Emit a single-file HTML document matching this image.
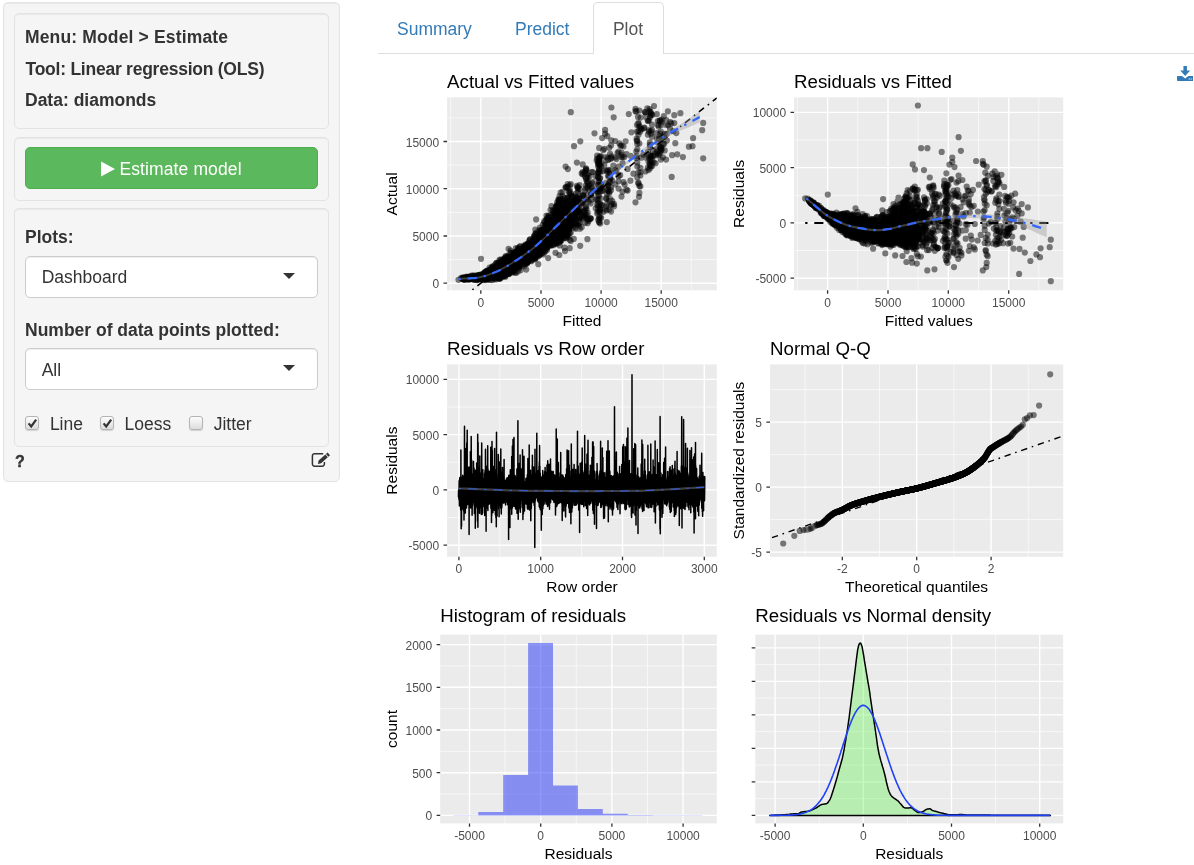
<!DOCTYPE html>
<html lang="en">
<head>
<meta charset="utf-8">
<title>Radiant - Linear regression (OLS)</title>
<style>
html,body{margin:0;padding:0;background:#fff;}
body{width:1194px;height:865px;position:relative;overflow:hidden;font-family:"Liberation Sans",Arial,sans-serif;font-size:17.5px;color:#333;}
.abs{position:absolute;}
.well{position:absolute;background:#f5f5f5;border:1px solid #e3e3e3;border-radius:5px;box-shadow:inset 0 1px 1px rgba(0,0,0,.05);box-sizing:border-box;}
.lbl{margin:-1px 0 0 -1px;position:absolute;font-weight:bold;white-space:nowrap;line-height:20px;height:20px;}
.txt{margin:-1px 0 0 -1px;position:absolute;white-space:nowrap;line-height:20px;height:20px;}
.btn{position:absolute;left:25px;top:147px;width:293px;height:42px;box-sizing:border-box;background:#5cb85c;border:1px solid #4cae4c;border-radius:5px;color:#fff;}
.sel{position:absolute;left:25px;width:293px;height:41px;box-sizing:border-box;background:#fff;border:1px solid #ccc;border-radius:5px;box-shadow:inset 0 1px 1px rgba(0,0,0,.075);}
.sel i{position:absolute;left:257px;top:15.5px;width:0;height:0;border-left:6px solid transparent;border-right:6px solid transparent;border-top:6px solid #333;}
.cb{position:absolute;top:416px;width:13.5px;height:13.5px;box-sizing:border-box;border:1px solid #b4b4b4;border-radius:3px;background:linear-gradient(#fdfdfd,#dcdcdc);box-shadow:0 1px 1px rgba(0,0,0,.15);}
.cb svg{position:absolute;left:0;top:0;}
.tabs{position:absolute;left:378px;top:0;width:816px;height:53px;border-bottom:1px solid #ddd;}
.tab{margin:-1px 0 0 -1px;position:absolute;white-space:nowrap;line-height:20px;height:20px;color:#337ab7;}
.tab.active{color:#555;}
.tabbox{position:absolute;left:593px;top:2px;width:71px;height:52px;box-sizing:border-box;border:1px solid #ddd;border-bottom:none;border-radius:5px 5px 0 0;background:#fff;}
svg text{font-family:"Liberation Sans",Arial,sans-serif;}
</style>
</head>
<body>
<!-- sidebar -->
<div class="well" style="left:3px;top:2px;width:337px;height:480px;"></div>
<div class="well" style="left:14px;top:13px;width:315px;height:115.5px;"></div>
<div class="lbl" id="l1" style="left:26px;top:27.5px;letter-spacing:0.15px;">Menu: Model &gt; Estimate</div>
<div class="lbl" id="l2" style="left:26.5px;top:60px;letter-spacing:-0.24px;">Tool: Linear regression (OLS)</div>
<div class="lbl" id="l3" style="left:26px;top:90.5px;">Data<span>:</span> diamonds</div>

<div class="well" style="left:14px;top:136.5px;width:315px;height:64px;"></div>
<div class="btn">
  <svg class="abs" style="left:74px;top:13px" width="16" height="17" viewBox="0 0 16 17"><path d="M1 0.6 L15 8 L1 15.4 Z" fill="#fff"/></svg>
  <div class="txt" id="bt" style="left:94.4px;top:12px;color:#fff;letter-spacing:0.12px;">Estimate model</div>
</div>

<div class="well" style="left:14px;top:207.5px;width:315px;height:239.5px;"></div>
<div class="lbl" id="l4" style="left:26px;top:228px;">Plots:</div>
<div class="sel" style="top:256px;height:41.5px;"><div class="txt" id="s1" style="left:16.7px;top:11px;">Dashboard</div><i></i></div>
<div class="lbl" id="l5" style="left:26px;top:321px;">Number of data points plotted:</div>
<div class="sel" style="top:348px;height:41.5px;"><div class="txt" id="s2" style="left:16.7px;top:11.5px;">All</div><i></i></div>

<div class="cb" style="left:25px;"><svg width="13" height="13" viewBox="0 0 13 13"><path d="M2.6 6.4 L5.2 9.4 L10.2 2.6" fill="none" stroke="#333" stroke-width="2.2"/></svg></div>
<div class="txt" id="c1" style="left:50.9px;top:414.9px;">Line</div>
<div class="cb" style="left:100px;"><svg width="13" height="13" viewBox="0 0 13 13"><path d="M2.6 6.4 L5.2 9.4 L10.2 2.6" fill="none" stroke="#333" stroke-width="2.2"/></svg></div>
<div class="txt" id="c2" style="left:125.5px;top:414.9px;">Loess</div>
<div class="cb" style="left:189px;"></div>
<div class="txt" id="c3" style="left:214.7px;top:414.9px;">Jitter</div>

<div class="lbl" id="q" style="left:16px;top:453px;font-size:16px;-webkit-text-stroke:0.4px #333;">?</div>
<svg class="abs" style="left:311px;top:452px" width="20" height="16" viewBox="0 0 20 16">
  <path d="M13.4 10 V12 a2.15 2.15 0 0 1 -2.15 2.15 H3.55 a2.15 2.15 0 0 1 -2.15 -2.15 V3.9 a2.15 2.15 0 0 1 2.15 -2.15 H12.2" fill="none" stroke="#333" stroke-width="1.5"/>
  <path d="M6.9 11.9 L7.6 8.6 L14.4 2.6 L16.8 5.2 L10.1 11.3 Z M15 2.1 L16.6 0.6 L19 3.2 L17.4 4.7 Z" fill="#333"/>
</svg>

<!-- tabs -->
<div class="tabs"></div>
<div class="tabbox"></div>
<div class="tab" id="t1" style="left:398px;top:19.8px;">Summary</div>
<div class="tab" id="t2" style="left:516px;top:19.8px;">Predict</div>
<div class="tab active" id="t3" style="left:613.9px;top:19.8px;">Plot</div>

<!-- download icon -->
<svg class="abs" style="left:1177px;top:66px" width="16.4" height="15" viewBox="0 0 17 15" preserveAspectRatio="none">
  <path d="M6.7 0 H10.3 V4.6 H13.6 L8.5 10 L3.4 4.6 H6.7 Z" fill="#337ab7"/>
  <path d="M0.8 10 H5.2 L8.5 12.6 L11.8 10 H16.2 a0.8 0.8 0 0 1 .8 .8 V14.2 a0.8 0.8 0 0 1 -.8 .8 H0.8 a0.8 0.8 0 0 1 -.8 -.8 V10.8 a0.8 0.8 0 0 1 .8 -.8 Z" fill="#337ab7"/>
  <rect x="12.2" y="12.3" width="1" height="1.4" fill="#fff" opacity=".8"/><rect x="14.2" y="12.3" width="1" height="1.4" fill="#fff" opacity=".8"/>
</svg>

<!-- plots -->
<svg class="abs" style="left:0;top:0" width="1194" height="865" viewBox="0 0 1194 865">
<clipPath id="cp1"><rect x="447.1" y="97.4" width="269.7" height="192.9"/></clipPath>
<rect x="447.1" y="97.4" width="269.7" height="192.9" fill="#ebebeb"/>
<path d="M450.7 97.4V290.3M510.9 97.4V290.3M571 97.4V290.3M631.2 97.4V290.3M691.3 97.4V290.3M447.1 259.6H716.8M447.1 212.4H716.8M447.1 165.1H716.8M447.1 117.9H716.8" stroke="#fff" stroke-width="0.7" fill="none" opacity="0.85"/>
<path d="M480.8 97.4V290.3M541 97.4V290.3M601.1 97.4V290.3M661.2 97.4V290.3M447.1 283.2H716.8M447.1 236H716.8M447.1 188.7H716.8M447.1 141.5H716.8" stroke="#fff" stroke-width="1.4" fill="none"/>
<g clip-path="url(#cp1)" stroke="#000" stroke-opacity="0.5" stroke-width="6.2" stroke-linecap="round" fill="none">
<path d="M598.2 161.8h0M547.4 243.4h0M486.1 276h0M512.9 260h0M536 252.3h0M494.6 268.6h0M549.4 216.8h0M479.4 278.7h0M495.6 269.8h0M554.5 222.1h0M544.3 230.7h0M474.9 277.1h0M538.3 242.8h0M463.8 279h0M487.1 270.7h0M505.7 270.1h0M577.8 203.5h0M489.6 276h0M578.8 203.3h0M497.4 269.1h0M469.3 278.7h0M528.1 254.5h0M517 263h0M578.8 208.2h0M495.6 270.1h0M581.7 216.6h0M504.4 268.9h0M557.6 239.5h0M468.8 278.9h0M549.4 231.7h0M524.1 262.2h0M510.6 261.3h0M497.7 278h0M546.4 242.4h0M574.8 218.7h0M544 238.6h0M525 263.9h0M493.3 272.2h0M488.5 274.8h0M575.8 199.3h0M487.5 276.6h0M542.9 244.5h0M535.3 246.6h0M518 252.2h0M552.5 226.6h0M553.5 227.5h0M551.5 233.8h0M501.8 275.2h0M574.9 207.3h0M485.4 275.2h0M558.2 204h0M481.4 278.8h0M491.3 275.5h0M530.1 245.9h0M509.4 269.5h0M500.4 262.1h0M639.4 185.9h0M580.3 141.3h0M469.3 278.9h0M564.7 207.2h0M506.4 260.5h0M535.3 248.1h0M526 250.4h0M484.4 274.9h0M547 228.5h0M651 113.1h0M556.6 223.7h0M505.4 275h0M506.4 268.6h0M479.4 277.4h0M535.8 242.1h0M659.1 150.9h0M574.8 209h0M560.3 230h0M489.5 274.5h0M548.2 234.6h0M557.5 229.8h0M486.1 275h0M489.3 273.3h0M548.4 244.2h0M569.5 193.4h0M504.8 269.4h0M564.6 230.3h0M540.4 230.1h0M497.7 266h0M608.3 176.5h0M483.4 277.5h0M480.4 276.8h0M527.9 261.8h0M518.9 258.8h0M516 267.1h0M494.4 275h0M612.1 180.5h0M510.8 262.3h0M566.4 238.2h0M494.4 267.6h0M519 266.7h0M508.6 255h0M468.2 278.5h0M497.7 270.1h0M497.7 266.8h0M510.5 250.5h0M487.4 275.6h0M499.4 269.1h0M524.7 245.9h0M468.8 278.6h0M501.7 260.7h0M487.1 278.4h0M508.8 259.9h0M491.5 275.2h0M568.7 230h0M524 263.9h0M487.5 274.6h0M509.6 264h0M526.1 255.9h0M569.7 219.9h0M525 246.3h0M519 252.5h0M498.4 273.5h0M534.8 250.4h0M467.8 278.4h0M538.3 247.9h0M509.8 254.7h0M555.1 220.6h0M555.5 252.8h0M471.9 278.7h0M555.1 244.2h0M500.5 266.7h0M545.2 241.2h0M565.6 218.5h0M552.5 244.6h0M517 260.7h0M570.5 221.9h0M507.4 264.2h0M525 253.9h0M550.5 234.6h0M541.3 245.1h0M627.6 190.6h0M510.6 271h0M481 258.8h0M556.5 231.8h0M516.9 261.3h0M566.7 235.3h0M467.8 278.6h0M498.7 271.1h0M493.7 271h0M559.3 230.6h0M606.2 157.1h0M558.2 235.1h0M505.4 271.7h0M491.3 275.3h0M537.9 242.5h0M559.5 215.9h0M536.8 247.1h0M568.8 222.6h0M517.7 259.4h0M586.6 199.5h0M488.5 273.3h0M517 255.6h0M498.7 262.7h0M517 250.9h0M497.7 274.9h0M600.2 209.9h0M487.5 274.9h0M559.5 235.2h0M547.4 238.3h0M515.9 267.6h0M584 211.2h0M547.4 240.4h0M560.3 239.7h0M494.5 275.3h0M554.5 225.4h0M512.9 272.1h0M464.8 278.7h0M534.8 247.7h0M541.9 241.1h0M548.5 226.5h0"/>
<path d="M676.3 133.1h0M558.3 221.7h0M515.9 261.2h0M534.1 249.5h0M638.4 123.1h0M486.5 276.8h0M536.2 246.7h0M532.8 250.3h0M489.3 272.9h0M477.4 277.8h0M506.4 259.2h0M536.8 241.5h0M527.1 253.6h0M548 235h0M497.7 270h0M500.7 268.3h0M495.7 277h0M541.9 234h0M503.7 266.3h0M506.6 267.1h0M555.5 230.7h0M466.8 278.8h0M499.8 271.9h0M659.7 120.7h0M540 252.7h0M656.8 114.2h0M638.4 172.3h0M533.3 252.9h0M552.5 225.6h0M587.4 239.2h0M523.9 255.2h0M598.2 204.9h0M546 227.3h0M574.8 210h0M559.3 232.4h0M555.5 209.9h0M539.3 249.2h0M487.4 274.7h0M574.8 199.2h0M494.7 270.1h0M544.3 231.8h0M541.9 250.4h0M480.4 278.1h0M506.4 271.4h0M495.6 272.6h0M561.4 232.9h0M526.7 247.3h0M480.4 274.8h0M564.4 225.8h0M482.2 275.1h0M498.6 272.8h0M501.5 267.5h0M488.1 274.1h0M674.3 123.1h0M511.7 270.9h0M474.9 277.6h0M497.7 271h0M555.5 213.1h0M479.4 279h0M484.4 276.5h0M502.7 272.6h0M468.8 279.9h0M492.3 278.1h0M529.9 259h0M478.4 279.2h0M566.8 227.4h0M469.8 277.4h0M593.1 190.9h0M512.9 260.7h0M517 252.5h0M605.9 183.2h0M496.7 271h0M556.6 220.8h0M525.7 255.4h0M548.4 242.3h0M576.8 197.7h0M588.6 188.9h0M551.5 241.6h0M488.3 275.9h0M566.6 203.4h0M588.6 221.1h0M609.3 193.3h0M492.2 276.2h0M597.8 203.3h0M541.9 241.6h0M640.5 117.6h0M585.6 214.6h0M474.9 278.6h0M637.3 166.3h0M494.6 271.7h0M547.4 247.6h0M564.6 225.2h0M569.7 227.9h0M485.4 276.5h0M546.4 219.2h0M468.2 278h0M536.8 248.3h0M505.4 269.2h0M586 185.4h0M530.1 239.4h0M491.2 270.5h0M568.7 219.9h0M523.1 249.1h0M515.9 256.3h0M548.4 227.8h0M564.6 197.9h0M557.6 240.9h0M495.6 274.7h0M517 251.5h0M504.7 274.3h0M494.6 273.7h0M495.4 264.7h0M529.9 256.5h0M514 263.2h0M652 124.7h0M561.4 220.7h0M637 125.1h0M514 264.4h0M513.5 261h0M531.1 257.8h0M540.9 232.4h0M529.1 251.1h0M577.8 210.1h0M577.8 201.9h0M499.7 271.5h0M536.8 242.1h0M519 260.3h0M492.7 274.4h0M660.1 133.6h0M540.9 231.1h0M525 251.5h0M485.4 276.8h0M545.3 237.8h0M600.2 209.6h0M615.4 170h0M592.7 172.2h0M513.6 259.9h0M562.4 218.4h0M509.6 267.6h0M546.4 226.8h0M476.4 279h0M566.7 209.3h0M470.3 278.2h0M557.6 208.2h0M568.7 215.8h0M559.3 209.2h0M579.8 201.5h0M576.9 185.9h0M538.2 242.5h0M524.1 255.1h0M546.4 243.2h0M557.1 226.7h0M631.4 132.3h0M563.7 217.8h0M557.1 216.2h0M556.1 225.9h0M539.3 252.6h0M486.1 278.2h0M517.9 252.3h0M480.4 275h0M533.3 247.1h0M489.3 277.8h0M511.5 269.8h0M559.3 211.4h0M552.5 239.2h0M570.8 241.1h0M487.3 271.6h0M569.7 225.7h0M526.1 247h0M486.5 275.2h0M537 252h0M493.2 274.5h0M519 265.7h0M574 146.2h0M493.6 274.7h0M478 278.3h0M583.7 211.8h0M495.6 264.1h0M569.5 222.5h0M524.1 251h0M574.8 216.3h0M477.3 278.6h0M502.8 267.5h0M508.8 270.2h0M479.4 278.7h0M481.4 279.2h0M548.4 220.7h0M495.6 274.4h0"/>
<path d="M469.3 276.9h0M557.6 229h0M567.7 223h0M486.5 273.4h0M475.3 277.9h0M535.8 253.8h0M575.8 205.8h0M564.3 228.5h0M554.5 232.4h0M486.5 275.8h0M489.5 276.4h0M555.5 220.3h0M497.7 276.2h0M516 265.1h0M546.4 238.8h0M518 265.9h0M522 255.3h0M550.5 238.2h0M565.6 187.5h0M599.2 217h0M484.4 276.3h0M488.5 277.6h0M546.4 223.8h0M555.5 219.1h0M555.5 238.5h0M546.4 230.7h0M495.6 267h0M540.9 240.2h0M549.2 239h0M495.2 274.8h0M555.3 228.9h0M512.6 271.1h0M487.5 278h0M542.1 245.9h0M533.9 249.9h0M529.9 247.8h0M500.5 277.3h0M536.8 250h0M547.4 227.8h0M575.7 201.4h0M494.5 273.2h0M494.6 275.4h0M500.5 267.4h0M475.3 278.9h0M481.4 275.8h0M537 240.5h0M482.4 275.5h0M582.7 174.2h0M482.4 278.1h0M504.7 272h0M666.1 159.6h0M513.6 253.1h0M538.2 250h0M488.3 275.7h0M607.3 136.2h0M556.6 214.7h0M486.5 275.5h0M661.7 122.2h0M511.6 264h0M495.7 270.2h0M482.4 277.6h0M565.7 207h0M507.4 258.4h0M558.2 229.3h0M540 238.8h0M484.4 275.2h0M516.5 261.2h0M486.5 276.6h0M503.7 271.8h0M555.5 233.5h0M688.9 146.7h0M518 271.6h0M504.7 267.1h0M498.7 267.5h0M511.5 268.3h0M548.4 245.4h0M567.7 186.6h0M659 139.3h0M520.9 252.8h0M489.3 271.9h0M497.6 268.2h0M503.6 266.1h0M494.6 272.3h0M518.9 254.7h0M555.5 232.4h0M512.6 259.7h0M549.4 233.7h0M499.7 277.5h0M514 261.9h0M549.4 243.9h0M539.9 227.5h0M536.8 247.5h0M479.4 277.7h0M484.5 273.4h0M558.3 226.8h0M519 264.9h0M640.1 131.7h0M492.3 274.9h0M547.4 230.1h0M571.8 222h0M560.6 212.5h0M511.9 262.8h0M485.4 273.5h0M475.3 276.4h0M480.4 278.9h0M504.7 265.1h0M510.6 270h0M478.4 275.6h0M529.9 239.6h0M487.5 275h0M527.1 248.1h0M496.7 268.5h0M569.7 191.6h0M467.8 278.5h0M524.1 253.1h0M497.6 273.4h0M555.5 217.4h0M480.4 274.6h0M506.8 270.3h0M586.9 181.6h0M510.8 267.1h0M620.5 145.7h0M487.5 271.9h0M511.7 267.4h0M510.7 269.7h0M521 260.3h0M498.6 266.9h0M504.7 269h0M558.6 225.9h0M490.3 275.9h0M541.1 239.2h0M504.7 269.5h0M545.3 242.7h0M586.6 198.6h0M556.5 232.2h0M562.6 199.4h0M503.8 267.5h0M515.9 253.2h0M485.4 277.4h0M561.4 223.9h0M483.5 277h0M476.4 278.6h0M517 260.5h0M466.8 279.1h0M603.2 212h0M653.6 162.2h0M477.4 278.7h0M491.3 275.4h0M493.6 266.3h0M528.1 254.4h0M564.6 214.8h0M497.4 268.3h0M580.9 211.9h0M505.6 264.6h0M500.5 268.6h0M578.9 198.7h0M639.4 127h0M549.4 238.6h0M582.7 203h0M552.5 227.5h0M490.2 274.1h0M563.4 235.4h0M482.2 277h0M636.3 151.5h0M564.3 223h0M463.8 279h0M492.7 274.7h0M535.8 256.4h0M507.9 271.6h0M587.7 187.4h0M492.3 272.7h0M569.7 248.2h0M653 150.7h0M575.8 196.5h0M487.5 275.7h0M583.7 196h0M525.7 250.9h0M553.5 220.1h0M458.5 279.8h0M599.2 159.6h0M494.6 271.2h0M535.8 233.3h0M526 250.8h0M492.6 269h0M548.4 232h0M583.9 215.3h0M626.5 189.7h0M610.9 187.2h0M493.3 276.7h0M609.3 187.1h0M549.4 228.1h0M509.6 271.3h0M522 252.8h0M477.4 278.4h0M558.3 228.1h0M519 268.1h0M515 255.1h0M557.1 202.6h0M490.2 276.2h0M508.9 264.8h0M606.9 193.7h0M540 243.6h0M535.3 258.6h0M548.4 230.4h0M475.3 277.8h0M513.8 269.7h0M504.8 266.4h0M493.6 270.2h0M536.2 240.8h0M535.3 239.4h0M511.6 260.1h0M494.7 266.9h0M535.1 239h0M587.6 174.8h0"/>
<path d="M484.5 276.6h0M562.4 229.1h0M556.5 213.5h0M541.9 253.3h0M539.9 240h0M476.4 278.6h0M561.6 227.7h0M599.8 178.5h0M488.3 277.5h0M501.6 274.6h0M658.6 126.4h0M497.7 265.7h0M477.4 277.3h0M581.7 227.2h0M648.5 170.1h0M601.2 185.2h0M564.7 210.6h0M561.6 211h0M554.5 227.7h0M555.5 226.9h0M539.9 241.4h0M541.3 247.8h0M492.3 275.2h0M524.7 252.7h0M469.8 277.7h0M517.9 260.4h0M539.9 238.7h0M499.6 274.9h0M588.6 185.7h0M551.5 240.6h0M495.6 273h0M668.2 125.3h0M566.8 229.7h0M510.8 267.8h0M483.4 277.5h0M579.6 185.2h0M650.4 111.9h0M535.1 253.5h0M558.2 239.1h0M508.9 269.7h0M538.9 236.8h0M599.2 164.8h0M597.8 211.7h0M548.4 222.5h0M565.7 187h0M526.1 260.9h0M666.9 133.8h0M495.4 272.1h0M487.1 276.7h0M505.7 266.5h0M648.9 131.7h0M489.1 274.5h0M498.3 273.8h0M499.5 269.6h0M582.7 172.1h0M561.2 236.3h0M512.6 257.5h0M529.9 252.4h0M515.9 263.7h0M530.1 253.5h0M483.4 277h0M489.6 272.6h0M539.9 253.8h0M518 262h0M509.6 257.3h0M558.6 231.8h0M567.7 214h0M495.6 270.3h0M646.5 158h0M495.4 274.2h0M633.4 173.7h0M671.7 176.9h0M500.7 264.6h0M648.5 161.7h0M562.6 191.9h0M507.7 256.3h0M553.5 243.7h0M617.5 153.2h0M527.1 259.4h0M482.4 275.5h0M570.7 201.9h0M498.6 267h0M495.6 274.1h0M484.4 279.5h0M463.8 278.8h0M548.4 222.7h0M509.9 268.9h0M519.9 262.7h0M478.4 275.7h0M590.6 218.7h0M558.6 199.4h0M492.6 273.9h0M663.1 143.8h0M477 280.1h0M520.1 260.7h0M486.5 273.8h0M546 224.3h0M542.9 252.2h0M568.8 229.6h0M529.1 241.1h0M535.3 229.7h0M466.8 278.6h0M494.5 267.8h0M510.5 265.1h0M514.5 252.2h0M662.7 145.3h0M559.6 241.5h0M503.8 271.9h0M478.3 276.7h0M499.8 266.5h0M567.7 220.7h0M535.8 248.3h0M489.3 275h0M674.3 115.2h0M496.7 266.7h0M488.3 271.9h0M569.7 199.8h0M532.2 244h0M543.4 240.4h0M551.5 231.9h0M559.3 235.9h0M554.5 233.8h0M645.1 112.3h0M641.4 157.7h0M664.7 150.4h0M519 261.3h0M529.1 244.8h0M604.3 148.8h0M486.1 275.8h0M491.5 274.8h0M482.4 276.6h0M507.8 268.6h0M492.6 273.4h0M476.4 278.7h0M563.4 223.1h0M513.9 267.1h0M614.1 204h0M487.5 276.9h0M570.7 205.9h0M525 256h0M541.9 230.7h0M571.8 224h0M488.4 275h0M527.9 243.7h0M574.6 201.6h0M570.5 197.6h0M475.3 278.8h0M563.2 232.4h0M523.8 259.6h0M548.2 238.8h0M693.1 138.2h0M484.5 275.2h0M663.8 116.2h0M476.4 276.9h0M477.4 277.3h0"/>
<path d="M585.9 207.7h0M510.5 266.5h0M584.7 173h0M561.4 237.3h0M546.4 238.2h0M598.2 177.6h0M506.8 272h0M474.9 277.5h0M527.7 261.8h0M515.9 262h0M609.1 198.9h0M470.3 278h0M464.8 279.3h0M557.5 229.9h0M497.7 270.3h0M506.8 264.6h0M600.2 208.7h0M607.3 171.2h0M513.9 260h0M489.3 278.2h0M575.7 204.4h0M504.4 273.2h0M513.7 261.3h0M524 260.1h0M577.8 198.2h0M563.4 210.4h0M492.7 268.9h0M636.7 156.1h0M526 248.9h0M505.4 276.8h0M548.4 240.7h0M639 196.8h0M583.9 217.1h0M560.6 228.9h0M546.4 219.9h0M500.4 269h0M519 250.7h0M492.3 275.2h0M541.1 251.7h0M487.3 278.8h0M591 195.1h0M506.8 263.6h0M550.5 237.9h0M487.5 276.5h0M621.5 155h0M625.6 141.3h0M466.8 278.1h0M505.8 273.5h0M482.4 276.1h0M570.5 220.6h0M513.8 257.2h0M462.2 278.2h0M550 244.9h0M498.4 270h0M660.1 147.5h0M515.7 259h0M484.4 274h0M487.3 272.1h0M484.5 277.9h0M496.6 269.2h0M651.5 114.4h0M609.3 182.5h0M484.4 274.5h0M549.4 228.1h0M577.8 192.9h0M493.5 271.7h0M510.5 258.3h0M543.4 254.3h0M477.4 278.7h0M607.9 158.1h0M478.4 277.6h0M534.8 248.7h0M489.3 275.9h0M534.2 254.1h0M559.5 238.4h0M502.8 267.1h0M568.7 228.8h0M499.8 267.3h0M521.8 255.3h0M496.7 266.4h0M525.7 245.7h0M519 262.5h0M516.9 251.7h0M572.8 227.8h0M563.4 224.3h0M626.5 154.1h0M529.9 257.6h0M549.4 231.5h0M488.5 278.1h0M538.2 248.6h0M509.6 273h0M506.8 267h0M559.5 200.7h0M487.5 276.7h0M567.7 217.7h0M466.8 279.1h0M500.4 263.5h0M618.5 188.6h0M630.6 155.8h0M478.4 276.3h0M561.2 224.1h0M485.1 273.9h0M540 254h0M519 259.8h0M575.8 193.8h0M512.6 266.8h0M567.7 218.8h0M509.6 273.6h0M506.9 270.4h0M499.4 272.9h0M545 229.9h0M507.6 265h0M652 166.2h0M477.3 277.5h0M520 246.4h0M599.2 169.1h0M521.9 257.3h0M504.7 274.8h0M509.6 270h0M520 261.4h0M599.2 188.8h0M659.1 154.4h0M486.1 273h0M637 131.6h0M496.6 263.1h0M467.8 277.9h0M559.3 221.6h0M462.7 278.8h0M494.6 276.2h0M500.8 264.9h0M574.9 200.5h0M608.3 159.9h0M483.4 274.7h0M477.4 278.7h0M496.6 276h0M507.8 272h0M616.4 159.1h0M610.4 179h0M511.7 272.6h0M502.7 266.9h0M469.8 277.2h0M493.7 275.1h0M495.7 269.9h0M547 222.5h0M610.4 199.2h0M535.8 250.5h0M489.6 267.5h0M534.8 239.5h0M552.3 226.4h0M563.7 220.3h0M498.4 267.2h0M542.1 229.6h0M497.6 265h0M557.5 225.6h0M502.8 262.7h0M639.4 143.5h0M519.7 254.1h0M559.3 236.6h0M621.5 196.6h0M490.3 273.5h0M492.2 270.2h0M574.8 203h0M505.7 275.3h0M582.9 194.7h0M599.2 222.2h0M485.1 276.8h0M478.4 279.2h0M546.4 234h0M512.5 261h0M647.9 167.4h0M574.8 213.1h0M563.4 224.3h0M503.7 269.9h0M548.4 229.9h0M590.6 203.5h0M558.6 229h0M538.3 254.1h0M467.8 278.9h0M493.6 273.2h0M484.5 273.7h0M495.2 268.7h0M528.7 246h0M503.8 270.3h0M569.5 225.9h0M488.3 272.5h0M523.1 248.9h0M488.3 275.9h0M606.2 206.6h0M563.6 211.9h0M503.6 272.1h0M537.2 237.8h0"/>
<path d="M557.5 219.6h0M488.3 270.9h0M490.5 269.4h0M586.7 218.3h0M560.6 220h0M486.5 275.3h0M485.5 275.4h0M496.7 271.7h0M574.8 206.3h0M531.1 246.4h0M498.5 271.2h0M548 236.9h0M497.7 274.8h0M535.8 243.4h0M546 234.9h0M493.3 277.7h0M470.3 278.7h0M555.5 231.5h0M533.9 244.5h0M489.3 271.9h0M521 257.2h0M557.5 221.7h0M499.6 267.8h0M465.8 279h0M493.6 273.6h0M531.1 252.3h0M482.4 275.1h0M537.9 233.5h0M558.5 211.1h0M548.4 235.7h0M509.6 260.1h0M526.7 258.6h0M553.5 210h0M510.8 261.8h0M600.2 198.6h0M490.3 270.1h0M606.2 198h0M489.5 273.8h0M528.9 256.2h0M492.5 276h0M571.5 224.6h0M483.4 273.3h0M526.9 263.4h0M659.1 135.7h0M478.4 278.7h0M557.5 233.5h0M657 152.3h0M497.7 275.1h0M524 259.2h0M599.2 161.6h0M485.5 272.2h0M529.9 247.8h0M618.5 176.2h0M535.8 244.5h0M539.9 245.2h0M522 256.9h0M487.5 273.5h0M559.5 226.9h0M490.3 275.9h0M651 155.9h0M558.2 220.4h0M476.4 278.9h0M540 250.4h0M487.5 273h0M539.3 249.1h0M512.9 266.1h0M503.8 259.3h0M491.5 274.3h0M532.9 253h0M564.7 228.4h0M600.2 172.3h0M611.3 140.3h0M474.3 275.7h0M637.3 140.8h0M585.9 177.5h0M485.1 277.7h0M497.7 273.2h0M558.5 201h0M528.1 243.7h0M640.4 172.3h0M537.9 240.5h0M525 252.3h0M537.3 235.4h0M590.6 218.5h0M494.5 276h0M649.9 117.6h0M496.4 277h0M514.9 255.4h0M477.4 277.4h0M508.4 271.6h0M535 252.5h0M567.7 197.7h0M515.7 258.9h0M558.5 237.7h0M574.8 223.4h0M547.4 237.6h0M502.8 271.3h0M463.3 279.3h0M463.5 277.9h0M525.7 256.2h0M535.8 242.9h0M546.4 248.9h0M512.9 258.6h0M495.2 274.7h0M566.8 213.8h0M491.3 272.3h0M485.4 274h0M515.9 248.1h0M519 260h0M569.7 208.7h0M579.8 212.1h0M555.5 218.5h0M463.8 279.3h0M498.4 273.4h0M527.9 256.3h0M575.8 211h0M547.4 243.6h0M565.6 202.1h0M518.8 254.2h0M611.4 156.3h0M546.4 227.5h0M558.6 212.4h0M568.6 213.2h0M468.8 278.9h0M507.4 270.9h0M557.1 236.1h0M542.9 243.7h0M533.3 240.9h0M479.4 278.7h0M563.4 216.9h0M584.9 210.1h0M533.2 244.7h0M562.6 208.4h0M512.6 264.7h0M489.3 274h0M535.3 256.3h0M492.7 270h0M507.6 262.6h0M502.8 272.8h0M656.6 133.1h0M489.3 275.5h0M566.4 236.2h0M529.1 245.2h0M524 254.3h0M496.7 271.3h0M469.3 277.7h0M566.7 235.1h0M545 248.9h0M572.8 202.3h0M564.4 228.4h0M576.8 202.3h0M564.3 211.3h0M550.5 230.8h0M568.6 223.2h0M575.8 219.4h0M505.8 264.4h0M597.2 205.1h0M509.4 270.2h0M466.8 278.6h0M491.5 269.1h0M468.2 277.5h0M492.5 271.9h0M544.3 243.1h0M498.4 276.9h0M563.7 238.2h0M638.4 131.3h0M505.9 268.2h0M492.7 276.1h0M548.4 239h0M587.6 194.7h0M528.1 261.1h0M649.9 144.8h0M565.7 207.6h0M508.4 272h0M503.7 264.9h0"/>
<path d="M524.7 252.1h0M535 248.3h0M470.3 278.8h0M530.8 242.6h0M515.7 257h0M609.9 173.6h0M602.2 205.2h0M532.1 259.6h0M549 228.3h0M490.5 275.6h0M610.9 158.4h0M575.9 212.9h0M535.8 249.8h0M491.5 276.2h0M499.5 272.3h0M492.7 275.1h0M528.9 253.8h0M565 251.1h0M555.5 234h0M513.6 259.2h0M551.4 241.4h0M544.3 248.7h0M515.7 258.1h0M550.4 233.6h0M509.8 256.9h0M578.8 225.6h0M514.7 256h0M526 255.2h0M512.6 256.5h0M508.6 263.9h0M554.5 219.2h0M536.1 219.4h0M495.6 279.5h0M492.6 273.7h0M624.3 157.1h0M498.4 268.1h0M511.5 262.4h0M576.8 211.8h0M497.7 270.6h0M487.3 279.3h0M478.4 276.1h0M507.9 269.3h0M488.5 271.3h0M465.8 279.1h0M568.7 207.7h0M490.6 273.7h0M464.8 278.1h0M525.7 256.4h0M493.5 271.2h0M492.3 271.2h0M586.6 170.1h0M483.4 280.1h0M613.7 117.3h0M514 253.5h0M508.8 262.7h0M479.4 277.4h0M651 156.6h0M555.5 234.5h0M548.4 224.5h0M497.7 273.3h0M509.4 268.3h0M524 253.3h0M539.3 252.1h0M485.1 275.3h0M529.1 246.3h0M514.8 262.2h0M525.7 263.7h0M499.5 274h0M586.6 209.1h0M610.3 177.8h0M549.4 219.8h0M464.8 278.8h0M545.3 241.8h0M541.1 234.4h0M551.1 227.5h0M516 262.3h0M538.9 237.9h0M541.3 253h0M551.5 238.5h0M535.8 250.1h0M517 261.6h0M545 251h0M517 266.2h0M517 255.4h0M508.6 265.9h0M503.7 270.8h0M665.8 124.7h0M606.2 210.5h0M490.5 273.5h0M507.4 268.7h0M575.8 217.1h0M566.7 205.4h0M554.5 216h0M475.9 277.3h0M506.4 268.4h0M489.6 270.8h0M478.4 279.1h0M558.6 217.9h0M570.8 223.7h0M525 254.4h0M600.8 184.5h0M568.7 217h0M544.2 247.5h0M557.6 234.5h0M526.7 262.7h0M598.2 199.5h0M486.1 275.2h0M556.1 215h0M564.6 234.1h0M666.2 120h0M534.1 236.7h0M592.1 187.7h0M647.9 151.9h0M615.2 184.3h0M524.7 262.3h0M506.8 272h0M547.4 239.8h0M567.7 184h0M488.3 273.9h0M540.9 240.7h0M492.3 273h0M466.8 276.7h0M485.5 274.5h0M540.2 236.3h0M485.5 273.4h0M511.5 265.6h0M549.4 233.8h0M499.7 274.4h0M560.3 216.6h0M548.4 220h0M510.6 266.5h0M528.9 243.3h0M564.4 202.3h0M548.4 229.5h0M661.1 125.2h0M580.9 203.5h0M561.4 208.1h0M599.2 222.2h0M489.3 275.9h0M556.6 242.4h0M518 266.9h0M495.7 271.9h0M499.7 268.5h0M545 249.3h0M558.3 230.8h0M514 254.1h0M499.4 277.2h0M638.4 182.7h0M648.9 130.1h0M513.8 255h0M484.4 276.3h0M496.6 267h0M483.4 277.4h0M496.7 276.7h0M498.7 272.6h0M538.9 240.7h0M548.4 239.9h0M568.7 204.4h0M542.9 250.3h0M493.5 273.2h0M493.2 271.5h0M560.6 192.6h0M524.1 262.5h0M478.3 278.6h0M527.9 256.7h0M554.5 234.7h0M529.9 246.9h0M552.5 211.2h0M506.8 270.1h0M489.5 277.1h0M488.3 276.5h0M597.2 213.4h0M524.1 259.6h0M503.7 267.4h0M550.5 227h0M703.2 122.9h0M524 266.2h0M535.8 245.3h0M476.4 279h0M600.2 217.6h0M556.1 242h0M559.3 234.1h0M569.7 217.6h0M512.5 263.3h0M622.6 163h0M492.5 273.6h0M660.8 131.5h0"/>
<path d="M507.4 263.7h0M530.9 255.7h0M554.5 232.3h0M505.7 266.1h0M506.6 274.2h0M551.5 245.3h0M495.7 275.8h0M564.4 215.5h0M509.4 262.5h0M489.1 271.7h0M514 267.2h0M525 265.1h0M592.1 183.3h0M504.6 258.1h0M579.6 223.1h0M528.1 248.6h0M558.5 199.8h0M497.6 276.4h0M599.2 204.2h0M495.6 274h0M570.8 112.2h0M549.4 235.6h0M487.5 273.2h0M546 234.7h0M536.8 237.9h0M568.7 217.1h0M535.2 259.5h0M505.7 272.2h0M487.3 272.9h0M580.2 245.8h0M490.5 269.3h0M649.1 111.2h0M475.3 277.7h0M523.1 252.2h0M484.4 274.5h0M574.8 223.1h0M493.5 276.3h0M533.9 248.2h0M484.1 274.7h0M494.6 278.3h0M497.7 271.3h0M503.7 269.5h0M493.7 269.9h0M518.9 248.8h0M484.4 275.7h0M492.3 272.2h0M560.6 208.1h0M520.1 255.6h0M490.2 276.1h0M636.3 157.9h0M562.4 232.1h0M570.8 214.6h0M487.5 277.1h0M499.7 278.1h0M484.4 274.2h0M486.1 274.7h0M495.6 270.8h0M555.5 230h0M555.5 218h0M501.7 274.1h0M525 254.2h0M516.9 258.8h0M498.6 271.9h0M486.5 274.1h0M498.6 266.7h0M538.3 264.2h0M534.1 258.2h0M477.3 276.4h0M550.2 242.2h0M519.8 254.9h0M499.8 262.5h0M569.7 185.4h0M486.5 278.4h0M550.2 238.5h0M548.4 231.8h0M563.2 201h0M563.4 231.8h0M486.5 275.8h0M488.3 273.7h0M477.4 278.6h0M479.4 276.9h0M550.2 221.6h0M526.2 269.6h0M499.4 275.5h0M526 257.7h0M652.6 156.6h0M557.6 207.1h0M703.2 158.3h0M541.9 244.5h0M505.8 264.4h0M494.7 274h0M560.6 230h0M485.1 274.4h0M526 253.6h0M490.5 274.6h0M488.6 278h0M641.4 128.8h0M500.8 268.2h0M528.1 256.3h0M640.4 167.8h0M500.4 268.1h0M483.4 276.2h0M476.4 278.7h0M560.6 227.1h0M501.7 270.6h0M538.9 233h0M502.7 265.6h0M560.6 241.6h0M474.9 279.8h0M657 138.5h0M563.4 217h0M470.9 277.9h0M526 251.7h0M500.7 266.7h0M508.4 267.6h0M474.9 278.4h0M661.8 149.2h0M478.4 275.9h0M490.2 280h0M504.7 265.5h0M549.4 220.6h0M571.8 204.3h0M503.8 276.2h0M523.1 258.7h0M562.2 225.1h0M556.6 205.8h0M559.3 202.1h0M567.7 220.8h0M530.1 254.5h0M524.7 249.3h0M552.5 224.9h0M561.4 204h0M491.5 268.2h0M566.7 212.6h0M500.7 271.6h0M517 256.4h0M481.4 276.5h0M570.8 193.4h0M547.4 244.7h0M466.8 278.1h0M514.8 260.1h0M508.4 267.3h0M489.5 275.2h0M525 248h0M523.1 247.6h0M579.6 219.4h0M525 256.5h0M491.6 277.3h0M503.8 261.6h0M652 130h0M652 161.4h0M493.7 271.1h0M499.8 266.3h0M569.7 189.1h0M535.8 256.2h0M487.3 273.2h0M473.9 276.1h0M531.2 261.2h0M502.5 273.9h0M505.4 267h0M494.7 275h0M514.8 265.1h0M519 253.7h0M514.8 262.1h0M512.9 269h0M599.2 158.1h0M558.2 241.8h0M520.8 259.3h0M470.9 278.4h0M555.5 217.5h0M538.9 244.1h0M521 256.8h0M558.6 208.5h0M655 153.8h0M658 124.9h0M490.6 274.7h0M484.1 274.6h0M524.1 261h0M492.6 272.3h0M467.8 277.9h0M492.3 269.6h0M649.9 142.4h0M495.6 271.9h0M535.8 239.4h0M502.5 269.2h0M491.5 273.9h0M649.4 112.4h0M463 279.1h0M555.5 215.5h0M490.2 278h0M517.9 262.7h0M555.5 227.9h0M466.8 279.1h0M551.4 232.4h0M538.3 253.2h0M670.3 122.1h0M466.8 277h0M569.7 226.9h0M645 112h0M577.8 187.6h0M534.3 247.8h0M606.2 170.5h0M494.5 275h0M464.8 278.3h0M497.7 272.3h0M547.4 240h0M598.2 172.8h0M535.8 252.2h0"/>
<path d="M504.7 269h0M535.2 236.9h0M491.2 274.9h0M517.9 261.7h0M465.8 278.8h0M497.7 277.4h0M469.8 278.4h0M647.9 134.7h0M585.7 188.4h0M463.8 278.9h0M482.4 276.4h0M520.8 255.7h0M539.3 244.1h0M494.4 276.2h0M506.8 273.3h0M534.8 250h0M522 255h0M492.3 271.3h0M557.6 222.6h0M579.6 208.6h0M490.5 276.7h0M488.3 275.9h0M495.7 273.5h0M520.6 270.2h0M563.4 236.1h0M560.6 210.7h0M536.8 253.3h0M562.4 237.6h0M555.5 207.1h0M533.1 252.4h0M475.3 277.9h0M505.7 260.5h0M520.8 260.6h0M475.3 276.7h0M666.9 140.6h0M488.5 273.7h0M569.7 216h0M536.2 244.6h0M548.4 241.5h0M509.8 262.3h0M547.4 239.9h0M565.6 204.9h0M508.8 265.8h0M483.4 278.3h0M613.3 165.7h0M598.2 163.6h0M485.5 273.3h0M556.6 240.4h0M552.5 214.5h0M495.6 273.9h0M516 260h0M541.1 245.7h0M506.4 272.1h0M488.5 276.5h0M600.2 187.1h0M640.4 175.5h0M520 263.9h0M505.4 268.4h0M644 128.3h0M505.7 258.7h0M549.4 244.3h0M493.5 270.5h0M529.9 253.3h0M651 161.5h0M588.6 173.7h0M530.2 253.3h0M486.5 279.2h0M591.7 188.4h0M518.7 253.7h0M600.2 157.3h0M484.4 277h0M539.3 255.3h0M520.8 263.4h0M598.2 185.2h0M488.1 275.6h0M588.6 219.3h0M576.9 162.6h0M535.1 236.8h0M598.2 195.3h0M544.2 228.9h0M574.8 206.8h0M480.4 277.6h0M464.8 278.9h0M520.1 263h0M480.1 276h0M493.7 273.4h0M521 255.5h0M595.7 199.6h0M496.7 265.9h0M525 252h0M572.8 209.9h0M552.5 236.7h0M529.9 254h0M567.6 236.7h0M530.9 254.1h0M508.6 272.5h0M499.7 277.5h0M509.6 263.1h0M505.7 256.8h0M520.1 254.2h0M497.6 265.7h0M481.4 278h0M500.7 273.8h0M488.5 274.5h0M525 246.6h0M661.8 139.6h0M516 253.5h0M487.5 276.6h0M510.8 262.4h0M559.3 238.4h0M524 247.9h0M488.5 276.9h0M606.8 222.1h0M557.5 234.3h0M487.5 275.2h0M544.2 229.4h0M500.6 270.1h0M550.5 242.7h0M484.1 278.7h0M537.2 245.7h0M465.8 279.1h0M527.1 263h0M513 266.2h0M547.4 221.7h0M542.9 250.8h0M536.8 237.2h0M527.7 261.3h0M487.5 276.5h0M502.8 260.5h0M610.1 170.3h0M496.7 269.2h0M494.4 269.5h0M477.3 277.4h0M555.5 218.3h0M601.2 205.5h0M582.7 195.7h0M537.3 244.2h0M548 234.8h0M492.6 274.2h0M546.4 231.5h0M544.4 230.9h0M536.8 250.9h0M547 244.4h0M555.1 235.9h0M466.8 278.6h0M527.7 255.1h0M504.8 269.9h0M624.6 184.6h0M507.7 273.8h0M532.9 256.5h0M488.5 272.2h0M639.5 126h0M559.3 205.7h0M591.7 172h0M546.4 224.9h0M519.9 262.2h0M559.6 233.5h0M500.7 268.6h0M485.4 273.8h0M555.5 229.3h0M564.4 213.8h0M505.8 258.6h0M670 128.7h0M505.4 268.4h0M594.5 133.3h0M539.9 236.2h0M502.7 276.5h0M636.7 140.7h0M547.4 218.5h0M639.4 192.9h0M547.4 245.8h0M510.6 262.3h0M548 216.1h0M549.4 233.2h0M635.5 111.2h0M489.3 271.6h0M525 254h0M490.3 270h0M566.4 234.4h0M552.2 229.2h0M537.9 254.3h0M510.7 257.2h0M514.8 267.9h0M598.2 188.8h0M503.7 264.1h0M492.3 274.6h0"/>
<path d="M568.7 207.3h0M498.7 274h0M516.7 255.4h0M664.9 133.9h0M546.4 233.6h0M488.3 274.9h0M507.8 259h0M554.5 237.2h0M485.4 278.2h0M492.6 267.9h0M495.6 268.1h0M555.5 215.3h0M515 254.4h0M489.5 276.7h0M536.8 241.3h0M545.2 250h0M503.7 267.8h0M541.9 237h0M660.7 147.6h0M603.2 171.1h0M479.4 278.2h0M499.4 278.2h0M484.4 274.4h0M516.9 260.4h0M524.1 253.4h0M649.9 165.4h0M557.6 206.1h0M484.4 274h0M545.3 232.8h0M518 260.3h0M549.4 224.4h0M560.6 238.2h0M495.6 275.6h0M587.6 219.9h0M587.6 177.8h0M485.1 276.4h0M494.6 273.1h0M485.5 272.5h0M555.5 234.8h0M551.5 221.8h0M483.4 278.3h0M557.1 217.4h0M492.7 266.9h0M597.2 155.7h0M528.1 253.1h0M542.9 232.5h0M493.7 270.5h0M489.6 277h0M538.9 241.2h0M504.7 265.5h0M493.6 270h0M487.5 272.7h0M507.6 271.4h0M492.3 280.1h0M536.2 256.3h0M552.5 232.7h0M675.3 143.2h0M485.5 273.9h0M550.5 236.1h0M485.4 276.8h0M493.3 272.7h0M509.6 260.9h0M569.7 206.6h0M493.6 270.1h0M489.1 276h0M504.8 258.3h0M606.2 198.8h0M484.4 274.8h0M496.7 271.4h0M557.6 228.7h0M515.9 268.3h0M552.5 217.2h0M509.4 266.8h0M526.9 256.4h0M501.8 273.5h0M639.4 110.6h0M476.4 278.7h0M598.2 208.3h0M638 116.9h0M569.5 217.5h0M559.5 234h0M500.7 268.5h0M612.4 204.2h0M566.4 222.8h0M549.4 235.4h0M537.9 238.6h0M493.5 275.8h0M513.9 258.3h0M505.7 263.5h0M558.3 217.5h0M564.4 217.8h0M558.6 217.1h0M498.7 269.5h0M575.8 205.8h0M552.5 221.8h0M534.8 244.8h0M488.3 274.6h0M481.4 277.8h0M555.5 213.1h0M515 256h0M518 248.3h0M501.5 267.9h0M482.4 278.1h0M584.9 176.3h0M500.7 277.7h0M559.2 234.3h0M481.4 276.7h0M611.4 107.5h0M561.6 216.4h0M510.6 256.3h0M495.6 272.5h0M515.5 255.6h0M534.1 241h0M488.4 277h0M599.2 147.9h0M505.8 256h0M505.4 261.8h0M508.4 261.4h0M579.6 217.6h0M587.6 201.8h0M462.8 278.6h0M548 219.7h0M478.4 278.7h0M547.4 245.1h0M475.3 278.5h0M588.8 201.5h0M507.4 269.2h0M481.4 278.1h0M469.3 277.8h0M489.5 274.9h0M605.1 133.7h0M586 169.2h0M661.7 119.5h0M521.8 248.8h0M585 222.8h0M487.5 277.3h0M505.7 263.5h0M509.6 262.4h0M529.1 253.7h0M508.8 267.3h0M488.4 274.2h0M487.3 277h0M545 228.8h0M557.6 229.8h0M504.7 273.2h0M537.9 255.4h0M476.4 278.7h0M519 268.3h0M505.8 268h0M501.7 267.1h0M540.3 249.2h0M535.2 247.4h0M537 237.4h0M599.2 182.3h0M567.7 216.7h0M569.7 220.4h0M479.4 277.4h0M584.9 190.7h0M682.9 157.1h0M495.2 274.1h0M509.6 257.6h0M628.8 114.1h0M479.4 278.3h0M547.4 239.5h0M568.7 201h0M653 156.1h0M492.3 272h0M534.8 258.5h0M595.7 176.4h0M527.9 250.5h0M570.8 218.1h0M488.1 279.5h0M494.4 269.2h0M537.9 250.1h0M507.4 269.7h0M507.9 268.7h0M503.8 272.8h0M534.3 254.1h0M547 242.9h0M503.5 262h0M497.7 270h0M494.6 274.9h0M517 257.6h0M498.7 273.9h0M472.9 277.1h0M671.3 123.4h0M515 253.4h0M501.7 269.4h0M575.8 215.8h0M515.9 265.2h0M510.6 261.7h0M524.9 258h0M517 258.6h0"/>
<path d="M561.6 235.9h0M549.4 238.3h0M559.3 255h0M492.6 270.6h0M539.9 239.9h0M500.4 261.8h0M544.4 222.5h0M484.1 277.9h0M597.2 191h0M565.6 225h0M598.2 184.8h0M497.6 269.4h0M579.6 218.4h0M513.9 266.8h0M520 246.6h0M602.2 190.7h0M480 277.6h0M548 237.3h0M489.5 275.4h0M479.4 278.4h0M525.7 249.1h0M475.3 277.9h0M580.6 213.5h0M556.5 240.9h0M484.4 274.3h0M559.3 239.8h0M498.7 265.3h0M487.3 278h0M561.6 226.3h0M559.6 212.1h0M483.4 277.1h0M481.4 277.7h0M571.5 195.9h0M554.5 238.1h0M557.5 209.6h0M496.6 272.9h0M555.5 211.2h0M537.9 256.4h0M522 257.2h0M560.2 215.3h0M513.6 252.5h0M578.6 216.7h0M491.3 276.6h0M493.3 270.6h0M494.7 276.2h0M508.8 271h0M568.5 226.1h0M552.5 237.7h0M662.1 143.2h0M573.8 200.9h0M489.5 275.1h0M479.4 275.1h0M478.4 278.3h0M481.4 277.7h0M483.4 277.8h0M520 263.7h0M524 256.1h0M664.2 143.8h0M471.9 276.9h0M519 253.7h0M647.9 120.3h0M499.5 264.6h0M470.3 276.4h0M498.7 271.5h0M479.4 275.6h0M486.5 272.8h0M513.6 254.4h0M487.1 278.9h0M557.6 243h0M494.4 268.4h0M556.5 218.9h0M513.8 258.8h0M538.9 251.3h0M538.3 231.2h0M538.9 244.9h0M477 276.9h0M508.8 263.8h0M468.2 277.7h0M582.7 195.6h0M525 259.9h0M565.6 232.3h0M559.2 241.2h0M525 257h0M505.4 272.5h0M482.4 275.5h0M549 215.7h0M494.6 275.1h0M635.5 108.8h0M558.6 205.2h0M546.4 233.2h0M476.4 279h0M645.5 171.5h0M498.4 262.6h0M526 244.4h0M568.7 215.9h0M571.5 201.7h0M486.1 275.2h0M535.8 233.4h0M489.3 275.3h0M566.7 187.4h0M646.1 114.2h0M646.1 117.6h0M523.9 252h0M550.5 226.6h0M579.6 188.9h0M608.3 169.8h0M489.5 276.9h0M649.6 109h0M515 272.4h0M549.4 231.9h0M560.6 199.2h0M487.5 277h0M487.5 277.8h0M511.9 271.1h0M555.4 230h0M554.5 234.7h0M587.7 180.8h0M556.6 220.4h0M548.4 220h0M506.8 272.3h0M517 259.3h0M608.3 185h0M487.3 271.5h0M551.5 226.3h0M637.3 177.4h0M549.2 230.6h0M566.7 216.6h0M554.5 217.5h0M506.7 260.5h0M559.6 245.5h0M620.2 175.2h0M491.5 277.3h0M478 277.5h0M545.3 231.2h0M648.9 158h0M556.5 214.6h0M490.3 276.4h0M567.7 229.2h0M495.6 275.7h0M556.6 234.1h0M561.6 228.8h0M547.4 242.8h0M498.6 278.9h0M505.4 267.2h0M486.5 271.4h0M558.6 225.4h0M549.4 241.9h0M494.6 275.8h0M550.5 224.8h0M540.4 238.1h0M570.8 184.2h0M600.2 223.6h0M503.8 272.8h0M521 253h0M582.7 164.4h0M564.6 212.3h0M545.3 237.9h0M589.6 184.2h0M556.1 234h0M465.8 278.5h0M557.1 215h0M597.8 176.8h0M535.1 257.7h0M506.8 270.9h0M493.7 269.9h0M492.5 272.3h0M558.3 212.4h0M525 250h0M550.5 233.5h0M554.5 213.8h0M539.3 238.4h0M521 262.2h0M484.4 273.2h0M657.8 121h0M501.7 275.9h0M572.8 216.4h0M570.5 207.2h0M531.1 254.8h0M552.5 221.2h0M513.8 256.8h0M493.5 275.5h0M540.3 238.1h0M494.5 271.3h0M567.4 234.4h0M532.9 238.9h0M563.6 215h0"/>
<path d="M481.4 277h0M488.5 275.2h0M579.6 199h0M599.2 159.7h0M486.4 278.6h0M560.6 227.9h0M537.3 242.3h0M518 259.4h0M556.1 217.4h0M539.9 250.6h0M486.5 275.9h0M578.6 212.1h0M463.8 277.2h0M514 265.2h0M549.2 236.7h0M492.6 268.7h0M488.5 272h0M504.7 259.8h0M673.3 131.1h0M557.5 215.5h0M582.7 201.5h0M538.2 241.8h0M488.3 273.7h0M477.4 280.1h0M477.4 278.3h0M493.6 276.6h0M554.5 222h0M548.4 246.5h0M483.4 275.8h0M537.9 246.2h0M660.8 148.5h0M504.7 270.2h0M497.6 268.1h0M556.1 215.7h0M649.9 163.5h0M541.9 236.5h0M519 259.8h0M604.3 165.1h0M520.8 264.6h0M501.7 270.9h0M545 232h0M485.5 275.2h0M652.2 115h0M526 256.5h0M487.5 271.8h0M464.8 279h0M581.9 215h0M548 239.3h0M499.6 273.4h0M547.4 245.7h0M539.2 242.5h0M495.7 273.3h0M547.4 226.9h0M599.2 218.3h0M549.4 237.3h0M549.4 226.2h0M478.4 278.7h0M556.5 225.2h0M486.5 274.8h0M611.1 211.6h0M548.4 226.1h0M509.4 257.3h0M500.5 268.3h0M560.2 241h0M558.2 216.3h0M641.4 129.3h0M500.4 264.9h0M471.3 277.1h0M491.3 272.7h0M464.3 279.8h0M584.9 214.5h0M568.7 236.2h0M519 261.8h0M479.4 277.4h0M581.7 218.8h0M600.2 166.6h0M544.3 221.2h0M611.1 145.3h0M566.7 225.6h0M503.7 275.2h0M518 258.2h0M559.2 235.1h0M491.3 274.2h0M547.4 244.8h0M477.4 276.6h0M528.9 261h0M558.2 237.1h0M505.7 261.3h0M501.7 265.4h0M524 258.9h0M500.7 270h0M546.4 236.1h0M487.1 277.1h0M621.2 156.9h0M475.3 278.7h0M508.6 263.8h0M556.5 241.6h0M493.6 270.1h0M482.4 277.8h0M557.6 211.3h0M495.4 276.1h0M600.2 212.3h0M541.1 232h0M538.2 249.8h0M526.7 260.7h0M548.2 243.4h0M484.4 277.7h0M548.4 238.4h0M563.4 225.4h0M608.3 175.5h0M638.4 183.5h0M555.6 228.8h0M502.8 271.6h0M607.9 189.6h0M663.9 136.8h0M616.4 171.3h0M502.8 264.6h0M602.2 138.1h0M514.7 259.7h0M606.3 209.3h0M550.5 228.8h0M545.3 240.7h0M477.4 278.6h0M554.5 237.3h0M559.6 231.7h0M505.4 264.2h0M499.5 266.8h0M515.9 269.1h0M556.6 240.6h0M508.8 263.3h0M524 254h0M486.5 271.8h0M484.1 277.1h0M502.7 273.3h0M545.3 221.6h0M520 251.5h0M477.4 276.1h0M637.3 162.6h0M556.6 234.3h0M468.8 278.1h0M505.4 275.7h0M515.9 273h0M490.6 271.5h0M576.9 223.8h0M541.9 232h0M505.6 275.2h0M547.4 234.6h0M564.4 231.2h0M608.9 173.2h0M556.5 206.9h0M500.6 272.4h0M487.5 275h0M550.5 245.4h0M515.9 261.9h0M545.2 230.1h0M560.6 205.6h0M505.4 268.7h0M599.2 171h0M496.6 269.8h0M484.4 274.1h0M514.7 256.8h0M535.8 251.4h0M535.8 256.8h0M472.3 275.4h0M487.3 273.3h0M547.4 240.5h0M566.7 222.9h0M658 154.5h0M506.9 264.7h0M497.4 271.1h0M554.5 218.9h0M551.2 223.5h0M587.6 223.2h0M549.4 228.4h0M548.4 232.3h0M537.2 240.1h0M508.6 260.3h0M463.8 278.3h0M500.7 267.8h0M468.2 278h0M537.3 244.5h0M504.7 263.6h0M591.1 194h0M621.5 145.5h0M526.7 249.3h0M575.8 203.1h0M541.9 237.6h0M610.9 205.5h0M508.8 273.8h0M488.5 273.3h0M517 263.2h0M643.4 154.8h0M563.4 203h0M521 263.6h0M566.7 234.3h0M490.6 273.9h0M526.7 258.1h0"/>
<path d="M485.4 275.7h0M509.4 271.9h0M463.7 278.1h0M576.8 206.1h0M490.5 273.4h0M553.2 245.2h0M490.3 274h0M533.9 247.2h0M530.2 254.6h0M520.8 248.8h0M554.5 224.4h0M528.1 256.3h0M663.9 136.4h0M558.6 214.5h0M525.7 262.2h0M581.9 203.4h0M549.4 237.6h0M576.9 197.4h0M598.2 164.4h0M573.8 238.9h0M497.7 273.8h0M480.4 276.6h0M555.5 237.3h0M558.2 220.1h0M560.6 198.4h0M501.7 270.2h0M542.1 246.2h0M497.7 275.3h0M650.5 115.2h0M489.3 274.2h0M576.8 198.7h0M558.5 210.6h0M499.6 278.3h0M556.1 236.3h0M520.9 258.8h0M537.3 243.8h0M506.8 257.3h0M524 245.7h0M503.7 270.8h0M505.9 262.7h0M562.4 214h0M488.6 271.2h0M501.3 268.3h0M574.8 208.3h0M623.5 146.5h0M598.2 191.5h0M555.5 219.1h0M502.8 259.8h0M527.9 252.6h0M505.7 264.8h0M469.8 278.2h0M504.7 261.3h0M661.1 150.7h0M544.3 242.5h0M556.6 231h0M574.7 215h0M535 254.3h0M492.7 272.9h0M599.2 195.7h0M490.2 276.7h0M539.9 255.1h0M501.5 267.5h0M520.8 264h0M550.5 241.5h0M609.3 147.8h0M551.5 206.2h0M544.3 232h0M532.9 259h0M577.8 212.8h0M520 259.8h0M478.4 275.7h0M546 236.2h0M570.8 226.4h0M549.4 219.7h0M572.8 219.3h0M490.5 274.9h0M467.8 278.8h0M498.5 269.3h0M558.5 221.6h0M495.6 274.4h0M562.2 221.8h0M500.7 271.9h0M548.4 219.3h0M581.7 173.4h0M492.6 274.4h0M463.8 278.2h0M502.7 268.3h0M526 247.6h0M660.8 159.6h0M470.9 276h0M507.4 257.3h0M556.6 220.4h0M539.2 246.9h0M489.5 273.4h0M506.4 271.1h0M505.7 274.1h0M483.4 276.7h0M563.6 206.2h0M565.6 166.6h0M548.4 238.3h0M618.5 151.7h0M523.1 264.7h0M531.9 260.3h0M477.4 278h0M530.2 258.5h0M504.8 265.3h0M497.6 274.8h0M557.5 220.9h0M487.5 278.7h0M577.8 188.5h0M648.9 154.8h0M528.1 249.1h0M489.5 275.3h0M541.1 230.6h0M572.8 196.3h0M587.7 212.9h0M534.8 254.8h0M567.7 226.1h0M542.4 245.9h0M494.7 278h0M609.3 191.6h0M480.4 278.3h0M658 143h0M610.1 153.8h0M483.2 275.2h0M513.8 263.6h0M550.5 220h0M649.9 156.5h0M500.8 270.6h0M511.5 253h0M575.8 227.6h0M654 106.1h0M568.7 231.7h0M518 264.3h0M503.7 271.5h0M464.8 279.2h0M504.7 267.1h0M592.7 182h0M508.6 269.5h0M506.9 271.8h0M549.4 239.6h0M503.8 272h0M494.4 271.4h0M559.6 235.8h0M558.3 228.7h0M547.4 234.6h0M494.4 275.7h0M509.8 265.2h0M605.1 129.9h0M602.2 188.5h0M479.4 277.6h0M599.2 177.5h0M480.4 275.8h0M600.2 178h0M478.4 278.4h0M652 136.7h0M559.6 196h0M586.6 215.9h0M485.5 273.7h0M466.8 277.2h0M505.4 262.2h0M560.6 205.7h0M483.4 277.2h0M554.2 224.6h0M615.2 141h0M568.7 209.9h0M571.8 225.9h0M531.1 246.7h0M473.9 278.7h0M535.1 248.9h0M483.5 275.8h0M702.2 130.2h0M519 261.4h0M530.1 246.9h0M536.2 249.8h0M473.9 279.9h0M601.2 163.2h0M568.7 221.3h0M533.9 243.9h0M649.9 168.4h0M537.9 251.2h0M545.3 241.1h0M535.2 249.8h0M558.6 203.9h0M569.7 216.9h0M528.1 252.8h0"/>
<path d="M524.1 252.2h0M492.5 273.8h0M518 248.5h0M611.1 190.1h0M610.1 181.4h0M486.6 277.3h0M539.2 253.8h0M534.8 245.4h0M528.7 244.7h0M518 261.8h0M490.3 273h0M545 225.7h0M547 248.1h0M518.9 259.2h0M574.8 221.9h0M660.1 120.7h0M555.5 214.3h0M559.6 238.9h0M500.8 270.7h0M587.7 183.4h0M546.4 247.3h0M507.8 263.8h0M523.1 259.5h0M563.6 217.8h0M534.1 236.2h0M505.6 262.5h0M537.2 250.4h0M630.4 180.7h0M511.6 266.7h0M539.3 247.1h0M569.7 218.8h0M539.9 249.5h0M492.3 270.5h0M505.8 272.8h0M525 248.1h0M498.4 266.7h0M637.3 143.9h0M492.5 266.4h0M569.7 207.4h0M558.6 214.5h0M547.4 246.5h0M553.5 225.7h0M489.3 276.9h0M541.9 242.2h0M598.8 181.4h0M542.1 236.7h0M496.7 271.2h0M548.4 238.5h0M465.8 278.5h0M492.3 276.9h0M486.6 276h0M550.5 210h0M509.4 266.4h0M545.3 251.4h0M565.4 237.7h0M599.2 170.5h0M490.6 271h0M563.7 202.4h0M567.7 198.8h0M525.1 250.4h0M601.2 156.4h0M485.4 274.7h0M661.1 147h0M565.6 233.2h0M563.6 232.5h0M546.4 235.5h0M500.4 278.4h0M656.6 149h0M619.5 143.4h0M488.3 270.5h0M492.3 268.1h0M518.7 263h0M535 256.1h0M660.1 153.2h0M497.7 277.1h0M571.6 225.4h0M503.8 259.8h0M609.3 209.7h0M496.7 271.3h0M614.1 206.3h0M510.7 258.8h0M557.6 226.5h0M495.6 264.5h0M481.4 278.2h0M490.3 274.4h0M529.9 249.2h0M662.1 137.5h0M506.4 268.7h0M485.4 275.2h0M490.3 274.4h0M476.4 277.6h0M558.6 210h0M516.9 264.8h0M508.6 268.5h0M484.1 275.5h0M470.3 278.8h0M577.8 187h0M541.2 253.4h0M540.9 233h0M463.8 279.1h0M547 249.9h0M547 239.2h0M538.2 242h0M559.5 215.7h0M574.8 214.3h0M469.8 278.3h0M536.3 255h0M497.4 276.1h0M506.9 267.1h0M462.2 279h0M618.5 166.7h0M548.4 227.2h0M497.7 272.4h0M497.6 268.5h0M555.5 239.9h0M577.8 209.3h0M521 252.4h0M600.2 191.2h0M623.5 182h0M505.7 261.6h0M598.2 172.2h0M518 249.6h0M595.7 208.3h0M490.5 274.7h0M490.5 273.8h0M536.8 239.1h0M569.7 200.7h0M546.4 239.2h0M536.8 251.2h0M563.2 232.7h0M495.7 264.9h0M483.2 273.9h0M578.6 221h0M559.5 203.2h0M504.7 263.8h0M542.9 253h0M570.8 232.7h0M586 168.4h0M499.4 260.2h0M601.2 217.9h0M636.7 138.6h0M511.8 265.9h0M512.7 269h0M478.4 277.5h0M556.5 243.4h0M589.6 176.2h0M545.2 230.4h0M601.2 166.8h0M526 247.3h0M578.6 223.2h0M569.7 221.1h0M482.4 278.5h0M649.9 160.2h0M491.5 277.1h0M564.4 207.2h0M496.7 262.7h0M537.3 240.9h0M493.5 271.7h0M527.7 245h0M528.1 254.6h0M484.4 275.4h0M647.9 120.9h0M488.3 272.5h0M527.1 258.3h0M473.9 278.5h0M547 245.1h0M517.7 265.2h0M481.4 277.2h0M477.4 278.7h0M510.8 252.8h0M476.4 277.1h0M486.5 277h0M549.4 224.6h0M525 258.2h0M511.5 264.9h0M506.7 272.8h0M477.4 277.7h0M535.8 250.8h0M485.5 275.4h0M535.1 242.3h0M534.8 250.1h0M495.7 272h0M489.5 278.5h0M597.2 158.7h0M533.9 246.3h0M546.4 235.2h0M554.5 215.5h0"/>
<path d="M599.2 161.3h0M567.9 169.1h0M531.1 256.6h0M499.4 273.1h0M652.6 155.9h0M517 265.7h0M566.7 235.3h0M507.6 266.1h0M640.4 186.4h0M542.9 224.5h0M644.4 127.5h0M500.4 266h0M515.9 267.1h0M637.3 149.3h0M477.4 278.4h0M567.7 202.1h0M549.4 232.5h0M556.6 205.8h0M607.3 203.9h0M564.4 234.5h0M546.5 215.6h0M598.2 166.6h0M481.4 277.3h0M496.6 267.2h0M561.7 209.9h0M558.5 215.1h0M542.3 243.2h0M519 257h0M692.5 146.2h0M534.3 253.4h0M667.9 111.3h0M505.4 274.7h0M504.4 269.4h0M606.2 160.3h0M597.2 161.2h0M508.8 273.6h0M489.5 274.1h0M517 258.3h0M504.8 261.8h0M560.6 235.5h0M504.4 270.5h0M531.9 258.2h0M539.3 235.7h0M542.1 243.7h0M600.2 203.6h0M517 254.4h0M555.5 242.8h0M596.7 160.6h0M504.4 264.4h0M543.4 228.5h0M536.8 250.4h0M485.4 275.1h0M477.4 277.5h0M649.9 146.9h0M485.1 276.8h0M484.4 277.3h0M546.4 232.6h0M489.5 272.2h0M586.6 214.7h0M522.1 260.9h0M557.5 223.6h0M541.9 233.7h0M494.7 273.7h0M492.7 274.1h0M550.5 243.7h0M558.2 208.3h0M498.4 275.4h0M503.7 276.1h0M609.3 158.8h0M555.5 240.6h0M527.7 250.8h0M572.8 197.3h0M474.9 277.4h0M540.9 239.5h0M528.9 243.4h0M560.2 212.2h0M559.3 237.3h0M508.8 265.6h0M585.6 206.6h0M651 133.7h0M493.3 271.8h0M478.4 276.6h0M508.6 262.7h0M598.2 220.1h0M479.4 275.6h0M547.4 228.1h0M515.9 255.9h0M493.3 272.6h0M557.5 209.8h0M555.5 232h0M518.8 261.7h0M557.1 217.5h0M558.5 237.3h0M485.1 271.9h0M568.7 207.5h0M511.8 263.1h0M483.5 278h0M568.8 191.5h0M555.5 241.5h0M571.5 196.1h0M507.4 268.4h0M469.8 278.4h0M477.3 275.1h0M490.6 274h0M677.3 154.3h0M577.9 211.3h0M576.8 224.5h0M571.5 208.4h0M525.1 254h0M534.3 247.9h0M464.8 278.9h0M486.1 275h0M546.4 244.9h0M549.2 234.6h0M560.6 207.8h0M562.6 196h0M547.5 244.6h0M476.4 278.4h0M556.1 227.3h0M557.6 226.5h0M636.3 111.4h0M608.3 185.4h0M618.5 181.3h0M504.7 269.9h0M600.2 188.2h0M476.4 278.1h0M515.9 260.1h0M541.9 241.1h0M578.8 198.5h0M556.5 237.6h0M548.2 258.1h0M571.6 216.4h0M647.3 108.4h0M563.6 227.7h0M505.8 271h0M655.6 163.3h0M508.8 262.8h0M535.8 255.9h0M548 223.5h0M488.5 274.5h0M574.8 204h0M468.2 277.9h0M599.8 156.4h0M608.3 191.2h0M535.8 239.7h0M473.9 278.7h0M490.6 274.1h0M486.1 279.1h0M518 264.8h0M487.5 276.8h0M474.9 278.7h0M493.6 267.7h0M511.5 269.2h0M564.4 247.7h0M524 256.6h0M497.6 267.7h0M497.7 270.4h0M566.8 212.2h0M627.6 168.9h0M488.5 276.4h0M558.6 219.8h0M481.4 279.3h0M500.7 276.6h0M556.1 225.9h0M514.5 270.8h0M496.7 266.9h0M638.4 123.7h0M533.1 251.2h0M486.4 272.4h0M611.3 158.3h0M498.6 264.9h0M505.7 260.8h0M656 155.4h0M484.4 277.8h0M556.1 235h0M603.2 150.2h0M464.8 277.9h0M526.7 262h0M461.2 277.8h0"/>
<path d="M498.7 269.9h0M489.6 277.4h0M475.3 278.8h0M529.7 258.3h0M570.7 221.1h0M566.7 213.7h0M557.5 222.1h0M622.5 157.1h0M530.9 255.5h0M599.2 211.8h0M486.5 275.2h0M597.1 199.3h0M470.3 278.1h0M481.4 278h0M558.2 233.6h0M575.9 224.7h0M540.3 242h0M489.3 270.6h0M559.5 237h0M539.9 239.2h0M514.8 261.7h0M488.5 275h0M490.2 276.8h0M598.2 173.1h0M488.5 274.1h0M476.4 277.6h0M538.3 242.3h0M556.6 228.6h0M528.1 257.2h0M539.3 239.3h0M609.3 201h0M615.5 157.3h0M475.3 276h0M512.5 271.7h0M466.8 277.8h0M569.7 233.1h0M567.7 197.5h0M549.4 236.5h0M574.7 223.7h0M547.4 237.7h0M494.4 278.8h0M507.7 264.7h0M638.4 134.8h0M567.6 187.7h0M602.2 190.8h0M651 165.9h0M547.4 230.2h0M574.8 218.7h0M511.6 263.4h0M487.1 271.2h0M496.7 275.9h0M503.6 265.1h0M491.3 272h0M497.3 274.1h0M537.3 234.3h0M487.5 277.2h0M513.5 265.6h0M475.3 278.8h0M526 260.3h0M474.9 278.9h0M557.5 208.8h0M569.7 239.8h0M566.7 221.3h0M599.8 165.1h0M528.9 250.4h0M621.5 152.5h0M514.8 268h0M554.5 213.7h0M535.8 249h0M585.6 170.7h0M508.8 270.4h0M558.2 231.2h0M541.9 247.8h0M566.6 217.6h0M544.3 234.7h0M476.4 278.6h0M500.7 269.1h0M484.4 276.9h0M523.1 253.5h0M612.3 201.2h0M515.7 256.3h0M538.3 237h0M463.8 278.2h0M508.8 263.9h0M548.4 230.5h0M496.6 271.6h0M539.9 241.8h0M597.2 192.3h0M548.4 241h0M494.7 269.4h0M494.6 271.7h0M518.9 258h0M483.4 278.1h0M561.6 240.1h0M534.8 247h0M680.4 113.2h0M554.5 211h0M509.8 268.4h0M548.4 232.6h0M556.5 236.3h0M500.7 259.9h0M508.8 268.5h0M515.5 262.5h0M562.2 236.5h0M507.6 269h0M576.8 207h0M474.9 278.9h0M551.5 237.7h0M493.3 269.5h0M485.1 274.3h0M497.4 272.7h0M494.7 274.5h0M506.9 262.3h0M495.6 271.5h0M485.5 280.1h0M548.4 236h0M489.5 273.1h0M591.7 196.9h0M486.5 279.3h0M606.2 189.6h0M565.6 215.1h0M507.8 265.3h0M539.3 243.9h0M547.4 241.2h0M558.6 226.6h0M483.4 279h0M476.4 276.2h0M622.5 191.7h0M494.4 273.6h0M553.5 212.7h0M555.5 215.5h0M492.5 272.7h0M579.8 228.7h0M537.9 248.4h0M534.3 241.7h0M527.1 245.1h0M501.5 273.7h0M485.1 277.5h0M499.6 271.7h0M509.4 260.1h0M504.6 259.9h0M550.5 228.1h0M672.1 155.2h0M555.5 224.7h0M495.2 277.5h0M490.5 272.3h0M470.9 278.8h0M544.3 241.7h0M546.4 247.4h0M495.2 270.8h0M567.7 234.5h0M476.4 278h0M548.4 229.5h0M508.6 248.8h0M662.9 157.3h0M577.8 191.6h0M590.6 218.3h0M469.8 277.4h0M515.5 263.3h0M493.7 270.1h0M490.6 269.6h0M566.8 220.3h0M635.5 202.3h0M535.1 234.6h0M534.8 251.2h0M467.2 277.9h0M471.9 277.6h0M505.7 268.4h0M591.7 199.5h0M486.5 275.1h0M518 262.4h0M536 246.9h0M509.4 273.4h0M586.6 219h0M649 120.5h0M462.6 278.3h0M500.6 259.3h0M557.1 221.4h0M586 179.2h0M547.4 229.1h0M548.4 217.6h0M575.8 228.8h0M651 131h0M504.8 267.3h0M554.5 225.6h0M493.6 275.2h0M558.3 243.1h0M495.7 270h0M485.4 276.7h0M538.2 253.8h0M540.9 243.5h0"/>
</g>
<path clip-path="url(#cp1)" d="M444.7 311.5L745.5 75.4" stroke="#000" stroke-width="1.6" stroke-dasharray="1.6 4.8 6.4 4.8" fill="none"/>
<g clip-path="url(#cp1)">
<path d="M458.5 278.1L461.2 277.7L463.9 277.6L466.6 277.5L469.3 277.4L472 277.3L474.7 277.1L477.4 276.8L480.1 276.3L482.9 275.6L485.6 274.8L488.3 273.9L491 272.9L493.7 271.8L496.4 270.7L499.1 269.5L501.8 268.1L504.5 266.6L507.3 265L510 263.4L512.7 261.7L515.4 259.9L518.1 258.2L520.8 256.5L523.5 254.6L526.2 252.6L528.9 250.6L531.7 248.5L534.4 246.3L537.1 243.9L539.8 241.4L542.5 238.9L545.2 236.4L547.9 233.7L550.6 230.8L553.3 228.2L556.1 225.5L558.8 222.9L561.5 220.2L564.2 217.5L566.9 214.9L569.6 212.3L572.3 209.7L575 207.1L577.7 204.6L580.5 202L583.2 199.5L585.9 197L588.6 194.5L591.3 191.9L594 189.4L596.7 186.9L599.4 184.4L602.1 182L604.9 179.6L607.6 177.3L610.3 175L613 172.7L615.7 170.4L618.4 168.2L621.1 165.9L623.8 163.7L626.5 161.6L629.3 159.4L632 157.3L634.7 155.2L637.4 153.1L640.1 151L642.8 149L645.5 147.1L648.2 145.2L650.9 143.3L653.7 141.4L656.4 139.6L659.1 137.7L661.8 135.9L664.5 134.1L667.2 132.4L669.9 130.7L672.6 129L675.3 127.2L678.1 125.4L680.8 123.7L683.5 121.9L686.2 120.2L688.9 118.5L691.6 116.8L694.3 115L697 113.2L699.7 111.4L699.7 122.4L697 123.6L694.3 124.8L691.6 126.1L688.9 127.2L686.2 128.2L683.5 129.4L680.8 130.5L678.1 131.6L675.3 132.8L672.6 134.1L669.9 135.7L667.2 137.3L664.5 138.9L661.8 140.5L659.1 142.2L656.4 143.8L653.7 145.5L650.9 147.3L648.2 149L645.5 150.7L642.8 152.5L640.1 154.4L637.4 156.3L634.7 158.4L632 160.4L629.3 162.4L626.5 164.5L623.8 166.6L621.1 168.7L618.4 170.9L615.7 173.1L613 175.3L610.3 177.5L607.6 179.8L604.9 182L602.1 184.4L599.4 186.8L596.7 189.2L594 191.6L591.3 194.1L588.6 196.5L585.9 199L583.2 201.4L580.5 203.9L577.7 206.4L575 208.9L572.3 211.5L569.6 214.1L566.9 216.7L564.2 219.3L561.5 222L558.8 224.7L556.1 227.4L553.3 230L550.6 232.7L547.9 235.5L545.2 238.2L542.5 240.8L539.8 243.3L537.1 245.7L534.4 248.2L531.7 250.4L528.9 252.5L526.2 254.5L523.5 256.5L520.8 258.4L518.1 260.1L515.4 261.8L512.7 263.6L510 265.3L507.3 266.9L504.5 268.5L501.8 270L499.1 271.4L496.4 272.7L493.7 273.8L491 274.8L488.3 275.8L485.6 276.7L482.9 277.6L480.1 278.3L477.4 278.8L474.7 279.1L472 279.2L469.3 279.4L466.6 279.5L463.9 279.6L461.2 279.7L458.5 280.1Z" fill="#999" fill-opacity="0.4" stroke="none"/>
<path d="M458.5 279.1L461.2 278.7L463.9 278.6L466.6 278.5L469.3 278.4L472 278.2L474.7 278.1L477.4 277.8L480.1 277.3L482.9 276.6L485.6 275.8L488.3 274.8L491 273.8L493.7 272.8L496.4 271.7L499.1 270.5L501.8 269.1L504.5 267.5L507.3 266L510 264.3L512.7 262.6L515.4 260.9L518.1 259.2L520.8 257.4L523.5 255.6L526.2 253.6L528.9 251.5L531.7 249.4L534.4 247.3L537.1 244.8L539.8 242.3L542.5 239.8L545.2 237.3L547.9 234.6L550.6 231.8L553.3 229.1L556.1 226.4L558.8 223.8L561.5 221.1L564.2 218.4L566.9 215.8L569.6 213.2L572.3 210.6L575 208L577.7 205.5L580.5 203L583.2 200.5L585.9 198L588.6 195.5L591.3 193L594 190.5L596.7 188L599.4 185.6L602.1 183.2L604.9 180.8L607.6 178.5L610.3 176.3L613 174L615.7 171.8L618.4 169.5L621.1 167.3L623.8 165.2L626.5 163L629.3 160.9L632 158.9L634.7 156.8L637.4 154.7L640.1 152.7L642.8 150.8L645.5 148.9L648.2 147.1L650.9 145.3L653.7 143.5L656.4 141.7L659.1 139.9L661.8 138.2L664.5 136.5L667.2 134.8L669.9 133.2L672.6 131.6L675.3 130L678.1 128.5L680.8 127.1L683.5 125.6L686.2 124.2L688.9 122.9L691.6 121.5L694.3 119.9L697 118.4L699.7 116.9" fill="none" stroke="#3366ff" stroke-width="2.3" stroke-dasharray="2.3 6.9 9.2 6.9"/>
</g>
<text x="447.1" y="88.2" font-size="18.7" fill="#000">Actual vs Fitted values</text>
<path d="M480.8 290.3v3.4M541 290.3v3.4M601.1 290.3v3.4M661.2 290.3v3.4M447.1 283.2h-3.6M447.1 236h-3.6M447.1 188.7h-3.6M447.1 141.5h-3.6" stroke="#333" stroke-width="1.3" fill="none"/>
<g font-size="12" fill="#4d4d4d"><text x="480.8" y="306.8" text-anchor="middle">0</text><text x="541" y="306.8" text-anchor="middle">5000</text><text x="601.1" y="306.8" text-anchor="middle">10000</text><text x="661.2" y="306.8" text-anchor="middle">15000</text><text x="439.1" y="288.2" text-anchor="end">0</text><text x="439.1" y="241" text-anchor="end">5000</text><text x="439.1" y="193.7" text-anchor="end">10000</text><text x="439.1" y="146.5" text-anchor="end">15000</text></g>
<text x="582" y="325.5" font-size="15.5" fill="#000" text-anchor="middle">Fitted</text>
<text transform="translate(396.9 193.9) rotate(-90)" font-size="15.5" fill="#000" text-anchor="middle">Actual</text>
<clipPath id="cp2"><rect x="794.1" y="97.4" width="269.1" height="192.9"/></clipPath>
<rect x="794.1" y="97.4" width="269.1" height="192.9" fill="#ebebeb"/>
<path d="M797.4 97.4V290.3M857.8 97.4V290.3M918.1 97.4V290.3M978.5 97.4V290.3M1038.8 97.4V290.3M794.1 250.5H1063.2M794.1 195.3H1063.2M794.1 140H1063.2" stroke="#fff" stroke-width="0.7" fill="none" opacity="0.85"/>
<path d="M827.6 97.4V290.3M888 97.4V290.3M948.3 97.4V290.3M1008.7 97.4V290.3M794.1 278.2H1063.2M794.1 222.9H1063.2M794.1 167.6H1063.2M794.1 112.4H1063.2" stroke="#fff" stroke-width="1.4" fill="none"/>
<g clip-path="url(#cp2)" stroke="#000" stroke-opacity="0.5" stroke-width="6.2" stroke-linecap="round" fill="none">
<path d="M816 205h0M817 208h0M881.1 232.4h0M838 222.7h0M949.4 243.2h0M832.3 218h0M824.2 213.4h0M995.3 202.7h0M872 242.3h0M905.6 196.7h0M844.4 230.4h0M895 230.5h0M904.6 231h0M886.9 225.7h0M850.6 225.9h0M907.7 197h0M848.6 226.9h0M839.5 224.3h0M835.3 223.4h0M871 235.6h0M880.2 235.6h0M902.6 239.3h0M873 224.3h0M880.9 230.7h0M893.4 241.1h0M854.7 225h0M870 234h0M903.6 243h0M851.6 229.7h0M852.3 238h0M902.3 227.8h0M934.8 197.7h0M815.6 206.9h0M851.2 228.4h0M842.4 224.6h0M945.4 190.8h0M983.6 219.2h0M849.7 215.8h0M949.4 226.3h0M944.3 180.6h0M842.4 225.6h0M860.6 217.1h0M884 224.6h0M854.4 233.7h0M842.4 221.9h0M885.2 236.7h0M844.1 227.4h0M873.9 242.1h0M856.5 223.3h0M829.3 217.8h0M879.9 242.4h0M854.3 218.4h0M1007.5 228.8h0M826.2 214.8h0M902.5 234.5h0M953.5 239.4h0M845.3 222.9h0M953.1 220.8h0M872.6 241.3h0M888.9 237.6h0M845.5 225.6h0M891.2 217.5h0M911.8 235.9h0M847.6 224h0M958.6 175.6h0M947.4 196.1h0M835.1 221.2h0M966.7 186.7h0M959.6 247.8h0M844.6 226.7h0M913.5 230.9h0M839 225.2h0M906.6 242.8h0M873 222.8h0M826.2 212.8h0M918.7 238.7h0M843.5 217.8h0M902.5 231.6h0M847.6 225.8h0M914.7 248.3h0M911.7 238h0M822.1 212.7h0M867 225.1h0M851.7 224.1h0M905.6 208.7h0M841.2 225.7h0M885.2 235.1h0M888.1 218.4h0M849.5 222.4h0M874.1 224.3h0M881.1 222.5h0M843.5 220.3h0M904.6 236.1h0M859.8 223.5h0M923.9 242.5h0M844.3 229.8h0M965.7 238.7h0M934.1 201.5h0M838.4 223.4h0M945.4 232.7h0M896.2 228.9h0M893 213.9h0M886.3 230.7h0M905.6 228.2h0M915.9 241h0M864.9 217.7h0M876.1 218h0M845.3 227.8h0M850.6 230.9h0M908.4 227.5h0M905.4 230.3h0M913.7 219.2h0M900.5 207.3h0M894.4 239h0M855.3 229.6h0M880.1 226h0M846.6 220.8h0M859.5 230.5h0M892.2 232.9h0M853.6 220.2h0M844.3 220.7h0M876.1 232.8h0M917.6 233.6h0M835.3 219.8h0M858.7 231.2h0M924 241.7h0M896.5 233.7h0M893.4 217.1h0M947.4 209.5h0M891.4 220.1h0M910.5 242.8h0M922 212.6h0M815 205.2h0M894.4 227.2h0M996.3 198.3h0M858.6 238.9h0M902.5 228.5h0M957.6 243.7h0M882.8 236.2h0M895.5 234.4h0M918.9 239.4h0M823.1 213.5h0M864.6 229h0M886.3 240.8h0M883.2 234.8h0M843.5 218.4h0M882.8 222.2h0M820.7 212.7h0M820.7 211h0M894.4 220.8h0M942.9 203.5h0M871.1 235.1h0M894.4 234h0M872 234.3h0M897.5 221.1h0M813.6 202.8h0M866 237.5h0M916.6 233.4h0M842.5 221.2h0M841.4 221.6h0M914.5 245.4h0M879.9 218.9h0M855.3 235.2h0M882.1 221.1h0M807.9 198.6h0"/>
<path d="M822.1 211.7h0M839.3 222.6h0M898.5 243.5h0M847.3 215.9h0M893.4 230.5h0M831.3 218.6h0M859.8 225.2h0M854.4 227.5h0M911.5 220.5h0M883 237.4h0M987.7 256.2h0M939.3 208.3h0M923 228h0M886.9 226.7h0M817 207.1h0M896.5 230.2h0M904.6 222.5h0M914.8 207.8h0M926.8 226.4h0M920.9 256.6h0M833.9 214.1h0M1005.9 202.7h0M888.9 221.5h0M945.4 201.9h0M1007.1 197.1h0M949.4 226.3h0M846.3 234.1h0M926 219.5h0M870 225.5h0M839.5 217h0M997.3 240.4h0M822.1 211.7h0M830.9 215.9h0M997.3 238.2h0M854.6 226h0M846.5 230.4h0M908.7 230.6h0M828.2 217h0M835.4 216h0M902.5 216.5h0M892 222h0M843.5 225.3h0M834.3 215.7h0M835.3 220.1h0M875 231.1h0M846.5 228.7h0M840.5 219.9h0M854.8 231.5h0M839.5 221.7h0M886.9 244.3h0M831.9 219.3h0M839.2 226.1h0M956.5 182.6h0M845.5 220h0M965.7 224.2h0M847.4 223.6h0M824.1 211.7h0M831.2 215.4h0M893 227.8h0M896.5 211.6h0M916.8 190.2h0M897.2 234.4h0M837.4 222.1h0M897.5 240.7h0M896.5 221.5h0M924.9 206.4h0M890.4 246.6h0M893.4 227.3h0M846.3 231h0M921.9 219.9h0M833.9 223.6h0M933 195.8h0M891.3 208.7h0M826.9 213.9h0M852.7 223.9h0M903.6 217.2h0M811.5 203h0M846.6 233.6h0M850.6 234.5h0M921.9 222.5h0M836.3 220.8h0M903.6 219h0M944.3 223.5h0M956.5 255h0M856.5 219.1h0M984.7 229.9h0M835.4 223.9h0M831.9 213.6h0M828.2 217.6h0M915.8 215.1h0M863.9 230.8h0M832.3 219.4h0M874.8 241.1h0M844.4 228.5h0M850.6 229.5h0M858.8 227.6h0M847.6 230.3h0M903.6 237.6h0M864.9 216.2h0M933.2 205.1h0M923.9 222h0M872 220.7h0M828.2 215.9h0M958.6 137.2h0M856.5 237.5h0M887.9 219.4h0M885.9 217.5h0M882.8 215.1h0M853.8 222.4h0M835.3 222.7h0M834.3 220.1h0M855.3 222.8h0M834.3 219.6h0M872 229.8h0M832.3 216.3h0M825.2 211.9h0M955.5 207.3h0M908.3 227.6h0M902.5 240.9h0M866 230.9h0M897.5 212.9h0M831.9 216h0M868 233.1h0M895 210.3h0M907.6 197.9h0M837.1 223.1h0M970.8 235.6h0M984.3 181.4h0M834.3 222.7h0M894.4 212.2h0M822.1 212.4h0M903.6 219h0M814.6 205.3h0M857.4 229h0M893.4 218h0M908.4 204.2h0M915.7 221.7h0M861.4 217.6h0M868.9 230.4h0M825.1 213h0M881.3 223.5h0M836.3 221.5h0M852.3 236.7h0M837.4 218.2h0M903.6 212.2h0M829 216.9h0M902.5 223.1h0M916.8 207h0M841.5 226.1h0M956.1 212h0M855.5 208.3h0M814.6 205.6h0M898.5 227.9h0M903.6 235h0M865.9 240.6h0M1012.2 236.5h0M904.6 205.7h0M922.9 208.8h0M816.6 205.8h0M911.5 258.2h0M885.2 228h0M1017.4 215.9h0M899.3 222.1h0M903.2 225.1h0M889.1 216.5h0M976.1 161h0M853.8 225.1h0M906.4 240.5h0M835.4 218.4h0M874.8 235.1h0M865.9 232.4h0M853.6 232.4h0M814.6 204.8h0M915.8 207.5h0M809.3 200.5h0M834.3 221.7h0M855.5 221.6h0M958.6 196.7h0M815 205.3h0M838.4 221.9h0M921.9 227.3h0M854.8 230.9h0M833.3 220.9h0M824.2 213.4h0M921.7 213.5h0M885.3 240.6h0M958.2 251.6h0M831.2 220h0M921.1 148.2h0M875.7 223.4h0M841.4 225.9h0M850.7 228.9h0M863.9 226.2h0M870 221.6h0M922.9 231.3h0M888.9 229.8h0M832.3 219.5h0M862.8 234.1h0M894.4 233.5h0M824.2 212.9h0M910.7 219.2h0M842.5 226.2h0"/>
<path d="M904.6 219h0M904.6 230h0M871.6 226.8h0M908.7 241.8h0M985.7 180.4h0M812.5 203.9h0M1012.3 217.3h0M879.8 232.2h0M835.1 220.1h0M921.9 219.3h0M829.3 216.4h0M896.1 221.4h0M847.3 220.8h0M839.2 219.6h0M883.8 221.4h0M882.2 245.1h0M892 214.6h0M1020.7 221.7h0M950.5 204.2h0M948.4 218.9h0M911.8 215h0M895.5 242.1h0M888.3 237.1h0M865.9 227.3h0M886.3 234.4h0M889.1 235.5h0M865.9 230.6h0M883.1 199.1h0M953.5 194.4h0M888.9 240.7h0M947.4 239.5h0M946.4 255.7h0M843.6 229h0M954.5 167.1h0M1021.7 213.4h0M1022.7 237.7h0M811.5 202.2h0M895.4 232.7h0M832.3 216.4h0M898.5 230h0M822.1 212.7h0M852.6 217.2h0M866.9 231.6h0M871 234.5h0M998.3 231.1h0M852.6 226.2h0M825.2 216h0M866.9 236.1h0M904.6 229.6h0M882.3 231.9h0M902.6 233.4h0M1036.4 254.4h0M842.4 226.3h0M840.4 221.1h0M995.3 185.8h0M909.3 225.8h0M847.6 228h0M887.9 227h0M824.2 214.5h0M895.4 210.3h0M1006.4 218.3h0M877.1 233.4h0M999.9 232.6h0M865.8 224.6h0M840.5 223.3h0M839.4 223.5h0M913.7 234.4h0M945.4 256.9h0M906.2 238.7h0M862.9 223.2h0M824.2 212.1h0M993.8 228.6h0M865.9 233.8h0M830.2 219.3h0M863.8 219.2h0M904.6 220.4h0M914.8 202.8h0M825.2 211.8h0M866 238.7h0M835.4 222.6h0M834.3 219.4h0M889.4 235.8h0M857.4 211.9h0M814.6 205.5h0M918.6 218.8h0M860.9 230h0M867 232.7h0M888.1 226.8h0M825.2 215.4h0M903.2 226.7h0M860.4 227h0M865.9 230.6h0M859.5 232.9h0M901.5 233.8h0M934.9 201.3h0M903.6 201.9h0M955.5 225.2h0M877.1 234.6h0M824.1 213h0M871.6 223.5h0M1009.1 197.6h0M832.3 217.1h0M894.4 227.2h0M828.2 215.6h0M856.7 228.5h0M947.4 246.5h0M846.3 213.1h0M926 214.2h0M809.5 201.2h0M888.3 234h0M909.4 222.1h0M999.3 237.6h0M846.6 220.5h0M874.7 233.1h0M857.5 236h0M842.4 227.6h0M866 223.6h0M834.3 219.4h0M832.9 223h0M916.8 263.6h0M840.5 225.3h0M915.8 224.8h0M838.4 222.9h0M932.1 210.3h0M873 226.5h0M929.8 177.5h0M905.6 220.2h0M973.8 247.4h0M844.3 224h0M815 204.7h0M875.1 232.9h0M894.4 233h0M946.4 260.3h0M917.9 256.3h0M922.9 246.6h0M841.2 219h0M837.1 216.2h0M880.9 225.7h0M881.3 238h0M848.6 233.6h0M903.2 235.7h0M924.9 200.2h0M947.4 255.9h0M842.5 214.2h0M861.9 219.4h0M811.5 202.9h0M881.8 233.8h0M860.7 222.4h0M910.5 204.9h0M969.8 212.5h0"/>
<path d="M915 169.4h0M835.3 220.6h0M894.4 237.6h0M900.3 245h0M958.3 233.7h0M836.1 218.6h0M904.6 221.9h0M833.3 219.4h0M889.9 211.2h0M883.8 225.6h0M886.9 239.1h0M811.5 203.6h0M865 232.1h0M896.5 232.6h0M902.5 212.1h0M810.5 202.3h0M912.7 188.9h0M892.2 243.2h0M831.2 218.2h0M893.5 204.2h0M928.8 250.1h0M840.2 227.9h0M867.7 233.2h0M822.1 210.3h0M902.6 234h0M886.9 228.3h0M839.2 224.1h0M893 217.4h0M867.9 231.3h0M842.1 226.3h0M884.2 236.3h0M916.8 229.2h0M881.3 237.2h0M864.9 230.4h0M841.4 229.9h0M921.9 223.5h0M830.2 218.2h0M867.7 237.9h0M839.4 222.5h0M907.6 208.3h0M874.8 230.4h0M851.6 219.3h0M828.2 214.7h0M894.4 241.1h0M903.7 231.4h0M829 214.7h0M835.4 216.1h0M883.2 242.4h0M837.4 220.8h0M972.9 189.9h0M852.7 234.5h0M883.8 236h0M991.4 191.6h0M933.7 187.7h0M904.6 206.3h0M922 220.5h0M904.6 235.2h0M891.3 221.3h0M946.4 189.3h0M876.8 226.5h0M968.8 199.2h0M834.3 217.6h0M946.4 199.9h0M998.3 236.9h0M935.8 193.8h0M833.3 222.5h0M872 225.2h0M843.5 223.7h0M831.2 218.9h0M853.3 219.8h0M862.9 237.8h0M825.2 214.1h0M847.3 235.4h0M859.5 224.6h0M831.9 220.4h0M892.3 233.8h0M886.9 242.8h0M860.7 224.6h0M846.6 221.8h0M894.4 219.6h0M895.2 228h0M841.5 219.5h0M836.1 219.1h0M875.8 241h0M911.7 232h0M824.2 213.7h0M995.9 234.8h0M909.7 191.2h0M830.2 218.7h0M855.5 225.8h0M823.1 212.2h0M847.3 223.3h0M858.7 227.9h0M832.3 215.9h0M862.6 226.5h0M835.3 224h0M852.3 229.1h0M996.3 227.1h0M840.4 219.3h0M909.3 243h0M877.1 216.9h0M904.6 209.3h0M922.9 232.9h0M888.2 243.5h0M842.4 225.8h0M893.4 243.1h0M873.6 238.8h0M895.2 238.3h0M816.6 207.2h0M925 227.9h0M816.6 207.1h0M910.5 231.2h0M871.6 219.5h0M857.7 231.7h0M825.2 212.7h0M839.4 222.8h0M997 174.1h0M999.3 194.7h0M907.6 207.9h0M845.5 220.2h0M911.7 242.5h0M903.6 232.7h0M874.7 240.4h0M824.2 214.3h0M871.6 238.7h0M811.5 203.5h0M906.4 200.1h0M905.6 211.5h0M906.7 239.8h0M933.2 186.1h0M880.2 221.6h0M839.3 221.4h0M926 213.9h0M994.7 171.4h0M917.9 246.5h0M906.7 251.2h0M846.5 226.7h0M855.7 230h0M926.8 239.1h0M836.1 222.2h0M859.6 235.6h0M921.9 216.6h0M883.8 236.6h0M882.8 241.9h0M813.6 204.7h0M810.5 202.4h0M839.5 223.8h0M852.5 236.3h0M882.8 242.1h0M895.5 222.3h0M903.6 203.2h0M988.7 223.6h0M866.8 234.3h0M946.4 200.4h0M916.8 231.9h0M902.5 214.6h0M962.4 180h0M870.9 231.4h0M897.5 218.5h0M832.9 219.1h0M844.5 220.2h0M997.3 234.3h0M882.8 235.2h0M946.4 187.1h0M887.4 224.9h0M913.8 218.8h0M915.9 232.9h0M911.5 210.8h0M852.6 228.5h0M941.7 151.9h0M840.4 222.9h0M864.9 232.7h0M913.7 231.2h0M958.2 230.1h0M856.3 237.7h0M901.5 215.3h0M825.1 215.3h0M876.8 225.6h0M985.7 181h0M872 224.7h0M864.6 235.7h0M836.1 217.2h0M847.5 223.1h0M904.2 198.7h0M855.8 227.2h0M902.5 226.8h0M839.5 225.5h0M1005.2 195.8h0M895.5 233.3h0M882.8 235.6h0M823.1 213.9h0M842.5 223.4h0M883.2 224.3h0M824.1 214.3h0M811.5 202.4h0"/>
<path d="M915.8 214.8h0M845.5 223.8h0M835.1 215.4h0M852.6 225.8h0M810.4 201.2h0M864.8 231.9h0M909.4 234.6h0M946.4 187.2h0M946.4 248.1h0M874.7 240.9h0M901.5 221.8h0M872.6 239.5h0M844.5 228.6h0M905.2 236h0M824.2 214.2h0M846.4 227.3h0M844.6 223h0M861.9 220.7h0M885.3 228.5h0M861.8 229.1h0M927.3 270.4h0M883.8 225.3h0M924.9 218.8h0M904.6 214.2h0M875.8 232.6h0M826.8 215.6h0M1014.3 227.1h0M962.7 199.3h0M921.9 237.5h0M902.6 210.9h0M840.4 226.5h0M836.3 221.8h0M934.9 204.3h0M916.8 246h0M862.6 225.6h0M921.8 239.5h0M859.5 220.9h0M871 218.8h0M898.5 237.9h0M847.4 234.1h0M848.2 224.3h0M921.9 221.6h0M884.8 217.2h0M867 226.7h0M811.5 203.3h0M889.9 234.8h0M825.2 212.4h0M894.4 240.2h0M829.3 215.4h0M921.9 233.8h0M929.8 188.9h0M953.5 238.5h0M882.1 238.1h0M921.8 229.3h0M881.9 238.8h0M897.5 233.9h0M853.3 233.5h0M882.3 230.1h0M860.6 217.9h0M968.8 202.2h0M867.7 237.2h0M845.5 226h0M821.7 212.5h0M896.5 240.5h0M833.4 219.8h0M877.1 224.6h0M882.8 228.2h0M887 225.4h0M831.2 216.9h0M897.3 238.7h0M876.8 239.7h0M905.2 215.8h0M910.8 204.5h0M831.2 216.4h0M833.3 220.4h0M831.3 220h0M886.3 244h0M831.2 216.5h0M910.5 238.6h0M861.8 229.6h0M865.9 233h0M903.6 219.5h0M838.4 222.4h0M914.8 189.7h0M935.8 211.6h0M833.3 215.9h0M903.6 222.8h0M844.5 220.8h0M959.6 251.4h0M881.1 237.9h0M885.9 239h0M895.5 239.4h0M905.6 234.2h0M830.2 217.7h0M841.4 222.1h0M872 236.2h0M876.9 228.2h0M899.5 216.9h0M908.7 246.7h0M855.5 235.9h0M828.2 217.2h0M875.1 234.9h0M896.1 206.7h0M844.5 217.9h0M841.4 226.1h0M907.6 213.4h0M932 193.4h0M847.6 234.8h0M893.4 224.7h0M915.8 229.5h0M810.1 202.3h0M857.5 234.8h0M934.9 238.9h0M815 205.9h0M876.8 217h0M885.2 236.5h0M913.8 220.7h0M817.6 207.6h0M1005.4 221.6h0M808.9 200.8h0M904.6 236.5h0M934.8 225.7h0M916.8 217.5h0M1011.3 219.8h0M854.7 226.7h0M871 240.1h0M810.5 202.7h0M904.6 227.1h0M933.7 221.1h0M935.9 226.5h0M846.3 227.9h0M823.1 210.6h0M865.9 222h0M939.8 207.3h0M894.4 233.3h0M855.7 225.3h0M835.1 218.9h0M826.2 216.4h0M887.9 217.1h0M851.6 235h0M950.5 252.1h0M832.3 215.7h0M910.3 239.5h0M813.6 204.1h0M901.6 213.7h0M884.8 234.6h0M846.6 230h0M914.8 229.6h0M911.7 219.9h0M895 214.8h0M933.2 185.3h0M946.4 260.3h0M843.5 213.9h0M946.4 208h0M876.1 222.9h0M823.1 213.9h0M878.1 243.4h0M824.2 214.4h0M816 205.8h0M863.8 230.4h0M913.8 245.7h0M823.1 213.5h0M894.4 236.9h0M946.4 185.2h0M833.3 214.3h0M862.4 231.5h0M882.2 230.9h0M830.2 218.5h0M906.4 208.4h0M847.6 224.1h0M840.5 219.4h0M914.8 225h0M893.4 236.4h0M974.8 224h0M884.3 225.3h0M910.7 225.4h0M904.6 226h0M812.5 203.6h0M827.2 213h0M883 231.1h0M839.4 221h0M845.5 215.3h0M901.6 233.9h0M877.1 225.7h0M842.4 223.3h0M836.3 223.8h0M861.4 239.3h0M857.5 225.8h0M899.5 237.3h0M839.2 220.3h0M897.5 228.8h0M894 239.1h0M895.5 225.5h0M888.9 217.6h0M884.3 229.6h0M857.7 214.9h0M913.5 244.5h0M896.5 217.4h0M884.8 237.9h0M916.8 238.8h0M884.8 241.5h0M835.1 221.3h0M881.3 230.6h0M836.3 225.4h0M916.8 227.8h0M912.8 212.5h0M831.3 217h0M861.8 236.3h0M944.3 184.1h0M916.8 227.1h0M844.6 225.7h0M857.5 225.1h0"/>
<path d="M923.9 220.9h0M863.6 223.4h0M832.9 219.3h0M877.7 221.3h0M864.9 216.4h0M917.8 232.9h0M830.9 219.7h0M958.2 196.5h0M944.3 231.6h0M823.1 213.4h0M810.5 200.3h0M924 210.8h0M821.7 210.4h0M842.5 229.3h0M837.4 224.3h0M852.6 232.9h0M905.2 220.2h0M893 226.2h0M885.2 227.1h0M903.6 228.6h0M835.1 218.7h0M875 235.9h0M843.5 218.7h0M985.7 237.9h0M822.1 209.5h0M875 232.7h0M847.6 226.6h0M897.4 228.8h0M927.8 233h0M928.8 237.6h0M886.9 225.1h0M855.7 228.3h0M906.7 212h0M831.9 218.9h0M918.6 204.1h0M913.8 239.2h0M863.9 227h0M841.4 226.4h0M845.3 221.4h0M844.6 232.3h0M837 223.2h0M908.4 238.1h0M847.3 224.4h0M891.3 233.6h0M856.5 222.3h0M900.5 204h0M836.3 219.9h0M863.9 222.5h0M911.5 232.5h0M835.4 222.2h0M855.8 232.9h0M896.5 232.3h0M987.7 243.5h0M850.4 222.6h0M812.5 203.6h0M884.3 217.6h0M834.3 222.1h0M960.9 150.8h0M815.6 208.1h0M875.8 228.7h0M836 222.1h0M837.4 217.6h0M917.9 239.1h0M846.6 216.1h0M870.9 227.6h0M998.8 182.2h0M1008.5 229.2h0M859.8 232.4h0M824.2 214.4h0M935.8 247.1h0M891.3 224.5h0M897.2 214.6h0M875.8 220.4h0M984.7 200.1h0M928.8 187.1h0M862.6 223.5h0M843.6 217.3h0M1007.5 235.5h0M895.5 223.4h0M907.7 234h0M836.3 219.4h0M916.6 199.3h0M833.9 221.6h0M881.8 227.6h0M835.1 219.7h0M955.5 215.1h0M1027.9 207.4h0M822.1 209.9h0M875.1 226.5h0M829.3 218.5h0M830.9 216.8h0M874 237.6h0M915.8 224.9h0M862.8 223.7h0M841.5 225.5h0M821.7 213.6h0M822.7 211.6h0M852.7 214h0M913.7 189.7h0M827.2 216.8h0M993.4 180.9h0M853.8 228h0M895.5 229.8h0M977.9 211.5h0M955.5 214h0M832.9 218.1h0M926.8 236.9h0M947.4 224.9h0M861.6 226.6h0M874.1 241.8h0M823.1 213.3h0M858.8 237.3h0M856.5 238.1h0M853.6 234h0M828.2 217.5h0M894.4 237.8h0M898.5 221.3h0M843.5 221.1h0M958.6 194.3h0M832.3 220.4h0M870.9 228.4h0M952.3 162.1h0M902.5 256h0M910.5 221.3h0M824.2 211.5h0M896.5 228.1h0M874 220.8h0M892.4 229.1h0M875.8 220.3h0M899.5 243.7h0M855.7 224.8h0M928 231.4h0M906.4 223h0M827.2 213.9h0M842.5 223.4h0M846.3 233h0M955.5 232.4h0M843.4 228.9h0M936.8 197.7h0M892 241.7h0M911.5 235.6h0M830.2 218.3h0M852.7 223.8h0M884.8 227.7h0M915.8 217.9h0M882.8 242.6h0M814 204.2h0M868 224.5h0M849.5 235.2h0M889.9 241.5h0M874.7 221.2h0M856.3 234h0M931 238.2h0M871 238.4h0M863.9 218.4h0M831.2 217.1h0M839 218.2h0M921.9 215.4h0M904.2 220.7h0M874 236.3h0M917.8 215h0M810.5 201.5h0M834.9 225.3h0M931.2 233.5h0M905.6 230.9h0M835.4 218.4h0M859.8 239.4h0M858.5 224.2h0M855.7 233.4h0M895.5 218.7h0M1011.3 195.7h0M880.9 228.6h0M850.6 222.5h0M850.6 221.6h0M901.5 211.4h0M863.9 227.3h0"/>
<path d="M881.9 231.9h0M945.4 188.7h0M871 226.3h0M833.3 216.7h0M833.3 220.6h0M923 219.7h0M842.5 227.9h0M854.7 219.4h0M833.2 222.7h0M821.7 210.9h0M886.3 230.9h0M886.2 242.2h0M865 229.3h0M832.3 221.3h0M896.5 208.3h0M881.8 228.4h0M869 227.8h0M946.4 239.2h0M842.4 225.7h0M908.6 232.1h0M836.1 216h0M860.9 232.4h0M844.5 227.4h0M844.6 218h0M882.8 226.9h0M954.5 246.2h0M837.4 215.6h0M997.9 182.2h0M887 241.6h0M1004.2 186.9h0M956.6 244.8h0M901.5 219h0M836.1 220.2h0M910.5 213.6h0M830.2 216.6h0M905.6 214.7h0M1008.2 230.7h0M905.6 209.3h0M906.4 244.2h0M886.9 237.8h0M872 222.5h0M840.5 219.2h0M951.5 198.1h0M944.3 187h0M901.6 237.9h0M830.2 219.6h0M834.3 222h0M929 235.9h0M997.8 178.3h0M886.3 221.1h0M832.9 217.8h0M837.1 216.3h0M1013.5 248.6h0M848.4 223.5h0M834.3 221.3h0M902.5 209.5h0M933.7 240h0M840.4 219.7h0M885.3 253.4h0M842.2 223.3h0M833.9 221.1h0M851.7 215.8h0M814.6 205.8h0M832.3 217.2h0M886.3 240.2h0M905.2 206.3h0M873.9 234h0M932 238.1h0M902.5 241.7h0M834.9 220.8h0M945.4 243.1h0M850.7 216.1h0M913.7 224.9h0M858.4 233.7h0M826.2 214.8h0M945.4 227.8h0M860.6 219.4h0M904.7 204.5h0M821.1 208.1h0M957.5 218.5h0M913.7 208.4h0M841.2 218h0M888.9 233.7h0M882.8 225.4h0M849.7 224.2h0M987.8 175.8h0M898.1 222.2h0M915.8 240h0M907.4 233.8h0M817.6 205.3h0M896.5 230.1h0M841.4 227.2h0M904.6 230.9h0M885.9 223.2h0M895.5 235.6h0M914.8 221.8h0M898.5 235.5h0M961.4 255.4h0M831.3 214.8h0M842.2 225.7h0M906.2 245.8h0M847.6 219.5h0M832.3 217.8h0M827.2 215.1h0M862.9 236.4h0M896.5 225.5h0M862.9 220.4h0M831.9 216.4h0M848.6 227.4h0M881.8 239.3h0M901.6 212h0M902.6 242.7h0M854.3 230.1h0M837.4 221.1h0M836.4 216.5h0M821.7 211.9h0M895.5 219.5h0M873.6 241.1h0M823.7 215.8h0M837 227.8h0M812.5 204.3h0M1013.6 202.3h0M889.9 243.7h0M902.5 229.2h0M850.6 230.2h0M916.8 230.6h0M852.3 223.2h0M924.9 216.9h0M868.8 220.3h0M841.2 224.1h0M847.6 227.6h0M834.3 222.1h0M916.8 208.1h0M887.2 222.6h0M909.7 210.5h0M918.7 228.1h0M910.7 234.1h0M836.1 219.9h0M912.7 225.2h0M882.3 241.5h0M949.4 223.6h0M824.8 213.6h0M825.2 214.1h0M837.4 219.1h0M830.2 215.4h0M911.5 238.8h0M879.2 224.3h0M906.7 193.3h0M832.3 216.1h0M908.7 233.5h0M938.8 194.6h0M843.5 218.4h0M893.4 214.9h0M901.3 221.8h0M930.8 215.4h0M905.2 237.7h0M900.5 215.9h0M837.4 216h0M845.5 226.9h0M906.6 216.5h0M882.8 215h0M1005.4 200.5h0M904.2 214.6h0M933.7 222.2h0M866.7 224.6h0M838.4 216.2h0M1049.7 247.2h0M856.5 235.5h0M905.4 211.3h0M898.2 217.8h0M884.2 224.3h0M850.6 225.5h0M917.9 229.4h0M998.3 201.1h0M872 229.4h0M910.5 229.9h0M918.9 237.3h0M937.8 230.6h0M835.1 217.3h0M1018.7 210.8h0M851.7 225.3h0M857.6 220h0M887.3 224.9h0M882.8 237.2h0"/>
<path d="M905.4 222.1h0M837.4 215.7h0M832.3 218.4h0M957.2 213.2h0M853.6 233.6h0M844.5 230.2h0M903.2 215.1h0M845.3 225.1h0M817 207.2h0M896.2 231.3h0M839.4 216.7h0M842.5 225.3h0M910.5 243.7h0M836.1 224.9h0M846.6 227.1h0M831.2 216h0M902.5 216.6h0M934.5 269.3h0M826.2 216h0M903.2 237.2h0M844.5 220.7h0M853.6 216.4h0M844.5 224.5h0M986.3 267.1h0M812.5 204.2h0M831.2 217.5h0M848.6 227.7h0M836.3 220.2h0M839.2 220.6h0M832.3 217.8h0M921.9 233.8h0M827.2 216.6h0M872 241h0M862.9 228.1h0M878.9 240.6h0M846.6 234.3h0M873.6 236.2h0M840.4 219.2h0M836.1 223.3h0M902.6 244.2h0M855.7 234.4h0M946.4 193.1h0M843.5 223.4h0M866.9 236.3h0M863.8 227.5h0M832.3 217.6h0M873 237.6h0M903.6 224.6h0M833.3 218.3h0M893.4 223.9h0M849.5 230.6h0M924.9 229.7h0M838.1 223.5h0M886.9 232.7h0M913.8 236.5h0M919.9 232.6h0M927.4 148.2h0M863.5 230h0M947.4 185.2h0M1011.6 228.2h0M818.6 207.3h0M833.3 219.5h0M907.3 212.7h0M826.2 212.7h0M898.5 239.1h0M841.4 222.8h0M867 235.3h0M885.3 221.7h0M825.2 213h0M1006.5 231.9h0M919.9 221.6h0M1008.2 243.6h0M843.5 223.8h0M888.3 243.2h0M932.7 238.9h0M910.7 208.9h0M843.5 223.6h0M895.5 232.5h0M843.2 230h0M847.6 223.8h0M968.5 204.1h0M829.3 215.4h0M910.5 229.9h0M883.8 233.6h0M835.3 219.8h0M848.3 224h0M921.9 239.3h0M821.7 212.4h0M919.9 205.7h0M829.3 215.4h0M882.8 226.3h0M918.6 210.8h0M914.8 226.1h0M895.5 220.2h0M842.4 222.8h0M1004.4 215.4h0M1024.8 252.6h0M993.4 177h0M921.9 228.6h0M863.9 219h0M870.8 226h0M846.3 223.5h0M891.2 218.1h0M841.4 224.5h0M811.5 203.1h0M891.2 239.3h0M926.8 203.4h0M902.6 227.9h0M830.9 220.6h0M858.6 232.7h0M851.6 224.2h0M1001.4 174.8h0M851.6 228.9h0M962.4 230.6h0M965.8 230.2h0M909.3 229.7h0M849.6 216.5h0M823.1 212.8h0M906.7 235h0M853.6 233.7h0M882.3 210.3h0M912.7 205.9h0M885.3 234.4h0M896.5 235h0M838.4 215.3h0M830.3 218.1h0M818.6 209.4h0M917.9 200.5h0M858.4 230.5h0M984.7 225.7h0M815.6 205.9h0M872 222.4h0M851.6 222.2h0M856.5 225h0M962.7 214.2h0M838.4 225.8h0M856.3 222.2h0M860.6 225.8h0M986.7 185.8h0M892.3 221.3h0M974.8 249.4h0M1019.5 248.9h0M914.8 239.5h0M820.7 208.2h0M825.2 215.1h0M911.3 229.1h0M999.3 208.8h0M842.1 229.5h0M905.4 232.9h0M891.3 232.7h0M854.6 236.6h0M985.7 250h0M890.4 230.3h0M823.1 212.7h0M933.7 241.3h0M845.6 225.2h0M820.7 211.2h0M901.5 232.7h0M963.6 202.3h0M957.6 220.1h0M848.6 223.3h0M906.7 237.2h0M905.6 226.8h0M953.5 190.6h0M832.3 216.2h0M843.4 221.7h0M884 221h0M829.3 219h0M831.2 215.6h0M885.9 230.5h0M910.8 222.6h0M839.4 222.2h0M1030.4 261h0M845.3 220.4h0M892.4 229.2h0M864.9 220.9h0M856.5 219.4h0M813.6 204.6h0M882.1 232.7h0M840 220.6h0M863.9 223.9h0M995.3 186.5h0M933.7 245h0M893.4 225.6h0M933.2 197.9h0M895.5 208.3h0M896.5 221.9h0M916.8 237.3h0M845.3 231.8h0M851.6 222h0M968.7 191h0M850.6 228.4h0M823.1 211.7h0M845.5 217.8h0M809.7 201.7h0M858.4 229.6h0M899.3 225.4h0M902.5 212.2h0M887 231h0M934.8 217.5h0M840 224.1h0M822.1 212.7h0M892.4 232.9h0M832.3 218.1h0M875 240.5h0M870.7 234.7h0M1040.6 248.3h0M839.3 222.5h0M934.8 194.1h0M884.2 221.6h0"/>
<path d="M851.6 228.2h0M854.3 224.6h0M877.9 236.8h0M1023.7 226.9h0M856.3 235.9h0M839.4 219h0M914.8 232.3h0M908.4 243.2h0M816.6 207.3h0M932.9 208.4h0M879.1 242.5h0M836.3 222.9h0M991.8 191h0M853.7 235.2h0M956.3 242.1h0M905.6 214h0M844.4 222.2h0M887.3 229.4h0M893.4 231.2h0M844.5 223.3h0M896.4 226.6h0M864.9 236.8h0M907.7 211.4h0M954.5 208.1h0M909.4 244.5h0M824.2 212.8h0M902.6 230.1h0M995.9 244.6h0M852.6 219.2h0M886.3 225.3h0M824.2 214h0M813.6 203.7h0M945.4 239.1h0M831.2 215.4h0M863.9 232.5h0M872.6 224.3h0M896.5 217.1h0M910.7 222.4h0M856.7 218.8h0M852.5 221.5h0M851.2 227.8h0M894.4 233.5h0M841.2 230.2h0M839.2 218.6h0M935.8 207.8h0M1015.3 193.7h0M830.2 219.6h0M865.8 217.6h0M960.6 207.2h0M839.3 214h0M945.4 223.5h0M857.7 232.4h0M891.3 221.1h0M847.4 222.5h0M899.5 208.4h0M851.7 220h0M884.8 243.9h0M907.6 240.4h0M842.4 224.1h0M893.4 209.1h0M851.2 229.7h0M922.9 211.9h0M834.1 224.3h0M925.7 234.9h0M947.4 233.6h0M838.1 219.4h0M946 212.2h0M848.6 231.5h0M837 223.9h0M903.6 212.3h0M858.6 236.9h0M899.5 235.5h0M1009.5 225.7h0M848.7 232.8h0M831.2 218.4h0M895.4 218.2h0M905.2 201.3h0M913.8 229.4h0M895.5 216.4h0M938.8 213.8h0M856.3 231.8h0M895.5 224.9h0M837.1 223.1h0M887 239h0M831.2 216h0M851.6 226h0M857.4 221h0M872.6 231.6h0M859.5 222.1h0M906.6 237.7h0M831.2 218.8h0M881.8 232.1h0M840.2 221.1h0M896.5 211.8h0M956.5 235.8h0M810.5 201.4h0M841.5 224.9h0M849.5 225.5h0M855.5 224.4h0M885.3 214.8h0M886.9 212.1h0M864.9 232.3h0M886.9 228.7h0M905.4 217.3h0M855.7 225.9h0M840.2 222h0M850.6 216.7h0M904.6 207.6h0M865.7 232.6h0M872.6 220.3h0M912.7 241.3h0M887.4 215.5h0M861.8 221.7h0M877.9 234.9h0M878.9 243.1h0M846.6 233.6h0M894.4 222h0M834.3 223.8h0M905.6 241.1h0M827.2 217.6h0M829.3 218h0M838 217.6h0M1009.3 221.2h0M842.2 227.9h0M857.5 218.8h0M914.8 236h0M853.3 229h0M810.5 202.1h0M832.3 223.6h0M915.8 226.2h0M937.8 248.3h0M853.6 231.6h0M905.7 196.4h0M834.3 215.9h0M955.1 230.1h0M857.6 234.5h0M912.7 221.2h0M949.4 164.6h0M887 243.2h0M918.9 214.2h0M870 233.1h0M887.9 218.7h0M892.4 232.5h0M895.5 211.1h0M863.9 228.1h0M854.3 230.9h0M984.7 243h0M914.8 186.7h0M881.8 234.1h0M899.5 220.5h0M841.2 221.5h0M906.7 246.5h0M841.2 226.6h0M813.6 205.2h0M866.9 233.4h0M847.4 221.6h0M832.3 219.7h0M889.9 244.6h0M929.8 214.1h0M870 220.1h0M850.6 218.8h0M902.2 235.9h0M903.6 245.8h0M827.8 194.6h0M913.8 245.5h0M934.9 209.1h0M835.4 217.2h0M859.8 235.7h0M897.5 242.7h0M845.5 234.3h0M923.9 216.5h0M817.6 208.1h0M894 212.7h0M868 228.9h0M829.3 216.6h0M905.6 206.9h0M819.1 205.9h0M947.4 262.8h0M915.8 211.5h0M842.1 225.5h0M871 236.7h0M894.4 234.1h0M944.9 205.8h0M1005.4 235.1h0M882.1 242.9h0M844.5 228.7h0M835.1 217.2h0M847.5 213.1h0M872 231.8h0M828.2 216.5h0M874.8 227.9h0M905.4 229.7h0M884.8 236.6h0M910.8 246.4h0M938.3 219.9h0M813.6 205.2h0M898.5 228.3h0M1017.7 208.5h0M871 242.7h0M917.6 216.4h0M831.3 215.2h0M842.1 219.1h0M819.7 208.5h0M901.5 223h0M882.2 233.8h0M848.6 226h0M905.6 201.5h0M823.1 211.5h0M913.8 244.6h0M850.4 230.8h0M873.6 235.7h0"/>
<path d="M886.9 226.6h0M882.2 218.7h0M833.3 218.8h0M926.8 215.2h0M913.8 245.8h0M880.9 229.7h0M837.4 223h0M969.8 205.6h0M877.9 236.5h0M888.9 244.1h0M902.5 218h0M833.3 218.8h0M862.8 236.4h0M882.8 234.3h0M929 222.4h0M895 228.2h0M915.8 226.3h0M929.8 220.9h0M835.3 219.3h0M851.2 232.9h0M865.8 229.8h0M831.2 216h0M835.3 218.8h0M860.6 225h0M898.5 238.9h0M844.3 221.7h0M902.5 231h0M831.2 215.8h0M1040 257.2h0M842.5 227.7h0M873 231.8h0M836.1 217.5h0M852.7 233.7h0M904.6 221.4h0M834.1 222.7h0M895.5 235.3h0M852.3 235.6h0M902.5 205.8h0M1015.6 210.3h0M902.5 234.9h0M857.5 224.7h0M841.4 223.8h0M999.6 183.6h0M917.9 225.4h0M831.2 215.7h0M998.3 242h0M943.9 186h0M834.9 219h0M864.9 220.8h0M841.5 227.5h0M915.8 215.4h0M872 229.6h0M848.3 223.6h0M844.5 224.1h0M900.5 224.5h0M912.8 188.4h0M833.3 217.5h0M860.4 232.4h0M830.2 221.7h0M839.2 227.6h0M876.8 233h0M888.9 221.2h0M841.5 224.6h0M866.7 225.7h0M833.3 223.5h0M839.5 223.1h0M914.8 203.9h0M816 207.2h0M843.5 221.1h0M818.1 207h0M912.7 242.4h0M838.1 220.3h0M956.6 223.1h0M843.5 223.2h0M915.8 248.7h0M882.1 218.5h0M862.9 232.4h0M873 234.6h0M867.9 224.2h0M855.6 228h0M932.7 229.6h0M902.6 232.1h0M836.4 218.5h0M905.6 198.1h0M896.5 228h0M872 227.4h0M884.8 223.1h0M852.6 222.7h0M831.9 216.5h0M821.7 212.2h0M852.6 235.2h0M912.7 164.4h0M905.6 217h0M857.6 221.8h0M837.1 221.4h0M980.7 234.9h0M863.9 236.2h0M881.8 230.2h0M987.7 234.5h0M918.9 234.9h0M900.5 243.4h0M924.9 199.5h0M849.7 229.2h0M810.2 200.8h0M898.5 234.5h0M834.3 221.4h0M857.7 226.1h0M842.4 223.9h0M810.5 202.4h0M831.2 221.9h0M918.6 204.3h0M856.8 232.8h0M855.3 230.1h0M876.8 236.7h0M847.6 226.5h0M809.5 200.9h0M963.6 216.5h0M865 235h0M845.3 227.6h0M955.5 225.6h0M830.2 220.4h0M834.3 221.2h0M947.4 221.4h0M923 225.7h0M853.8 233.5h0M841.2 219.3h0M865.9 231.1h0M889.9 233.8h0M902.5 215.6h0M866.9 221.9h0M888.9 229.8h0M840.4 214.9h0M1003 243.2h0M884.3 229.1h0M849.6 230.9h0M872 229.2h0M939.8 195.8h0M864.9 238h0M847.6 219.9h0M835.1 216.5h0M871 228.8h0M851.7 229.4h0M843.5 223.6h0M971.8 239.6h0M892 242.2h0M854.7 234.2h0M882.8 222.6h0M837.4 221.2h0M817 207.4h0M924.9 204.9h0M992.5 173.8h0M852.7 228.1h0M834.3 220.3h0M911.5 218.5h0M882.1 215.9h0M852.7 217.1h0M805.2 198.4h0M916.8 231.1h0M881.8 235h0M826.2 214.8h0M1002.4 231.6h0M830.9 215.8h0M936.8 207h0M903.2 234.5h0M896.5 221.5h0M869 225.2h0M839.3 220.9h0M996.4 187.1h0M1000.4 232.4h0M997.3 213.5h0M824.2 214.2h0M825.2 216.1h0M901.5 209.4h0M862.8 236.9h0M915.8 231.3h0M895.5 222.7h0M835.3 220.4h0M852.7 228.4h0M894 236.6h0M1050.8 239.7h0M882.3 244.2h0M850.4 218.9h0M882.8 229.1h0M992.3 173.5h0M822.1 211.5h0M881.8 231h0M849.6 224.7h0M945.4 201.6h0"/>
<path d="M836.4 224.1h0M901.5 231h0M896.5 233.4h0M857.4 230.6h0M837.1 220.9h0M945.4 207.1h0M911.3 235.6h0M836 217.1h0M957.3 222.6h0M860.9 234.6h0M867.7 219.3h0M875 225.9h0M891.3 219.8h0M984.7 210.1h0M925.7 229.6h0M893 226h0M923 241.8h0M945.4 191.7h0M947.4 245.5h0M850.6 224.1h0M883.8 239.4h0M902.6 202.6h0M911.5 242.7h0M888.9 225h0M1008.1 229.5h0M813.6 204.9h0M885.3 227.8h0M866.9 216.1h0M826.2 215.7h0M908.7 212.7h0M912.1 262.7h0M860.6 227.5h0M895 230.9h0M902.6 225.7h0M887.9 227.8h0M856.7 225.1h0M925.9 225.2h0M903.2 213.2h0M855.5 225.9h0M912.7 209.2h0M876.8 226.6h0M846.5 222.1h0M842.4 232.1h0M832.3 214.7h0M916.8 215.9h0M985.7 194h0M971.6 207.1h0M926.8 199h0M858.4 226.7h0M931.1 240.3h0M853.3 232.7h0M889.9 220.6h0M834.3 221.3h0M888.1 241.5h0M858.5 228.1h0M947.4 220.1h0M835.1 221h0M944.9 246.7h0M1009.2 200.8h0M829.3 216.1h0M897.5 231.8h0M920.9 212.1h0M832.3 219.7h0M858.5 228.8h0M897.1 241.7h0M832.3 214.4h0M856.3 229.5h0M855.7 224.7h0M862.6 226.6h0M834.1 215.9h0M836 220.4h0M945.4 216h0M846.4 218.3h0M874.7 228.1h0M821.7 210.8h0M823.1 213.4h0M847.6 224.7h0M850.4 223.8h0M998.3 204.3h0M958.3 181.2h0M935.8 249.3h0M875.1 220.2h0M888.1 221.2h0M864.9 227.9h0M884.3 218.9h0M854.3 217.1h0M832.9 218.2h0M905.2 240h0M852.6 220.2h0M848.6 221.3h0M845.6 223.4h0M893.4 228h0M919.9 242.6h0M902.5 209.5h0M854.6 216.2h0M865.9 229.5h0M895.5 225.8h0M830.2 217.2h0M815 205.3h0M905.6 203.1h0M836.3 221.7h0M855.7 231.4h0M862.4 230.5h0M906.2 237.7h0M853.6 227.8h0M873 219.1h0M855.5 215.4h0M834.3 221.5h0M907.6 247.5h0M894 232.3h0M844.5 223.1h0M885.2 227.5h0M836.1 221.4h0M842.1 226.2h0M904.6 243.9h0M873 227.6h0M838.1 219.8h0M836.3 219.1h0M844.5 226.9h0M827.2 212.5h0M881.3 230.7h0M967.8 190.4h0M849.7 229.5h0M997.3 230h0M868 223.8h0M894.5 239h0M881.1 217.5h0M859.9 232.5h0M860.9 231.4h0M852.6 220.5h0M983.7 164.8h0M853.8 231.9h0M851.6 229.3h0M850.7 225.7h0M846.4 220.9h0M865.7 223.9h0M903.6 242.7h0M866.9 215.8h0M887.9 228.4h0M824.1 212.9h0M1010.1 228.7h0M830.9 218.8h0M863.9 224.8h0M863.9 229.6h0M1001 240h0M830 214.2h0M838.1 223.4h0M932 233h0M857.5 230.7h0M882.8 232.6h0M895.5 222.2h0M875.1 232.7h0M831.9 220.1h0M928 221.6h0M852.5 223.9h0M814.6 204.8h0M893.4 222.7h0M872 232.3h0M897.5 230.1h0M843.5 218.2h0M837.1 223.7h0M894 238.3h0M892.2 220.3h0M906.4 239.7h0M854.7 234.5h0M906.4 233.5h0M852.3 226.7h0M1000.4 226.1h0M821.7 212.3h0M892.2 219.9h0M871 229.8h0M982.8 270.4h0M844.5 223.4h0M944.3 238.4h0M843.6 213.6h0M910.5 228.4h0M911.7 216.9h0M894.4 231.5h0M895 206.1h0M934.8 250.8h0M881.8 243.7h0M835.1 221.9h0M997.3 244h0M954.1 234h0M844.5 222.9h0M840.4 224.7h0M953.5 248.5h0M906.4 237.6h0M841.4 225.9h0M826.2 216.4h0M871.8 233.9h0M875 230.7h0"/>
<path d="M828.2 216.3h0M906.4 262h0M822.1 212.7h0M853.3 218.4h0M944.3 221.9h0M862.9 230.3h0M912.7 232.7h0M851.4 215.3h0M875 234.9h0M945.4 215.6h0M826.2 216.3h0M838.4 224.6h0M835.1 223h0M836.3 223.2h0M926.8 237.9h0M851.6 217.5h0M880.1 234.9h0M860.8 234.1h0M889.1 235.9h0M823.1 212.3h0M822.1 211.5h0M893.4 213.6h0M863.8 229.4h0M899.5 221.4h0M871 227.7h0M984 217.3h0M904.6 203.3h0M892.4 223.2h0M846.5 234.4h0M883.2 228.6h0M871.6 227.5h0M896.2 234h0M842.4 221.2h0M816.6 206.5h0M840.4 223.4h0M984.7 203.7h0M829.2 214.8h0M830.2 218.6h0M873 233.2h0M816.6 207h0M865.9 219.9h0M885.9 227.1h0M886.2 228.9h0M938.1 221.1h0M853.6 223.9h0M902.6 229.3h0M875.9 235.6h0M833.9 214.6h0M899.5 222.5h0M839.2 219.5h0M1014.3 219.1h0M836.3 218h0M832.3 217.8h0M828.2 217h0M840.5 219.3h0M871 230.9h0M905.2 220.5h0M899.5 211.6h0M850.6 230.6h0M882.8 233.4h0M910.3 202.4h0M910.6 239.6h0M846.4 224.2h0M850.6 235.6h0M811.1 203.8h0M823.1 213.6h0M865.9 223.5h0M817 205.2h0M955.1 193.3h0M895.5 240.8h0M853.3 229.4h0M933.7 233.4h0M836.1 222.1h0M1004 227.4h0M868 227.4h0M860.9 228.5h0M844.5 231.2h0M868.8 228h0M840.4 226h0M853.3 232.3h0M841.4 222.1h0M894.4 242.5h0M871 234.2h0M851.7 228.8h0M904.2 216.2h0M916.8 239.9h0M842.5 214.6h0M844.5 218.3h0M1009.5 218.9h0M877.1 239.3h0M824.2 213h0M876.8 238h0M901.6 206.1h0M1013.2 207.4h0M903.6 243.8h0M863.8 234.6h0M953.5 253.1h0M982.8 161h0M964.7 196.3h0M823.1 213.9h0M992.8 243.5h0M845.3 215h0M841.2 217.1h0M870 221.8h0M832.9 218.3h0M911.7 200.1h0M906.6 216.3h0M842.4 226.6h0M866.8 234.8h0M862.8 214.1h0M833.9 223.1h0M1010.5 227.4h0M1009.3 232.5h0M836.3 223.5h0M844.4 221.1h0M953.5 228.6h0M915.8 241.5h0M884.2 230.8h0M902.6 215.8h0M924.9 225.6h0M851.6 228.2h0M894.4 239.6h0M834.3 219h0M883.8 220.5h0M942.9 240.8h0M854.4 226.2h0M813.6 204.6h0M841.4 217.5h0M854.3 233h0M837.4 221.9h0M862.8 228h0M837.4 220.8h0M902.5 212.3h0M883.8 236.9h0M948.4 242.6h0M842.5 215.2h0M913.7 223.8h0M903.5 239.1h0M895.2 255.4h0M906.6 201.6h0M984.4 189h0M854.4 223.4h0M826.2 215.1h0M862.8 243.1h0M839.5 223.3h0M847.4 223.9h0M1004 208.8h0M836.1 221.7h0M854.3 225.2h0M903.6 244.8h0M999.3 200.9h0M929.8 222.7h0M840.5 220.6h0M846.6 223h0M849.4 232h0M893.4 241.3h0M842.1 221.7h0M861.8 233h0M861.8 229.5h0M948.4 197.3h0M937.8 247.9h0M834.3 221.6h0M831.2 218.1h0M907.7 205.5h0M862.8 230.2h0M907.7 205.5h0M852.3 228.6h0M840.4 216.5h0M896.5 237.7h0M924 197.3h0M858.4 234.7h0M915.7 233.4h0M913.8 228.3h0M852.3 232h0M978.7 184.7h0M881.8 221.3h0M878.1 226.5h0M820.7 211.3h0M834.1 217.2h0M836.1 224.3h0M826.2 215.9h0M907.7 190.2h0M986.7 262.9h0M834.3 219.3h0M906.4 211h0M885.3 241.6h0M837 223.3h0M814.6 206h0M864.8 233h0M840.4 222.9h0M860.7 237.5h0M916.6 237.4h0M899.5 216.2h0M990.8 222h0M895.2 232.8h0M921.9 230.9h0M953.5 206.3h0M997.3 216.4h0M837.5 221h0M895.4 211.8h0M1008.2 210.8h0"/>
<path d="M933.9 244.3h0M931.8 189.4h0M882.8 239.1h0M877.1 234.8h0M810.5 202.3h0M913.8 220.5h0M867.7 227.5h0M841.2 227.2h0M881.8 233.6h0M839.4 215.8h0M875.7 221.9h0M901.5 219.1h0M834.3 217.3h0M847.6 223.8h0M835.4 216.9h0M827.2 214.9h0M837.1 219.7h0M946.4 254.2h0M852.6 230.5h0M837 224h0M840.4 226.9h0M817.1 208h0M842.5 217.6h0M880.9 226.4h0M861.6 222.1h0M858.5 231.9h0M850.6 229.4h0M888.9 224.4h0M883.8 235.5h0M839.5 214.7h0M844.6 223.7h0M907.6 232.7h0M1008.5 233.4h0M895.4 229.4h0M894.4 222.1h0M873.6 223h0M889.1 232.9h0M851.6 224.2h0M851.6 231.8h0M812.5 204.3h0M838.1 224.8h0M825.2 215.4h0M899.5 229.7h0M915.6 236.7h0M830.2 213.7h0M917.6 232.2h0M898.5 197.7h0M845.3 223.6h0M916.8 214.9h0M856.3 218.9h0M828.2 218.3h0M897.5 201.3h0M825.2 211.9h0M847.3 216.2h0M816.6 206h0M865.6 223.2h0M859.8 226h0M901.6 209.3h0M867.7 236.4h0M932.7 187.5h0M876.1 224.2h0M845.5 221h0M923.9 211.1h0M830.2 218.1h0M870 227h0M1050.8 281.2h0M942.9 230.7h0M872 227.1h0M905.6 240.6h0M865.9 236.6h0M872 232.9h0M1019.1 273.9h0M853.3 229.5h0M839.2 223.7h0M855.3 234.8h0M837.1 221.4h0M893.4 208.3h0M856.7 232.3h0M863.9 223.6h0M861.9 222.5h0M881.9 236.8h0M828.2 217.4h0M855.5 228.2h0M924.9 201.2h0M915.9 196.4h0M823.1 213.6h0M913.5 248.9h0M947.4 249.6h0M917.8 210.3h0M871 221.3h0M894 244.7h0M844.3 225.8h0M954 267.1h0M831.2 219.8h0M946.4 173.3h0M844.5 219.2h0M847.3 217.9h0M825.2 215.9h0M905.6 218h0M871 227.4h0M917.9 236h0M855.7 221.3h0M927 230.7h0M909.7 196h0M896.5 212.7h0M834.3 221.8h0M897.5 223.3h0M957.3 209.6h0M999.3 243.3h0M816 206h0M969.8 246.1h0M846.5 226.5h0M836.3 221.1h0M946.4 198.1h0M850.7 230.9h0M849.5 231.4h0M892.4 210.1h0M861.8 227.1h0M872 226.4h0M907.4 218.1h0M852.7 231.7h0M852.6 222.8h0M848.4 230.8h0M1008.5 203.7h0M1021.7 204.1h0M882.8 241.5h0M952.3 157.7h0M996.3 230.8h0M856.5 231.1h0M837 220.9h0M897.5 222.5h0M852.3 226.5h0M865 235.6h0M867.7 231.7h0M865.9 232.3h0M816.6 206.1h0M951.5 179.1h0M841.4 226.9h0M946.4 213.6h0M838.1 223.3h0M904.2 226.9h0M841.4 221.5h0M836.4 212.5h0M854.7 230.6h0M840.4 221.1h0M828.2 218.9h0M860.8 234.5h0M880.2 228.9h0M840.5 219.1h0M852.6 236.6h0M839.2 217.6h0M930 213.1h0M982.8 163.8h0M824.2 214.5h0M833.2 215.4h0M891.3 234.4h0M866 240.3h0M850.6 231.9h0M919.9 229.3h0M917.6 205.2h0M811.5 202h0M840.4 219.4h0M873.6 240.3h0M910.7 215.6h0"/>
<path d="M933.1 231.2h0M999.9 231.8h0M907.6 222.2h0M862.6 224.3h0M876.7 238.7h0M901.5 236.8h0M901.6 231.2h0M907.6 231.5h0M884.3 227h0M841.4 218.5h0M926.8 243.3h0M1011.3 219.3h0M833.3 219.6h0M842.5 220.8h0M874.1 230.8h0M862.9 234.1h0M903.6 202h0M834.1 216.8h0M869 228.1h0M835.3 220.4h0M867.5 244.2h0M894 242.7h0M822.1 211.6h0M824.2 216.1h0M924.9 212.5h0M884.8 232.1h0M901.5 225.6h0M859.4 238.5h0M816 207h0M870.8 229.7h0M881.1 216.9h0M907.6 243.6h0M834.3 222.9h0M906.4 235.6h0M880.9 232.8h0M841.4 223.8h0M894.4 219.3h0M922.9 214.4h0M914.7 190.9h0M904.6 207.3h0M841.5 220.4h0M923.9 227.6h0M822.1 212.8h0M839.2 224.1h0M839.3 225.3h0M896.5 219.3h0M885.9 221.9h0M890.4 216.3h0M852.3 228.1h0M895.5 214.1h0M824.2 213.1h0M1006.5 214.1h0M840.4 220.5h0M840.2 222.1h0M825.2 215.4h0M842.5 221.3h0M831.2 219.4h0M958.3 258.8h0M860.7 222.9h0M825.2 215h0M844.5 229h0M905.2 230.9h0M912.5 247.4h0M856.3 233.2h0M988.7 190.4h0M996.3 200.1h0M940.3 218.1h0M998.3 230.3h0M831.9 217.6h0M823.1 213.8h0M855.7 233.6h0M947.4 202.9h0M904.6 246.4h0M835.1 214.9h0M826.2 214.8h0M839.2 215.8h0M865.6 234.1h0M881.9 241h0M855.7 226.1h0M886.2 234.1h0M883.8 232.6h0M937.8 248.1h0M823.7 212h0M876.8 233.8h0M815 204.9h0M837.4 221.7h0M904.6 227.1h0M965.7 195.5h0M870 240.2h0M882.8 234.7h0M856.5 225.8h0M852.6 214.9h0M892 244.1h0M855.5 231.2h0M837.4 220.5h0M854.4 230.9h0M851.6 223.7h0M913.8 210.8h0M906.4 242.6h0M906.6 198.7h0M845.5 220.3h0M813.6 205.2h0M841.5 229.6h0M910.5 221.4h0M916.8 197.4h0M895.4 214.2h0M851.6 234.5h0M902.5 214.5h0M938.8 223.7h0M848.6 215.9h0M847.5 225.8h0M897.5 220.7h0M861.9 241.6h0M903.2 212.3h0M858.4 215.7h0M849.7 221.4h0M922.9 245.2h0M905.6 227.3h0M939.3 213.4h0M995.3 222.8h0M945.4 200.9h0M876.1 229.7h0M892 219.5h0M901.6 236.9h0M862.9 238.7h0M914.8 229.7h0M855.5 232.4h0M856.7 216.2h0M839.5 223.5h0M1007.5 212.6h0M896.2 224.2h0M902.2 218h0M893.4 231.7h0M902.2 245.5h0M927 250.1h0M824.2 214.4h0M946.4 221.2h0M836.1 221.1h0M832.9 215.9h0M838.4 225.9h0M841.4 227.4h0M983.6 211.6h0M817.6 208.6h0M888.9 219.1h0M914.8 245.8h0M1010.3 242.8h0M873 222.4h0M906.4 204.3h0M876.1 222.4h0M838.4 225.6h0M852.3 228.2h0M850.7 231.9h0M837.4 221.9h0M886.9 222.2h0M839.4 217.1h0M833.3 218.7h0M847.6 233.6h0M904.2 213.3h0M961.4 252.7h0M830.3 216.7h0M894.4 208.4h0M894.4 240.3h0M839.3 220.5h0M880.1 233.6h0M995.3 240.9h0M896.4 227.4h0M944.3 248.1h0M834.1 215.2h0M861.9 221.4h0M853.6 234.6h0M852.6 219.6h0M840.4 225.2h0M884 238h0M824.8 214.5h0M910.3 239.2h0M882.1 225h0M863.9 232.8h0M859.4 228.7h0M885.2 241.3h0M868 236.9h0"/>
<path d="M946.4 189h0M878.1 238.1h0M846.3 228.2h0M853.5 236.1h0M837.4 220.4h0M893.4 225.2h0M903.6 210.9h0M891.4 210.3h0M842.4 218.8h0M828.2 217.4h0M853.6 225h0M906.6 241.2h0M897.5 234.2h0M902.6 237.9h0M853.5 227.8h0M996.4 176.2h0M860.8 226.2h0M922.9 217.9h0M844.6 229.2h0M828.2 216.5h0M908.7 211.4h0M893.4 221.7h0M923.9 212.2h0M889.3 232.6h0M916.8 226h0M895.5 236.2h0M884.3 228.7h0M896.5 231.3h0M859.5 238h0M904.6 242.3h0M845.5 218.4h0M894.4 230.9h0M852.7 222h0M845.3 219.8h0M896.5 225.7h0M970.8 194.1h0M871 238.1h0M878.1 232.9h0M832.3 215.7h0M904.2 216.1h0M905.6 209.9h0M893.4 235.4h0M902.5 207.3h0M909.4 238h0M852.6 224.3h0M840.2 221.5h0M869 230.4h0M857.7 225.5h0M829.3 218.5h0M900.5 222.4h0M834.1 223.6h0M905.2 242.4h0M834.3 216.7h0M845.5 227.1h0M894.4 218.1h0M851.2 222.5h0M840.2 219.7h0M902.5 215.2h0M918.6 237.6h0M897.5 238.1h0M872.6 232.8h0M997.3 218.9h0M826.2 216.6h0M836.3 221.4h0M912.8 211.8h0M907.3 246.4h0M881.1 242.6h0M844.6 226.8h0M834.3 217.1h0M886.3 236.8h0M845.1 228h0M905.6 222.2h0M873 226.1h0M845.3 230h0M864.9 243.5h0M848.7 230.9h0M956.6 195.5h0M986.7 166.7h0M929.9 186.6h0M905.2 233.1h0M894 219.7h0M985.3 172.7h0M895.5 237.2h0M879.9 235.5h0M873.1 248.7h0M928.8 240.2h0M998.3 180.2h0M906.4 241.4h0M852.3 235.9h0M811.5 203.1h0M944.9 236.8h0M888.9 230.3h0M987.7 239.8h0M862.9 230.8h0M885.9 231.5h0M860.9 224.3h0M997.3 184.5h0M865.8 228.5h0M905.4 228.1h0M987.5 192h0M817 208.1h0M959.3 223.4h0M907.7 230.5h0M894.4 230.7h0M857.7 226h0M872.6 232.5h0M908.7 219h0M840.2 218.3h0M956.6 233.8h0M824.1 210.3h0M847.6 221.9h0M957.3 190.2h0M842.2 214.7h0M985.7 251h0M844.5 225.8h0M893.4 238.3h0M908.4 223.8h0M915.8 243.4h0M953.5 251.7h0M833.3 217.1h0M894.4 235h0M892.4 234.8h0M889.9 242.1h0M856.5 227h0M873.1 232.5h0M872 220.4h0M909.7 200h0M862.9 220.1h0M883.8 226.3h0M839.2 221.5h0M904.2 237.9h0M823.1 213.4h0M903.6 235.3h0M1006.5 236h0M839.5 218.4h0M908.4 209.1h0M835.3 219.4h0M948.4 257.1h0M892 218.2h0M916.8 194.4h0M947 183.9h0M813.6 203h0M920 212.8h0M860.7 220.2h0M840.5 220.4h0M986.8 184.8h0M887.3 237.8h0M897.5 225.6h0M927 218.3h0M843.5 229.8h0M885.9 226.6h0M917.9 189.8h0M938.8 226.8h0M895.5 225.1h0M844.4 217h0M832.9 221.9h0M986.7 205.2h0M840.2 226.8h0M956.5 228.5h0M899.5 204.6h0M947.4 246.8h0M903.2 225.1h0M831.9 219.4h0M858.4 235.4h0M851.7 226.4h0M948.4 193.1h0M854.3 231.5h0M901.6 223.2h0M873.6 225.4h0M833.3 218.8h0M831.2 214.5h0M907.4 245.1h0M837 225.4h0M874.8 219.9h0M841.4 226.3h0M855.6 237.6h0M845.5 228.5h0M950.5 179.8h0M878.1 235.9h0M903.2 243.9h0M841.5 216.6h0M945.4 220.2h0"/>
<path d="M845.6 228.7h0M862.9 229.4h0M863.9 235.6h0M844.5 231.6h0M883.2 231.2h0M843.5 224h0M856.3 224.9h0M833.4 221.2h0M878.1 226.1h0M947 209.7h0M917.9 105.5h0M848.5 231.9h0M835.1 221.2h0M945.4 194.3h0M836.4 222.5h0M921.9 238.9h0M1007.5 197.5h0M906.7 243.5h0M891.3 240.9h0M864.9 230.3h0M926 245.6h0M914.8 202.5h0M977.7 240.5h0M934.8 246.9h0M868 229.4h0M901.5 215.7h0M909.4 216.9h0M850.6 227.9h0M886.3 236.8h0M834.3 219h0M855.7 237.4h0M921.9 210.9h0M898.5 216h0M903.6 242.4h0M891 228.7h0M905.6 214h0M907.3 216.3h0M895 233.3h0M836.4 223.6h0M888.1 234.3h0M827.2 212.7h0M842.5 225h0M839.2 229.9h0M888.9 231.1h0M946.4 229.3h0M889.1 224.9h0M813.6 204.1h0M821.7 210.9h0M833.3 219.2h0M873 238.5h0M826.2 212.1h0M916.8 253.8h0M809 200h0M1004.4 231.6h0M869 234.7h0M860.9 218.6h0M947 194h0M892.4 245h0M869 230.1h0M904.6 223.6h0M877.1 233.3h0M986.7 254.7h0M830.2 219h0M847.3 219.6h0M911.8 211.1h0M948.4 185.2h0M906.6 229.4h0M861.8 236.4h0M856.3 230h0M863.9 220.2h0M846.4 229.3h0M835.1 218.6h0M919.9 206.9h0M826.2 214.2h0M908.3 242h0M916.6 227.4h0M924 170.1h0M876.8 232h0M827.2 216h0M836.1 217.5h0M810.5 201.4h0M884.8 225.4h0M896.5 240h0M899.5 234.3h0M838.1 222h0M894.4 239.2h0M873 229.8h0M826.2 215.2h0M842.4 221.3h0M929.8 213.9h0M911.5 223.2h0M922.9 219.6h0M988.7 189.8h0M852.3 232.9h0M973.8 205.8h0M830.3 219.2h0M847.6 213.9h0M888.1 216.7h0M854.3 230.3h0M862.4 222.5h0M895.5 232.7h0M883.3 240.9h0M852.3 220.5h0M872.1 229.5h0M948 217.7h0M815.6 206.5h0M830 215.7h0M965.8 213.1h0M897.5 239.6h0M833.3 223.5h0M860.7 230.3h0M825.2 212.1h0M832.9 218.5h0M896.5 225.9h0M850.6 235.9h0M874.8 234.6h0M878.1 239.4h0M922.9 205.6h0M914.8 227.4h0M924.9 226.5h0M851.6 226h0M834.1 215.2h0M815.6 206.9h0M833.3 214.8h0M813.6 202.4h0M932.2 248h0M883.8 222.8h0M856.5 233.9h0M925.7 240h0M895.5 211.1h0M911.5 205.1h0M967.5 224.7h0M863.9 229.8h0M895 228h0M913.5 246.6h0M834.1 221.6h0M984 197h0M851.4 217.5h0M899.5 223.6h0M913.8 215.4h0M834.1 217.2h0M904.6 231h0M851.6 233.2h0M860.9 219.3h0M879.9 239.5h0M955.5 195.7h0M903.6 232.3h0M884.8 242.8h0M847.5 228.5h0M839.2 221.3h0M852.3 220.9h0M925.7 242.5h0M905.2 245.5h0M911.3 215.4h0M849.5 223.9h0M872.6 226.4h0M842.5 221h0M923 235.5h0M861.6 223.1h0M883.8 232.2h0M835.4 222.1h0M818.6 208.2h0M849.6 219h0M968.8 250.8h0M984 199.3h0M837.1 220.3h0M853.7 231.4h0M906.6 239.1h0M859.4 226.1h0M849.4 226.4h0M873 222.1h0M886.3 224.2h0M996.8 177.9h0M868 235.3h0M985.7 189.9h0M923 216.5h0M888.9 225.7h0M1003.4 234.4h0M895.5 223.2h0M905.4 247.2h0M930.8 233.9h0M871 225h0M882.3 221.7h0M840.4 225.5h0M887.9 231.7h0M893.4 227h0M828.2 218.8h0M839.2 223.4h0"/>
</g>
<path clip-path="url(#cp2)" d="M805.2 222.9H1050.8" stroke="#000" stroke-width="2" stroke-dasharray="2.3 6.8 9.1 6.8" fill="none"/>
<g clip-path="url(#cp2)">
<path d="M806.4 197.2L809.1 199.4L811.8 201.7L814.5 204.1L817.2 206.4L819.9 208.8L822.6 211L825.3 213.1L828 214.9L830.7 216.5L833.4 217.9L836.1 219.3L838.8 220.6L841.5 221.9L844.2 223L846.9 224L849.6 224.8L852.3 225.5L855 226.1L857.7 226.6L860.4 227.1L863.1 227.6L865.8 228.1L868.5 228.5L871.2 228.8L873.9 228.9L876.6 229L879.3 229.1L882 228.9L884.7 228.5L887.4 228.1L890.1 227.7L892.8 227.2L895.5 226.5L898.2 225.7L900.9 225.1L903.6 224.5L906.3 223.9L909 223.2L911.7 222.6L914.4 222L917.1 221.5L919.8 221L922.5 220.5L925.2 220L927.9 219.5L930.6 219L933.3 218.5L936 218L938.7 217.6L941.4 217.1L944.1 216.6L946.8 216.2L949.5 215.8L952.2 215.5L954.9 215.3L957.6 215.1L960.3 214.9L963 214.7L965.7 214.5L968.4 214.4L971.1 214.3L973.8 214.2L976.5 214.2L979.2 214.2L981.9 214.2L984.6 214.3L987.3 214.2L990 214.3L992.7 214.5L995.4 214.7L998.1 215L1000.8 215.2L1003.5 215.5L1006.2 215.8L1008.9 216.1L1011.6 216.4L1014.3 216.8L1017 217.2L1019.7 217.7L1022.4 218L1025.1 218.4L1027.8 218.7L1030.5 219.1L1033.2 219.6L1035.9 220L1038.6 220.5L1041.3 220.8L1044 221.1L1046.7 221.4L1046.7 237.2L1044 236.1L1041.3 235L1038.6 233.9L1035.9 232.6L1033.2 231.3L1030.5 230.1L1027.8 228.9L1025.1 227.7L1022.4 226.5L1019.7 225.6L1017 224.8L1014.3 224.2L1011.6 223.5L1008.9 222.9L1006.2 222.3L1003.5 221.7L1000.8 221.2L998.1 220.7L995.4 220.2L992.7 219.7L990 219.2L987.3 218.9L984.6 218.7L981.9 218.5L979.2 218.4L976.5 218.3L973.8 218.2L971.1 218.1L968.4 218.1L965.7 218.2L963 218.2L960.3 218.3L957.6 218.4L954.9 218.5L952.2 218.6L949.5 218.8L946.8 219.1L944.1 219.4L941.4 219.8L938.7 220.2L936 220.5L933.3 220.9L930.6 221.2L927.9 221.6L925.2 222L922.5 222.5L919.8 223L917.1 223.5L914.4 224L911.7 224.7L909 225.3L906.3 225.9L903.6 226.6L900.9 227.2L898.2 227.8L895.5 228.6L892.8 229.3L890.1 229.8L887.4 230.3L884.7 230.7L882 231.1L879.3 231.2L876.6 231.2L873.9 231.1L871.2 231L868.5 230.7L865.8 230.3L863.1 229.8L860.4 229.4L857.7 228.9L855 228.3L852.3 227.7L849.6 227L846.9 226.3L844.2 225.3L841.5 224.1L838.8 222.9L836.1 221.6L833.4 220.3L830.7 218.8L828 217.2L825.3 215.4L822.6 213.4L819.9 211.1L817.2 208.8L814.5 206.5L811.8 204.1L809.1 201.8L806.4 199.6Z" fill="#999" fill-opacity="0.4" stroke="none"/>
<path d="M806.4 198.4L809.1 200.6L811.8 202.9L814.5 205.3L817.2 207.6L819.9 209.9L822.6 212.2L825.3 214.3L828 216L830.7 217.6L833.4 219.1L836.1 220.5L838.8 221.8L841.5 223L844.2 224.1L846.9 225.1L849.6 225.9L852.3 226.6L855 227.2L857.7 227.8L860.4 228.2L863.1 228.7L865.8 229.2L868.5 229.6L871.2 229.9L873.9 230L876.6 230.1L879.3 230.1L882 230L884.7 229.6L887.4 229.2L890.1 228.8L892.8 228.3L895.5 227.6L898.2 226.7L900.9 226.1L903.6 225.5L906.3 224.9L909 224.3L911.7 223.6L914.4 223L917.1 222.5L919.8 222L922.5 221.5L925.2 221L927.9 220.5L930.6 220.1L933.3 219.7L936 219.3L938.7 218.9L941.4 218.5L944.1 218L946.8 217.7L949.5 217.3L952.2 217.1L954.9 216.9L957.6 216.7L960.3 216.6L963 216.4L965.7 216.3L968.4 216.3L971.1 216.2L973.8 216.2L976.5 216.2L979.2 216.3L981.9 216.4L984.6 216.5L987.3 216.6L990 216.8L992.7 217.1L995.4 217.4L998.1 217.8L1000.8 218.2L1003.5 218.6L1006.2 219L1008.9 219.5L1011.6 220L1014.3 220.5L1017 221L1019.7 221.6L1022.4 222.3L1025.1 223L1027.8 223.8L1030.5 224.6L1033.2 225.4L1035.9 226.3L1038.6 227.2L1041.3 227.9L1044 228.6L1046.7 229.3" fill="none" stroke="#3366ff" stroke-width="2.3" stroke-dasharray="2.3 6.9 9.2 6.9"/>
</g>
<text x="794.1" y="88.2" font-size="18.7" fill="#000">Residuals vs Fitted</text>
<path d="M827.6 290.3v3.4M888 290.3v3.4M948.3 290.3v3.4M1008.7 290.3v3.4M794.1 278.2h-3.6M794.1 222.9h-3.6M794.1 167.6h-3.6M794.1 112.4h-3.6" stroke="#333" stroke-width="1.3" fill="none"/>
<g font-size="12" fill="#4d4d4d"><text x="827.6" y="306.8" text-anchor="middle">0</text><text x="888" y="306.8" text-anchor="middle">5000</text><text x="948.3" y="306.8" text-anchor="middle">10000</text><text x="1008.7" y="306.8" text-anchor="middle">15000</text><text x="786.1" y="283.2" text-anchor="end">-5000</text><text x="786.1" y="227.9" text-anchor="end">0</text><text x="786.1" y="172.6" text-anchor="end">5000</text><text x="786.1" y="117.4" text-anchor="end">10000</text></g>
<text x="928.7" y="325.5" font-size="15.5" fill="#000" text-anchor="middle">Fitted values</text>
<text transform="translate(743.9 193.9) rotate(-90)" font-size="15.5" fill="#000" text-anchor="middle">Residuals</text>
<clipPath id="cp3"><rect x="447.1" y="364.4" width="269.7" height="192.4"/></clipPath>
<rect x="447.1" y="364.4" width="269.7" height="192.4" fill="#ebebeb"/>
<path d="M499.8 364.4V556.8M581.6 364.4V556.8M663.4 364.4V556.8M447.1 517.5H716.8M447.1 462.3H716.8M447.1 407H716.8" stroke="#fff" stroke-width="0.7" fill="none" opacity="0.85"/>
<path d="M458.9 364.4V556.8M540.7 364.4V556.8M622.5 364.4V556.8M704.3 364.4V556.8M447.1 545.2H716.8M447.1 489.9H716.8M447.1 434.6H716.8M447.1 379.4H716.8" stroke="#fff" stroke-width="1.4" fill="none"/>
<path clip-path="url(#cp3)" d="M459 497.1L459.1 491.6L459.1 491.1L459.2 490.6L459.3 496.3L459.4 506L459.5 490.2L459.6 489.7L459.6 501.8L459.7 480.5L459.8 477.7L459.9 477.4L460 484.8L460 488.2L460.1 498.2L460.2 490.4L460.3 492.9L460.4 482.6L460.5 483.5L460.5 503.3L460.6 493.1L460.7 479.6L460.8 481.7L460.9 490.6L460.9 450L461 497.4L461.1 501L461.2 528.8L461.3 484.2L461.4 500.5L461.4 492.9L461.5 526.3L461.6 501.7L461.7 496.7L461.8 478.6L461.8 493.3L461.9 488.6L462 480.9L462.1 493.9L462.2 488.3L462.3 494L462.3 504.7L462.4 504.1L462.5 495L462.6 486.4L462.7 475.2L462.7 488L462.8 495.9L462.9 493.6L463 492.8L463.1 487.5L463.2 490.8L463.2 477L463.3 505.3L463.4 477.3L463.5 504L463.6 493.5L463.6 484.7L463.7 485L463.8 511.6L463.9 477.1L464 520L464.1 494.1L464.1 508.1L464.2 495L464.3 498.7L464.4 483.7L464.5 426.3L464.5 502.9L464.6 486L464.7 505.2L464.8 480.5L464.9 493.2L465 497.8L465 498.3L465.1 482.3L465.2 500.7L465.3 512.9L465.4 491.6L465.4 503.9L465.5 497.8L465.6 494.7L465.7 494.5L465.8 486.5L465.9 448.6L465.9 492.9L466 474.8L466.1 494.6L466.2 491.9L466.3 495.5L466.3 479.5L466.4 487.5L466.5 508.1L466.6 500.3L466.7 443.1L466.8 495.3L466.8 489.8L466.9 499.4L467 486.7L467.1 460.6L467.2 430.2L467.2 503.8L467.3 495.1L467.4 485.9L467.5 501.2L467.6 504L467.7 482L467.7 501.7L467.8 494.9L467.9 479.6L468 493.5L468.1 468.1L468.1 485.6L468.2 483.7L468.3 486.6L468.4 484L468.5 501.9L468.6 489.7L468.6 492.1L468.7 492.4L468.8 497.9L468.9 491.3L469 466.9L469 502.7L469.1 534.5L469.2 494.5L469.3 486.7L469.4 492.4L469.5 504.6L469.5 495.9L469.6 498.5L469.7 491.6L469.8 486.4L469.9 494L469.9 475.6L470 488.6L470.1 490.9L470.2 498.6L470.3 498.2L470.4 492.4L470.4 451.7L470.5 496.5L470.6 486.2L470.7 507.9L470.8 487.7L470.8 484.9L470.9 490L471 492L471.1 490.4L471.2 436.4L471.3 472.9L471.3 486.8L471.4 482.5L471.5 469.3L471.6 493.9L471.7 488.3L471.7 460.2L471.8 488.1L471.9 485L472 496.1L472.1 515.2L472.2 504.9L472.2 494.6L472.3 478.4L472.4 505.1L472.5 485.3L472.6 477.3L472.6 475.2L472.7 493.2L472.8 485.5L472.9 482.5L473 474L473.1 493.2L473.1 486.8L473.2 488.6L473.3 492.7L473.4 489.3L473.5 477.1L473.5 461.6L473.6 497.9L473.7 493.8L473.8 485.3L473.9 478.3L474 492L474 468.1L474.1 497.9L474.2 485L474.3 497.7L474.4 492.9L474.4 513.4L474.5 491.4L474.6 481L474.7 487.3L474.8 494.9L474.9 481.5L474.9 490.6L475 492.5L475.1 492L475.2 486.2L475.3 470.2L475.3 528.2L475.4 479L475.5 492.3L475.6 496.7L475.7 487.6L475.8 507.9L475.8 497.6L475.9 491.1L476 483.8L476.1 482.6L476.2 504.9L476.2 481.1L476.3 495L476.4 471.1L476.5 482.5L476.6 482.2L476.7 462.9L476.7 471L476.8 486.4L476.9 487.2L477 498.4L477.1 464.6L477.1 481.5L477.2 475.7L477.3 480.4L477.4 494.8L477.5 521.3L477.6 502.1L477.6 489.9L477.7 434.3L477.8 490.9L477.9 527.3L478 483.5L478 497L478.1 442.4L478.2 474L478.3 480.7L478.4 486.7L478.5 494L478.5 492L478.6 467.2L478.7 500.7L478.8 496.1L478.9 490.7L478.9 467.2L479 480.1L479.1 493.9L479.2 492.8L479.3 492.9L479.3 476.9L479.4 491.6L479.5 513.2L479.6 467.9L479.7 491L479.8 491.2L479.8 456L479.9 490.8L480 486.9L480.1 496.1L480.2 486.9L480.2 501.9L480.3 484L480.4 493.2L480.5 494.6L480.6 494.5L480.7 494.7L480.7 507L480.8 493.9L480.9 485.3L481 480.9L481.1 499.9L481.1 492.8L481.2 514.2L481.3 510.5L481.4 491.9L481.5 489.4L481.6 476.5L481.6 490.6L481.7 442.9L481.8 491.4L481.9 484.3L482 514.4L482 498.3L482.1 473.6L482.2 489.3L482.3 481.3L482.4 486.8L482.5 496.8L482.5 488.7L482.6 513L482.7 497.8L482.8 469.8L482.9 495.1L482.9 493.9L483 490.8L483.1 494.5L483.2 491.8L483.3 494L483.4 505.4L483.4 480.3L483.5 495.7L483.6 480.5L483.7 493.4L483.8 492.9L483.8 498.4L483.9 495.7L484 486.8L484.1 488L484.2 489.3L484.3 490.5L484.3 500.8L484.4 496.5L484.5 478.1L484.6 500.5L484.7 515.5L484.7 474.1L484.8 506L484.9 479.8L485 499L485.1 469.9L485.2 478.8L485.2 481.4L485.3 502.9L485.4 485.4L485.5 449.3L485.6 469.4L485.6 498.2L485.7 489.1L485.8 488.9L485.9 490.3L486 481.5L486.1 531.3L486.1 480.8L486.2 495.6L486.3 488L486.4 508.6L486.5 495.8L486.5 493L486.6 482.3L486.7 507.3L486.8 492L486.9 466.2L487 505.6L487 476.6L487.1 494.7L487.2 493.9L487.3 508.2L487.4 484.2L487.4 500.8L487.5 491.9L487.6 493.4L487.7 445.7L487.8 499L487.9 492.1L487.9 510.6L488 468.9L488.1 492.4L488.2 492.1L488.3 493.9L488.3 489.8L488.4 487.2L488.5 502.9L488.6 488.8L488.7 496.8L488.8 494.8L488.8 504.4L488.9 494.7L489 477.2L489.1 501.3L489.2 497.8L489.2 494.1L489.3 497.8L489.4 480.1L489.5 496.6L489.6 493.6L489.7 493.9L489.7 471.2L489.8 475.9L489.9 503.4L490 490.7L490.1 490.4L490.1 477L490.2 491.8L490.3 494.6L490.4 476.8L490.5 481.1L490.6 477.9L490.6 491.2L490.7 499.7L490.8 447.2L490.9 486.6L491 492.1L491 480L491.1 486.9L491.2 493.3L491.3 493.7L491.4 506.5L491.5 522.4L491.5 482.8L491.6 505.6L491.7 516.1L491.8 447.4L491.9 514.1L491.9 483.3L492 441.6L492.1 494.9L492.2 499.3L492.3 450.6L492.4 495.2L492.4 492.7L492.5 489.2L492.6 489.6L492.7 487.7L492.8 467.8L492.8 496.1L492.9 512.5L493 500.5L493.1 501.2L493.2 495.1L493.3 495.5L493.3 496.2L493.4 482.6L493.5 489.7L493.6 491.8L493.7 466.5L493.7 492.7L493.8 493.8L493.9 497.9L494 484.1L494.1 481.2L494.2 489.9L494.2 483.1L494.3 510.2L494.4 491.6L494.5 506.1L494.6 448.5L494.6 491.4L494.7 492.4L494.8 486.5L494.9 489.6L495 498.6L495.1 503L495.1 474.4L495.2 498.7L495.3 499.6L495.4 514.8L495.5 483.5L495.5 491.3L495.6 490.4L495.7 488.9L495.8 475.7L495.9 517.8L496 491.5L496 493.8L496.1 469.5L496.2 485.8L496.3 526.8L496.4 482.1L496.4 485.2L496.5 432.2L496.6 500.1L496.7 474.2L496.8 499.6L496.9 486.8L496.9 494.2L497 491.3L497.1 516L497.2 497L497.3 495.9L497.3 495.4L497.4 494L497.5 494.1L497.6 487.7L497.7 485.5L497.8 497.2L497.8 485L497.9 496.3L498 485.4L498.1 493.5L498.2 494.2L498.2 498.4L498.3 454.6L498.4 457.9L498.5 496.2L498.6 486.3L498.7 509.1L498.7 501.7L498.8 500.2L498.9 501.5L499 490.6L499.1 516.8L499.1 480.8L499.2 503.3L499.3 462.1L499.4 499.5L499.5 500.9L499.6 487.8L499.6 491.4L499.7 486.6L499.8 494.2L499.9 474.9L500 498.7L500 492.5L500.1 484.3L500.2 464.7L500.3 501.7L500.4 487.8L500.5 505.3L500.5 492.4L500.6 486.6L500.7 491.4L500.8 449L500.9 490.1L500.9 499.5L501 493L501.1 480.8L501.2 511L501.3 513.9L501.4 497.6L501.4 495.1L501.5 488.7L501.6 505.5L501.7 490.4L501.8 473.1L501.8 491.4L501.9 493L502 483L502.1 484.9L502.2 501.6L502.3 499.6L502.3 482.9L502.4 498.2L502.5 467.4L502.6 491L502.7 493.7L502.7 495L502.8 487.9L502.9 496.3L503 480.4L503.1 477.2L503.2 489.7L503.2 479.4L503.3 499.4L503.4 480.7L503.5 492.5L503.6 502.4L503.6 486.2L503.7 488.2L503.8 491.9L503.9 500.8L504 497.9L504.1 459.5L504.1 484.6L504.2 502.5L504.3 488.5L504.4 498.9L504.5 481L504.5 490.5L504.6 492.6L504.7 489L504.8 498.9L504.9 492.3L505 483.6L505 500.1L505.1 487.9L505.2 495.6L505.3 498.3L505.4 492.2L505.4 493.3L505.5 486.1L505.6 505L505.7 487.1L505.8 484.5L505.9 481.8L505.9 484.5L506 487.3L506.1 488.5L506.2 497.7L506.3 498L506.3 487.8L506.4 500.8L506.5 484.5L506.6 494.5L506.7 490.8L506.8 491.5L506.8 479.6L506.9 492.3L507 482.5L507.1 498.1L507.2 501.6L507.2 491.1L507.3 489.9L507.4 490.5L507.5 478.4L507.6 479.5L507.7 499.2L507.7 494.6L507.8 483.4L507.9 478.5L508 490.9L508.1 501.2L508.1 504.3L508.2 486.6L508.3 483.3L508.4 494.8L508.5 489.4L508.6 539.6L508.6 483.2L508.7 476.5L508.8 495.5L508.9 488.2L509 487.2L509 499.8L509.1 491.1L509.2 499.5L509.3 475.9L509.4 485.2L509.5 494.1L509.5 511.9L509.6 489.8L509.7 504.1L509.8 492.5L509.9 527.6L509.9 504.8L510 493.1L510.1 487L510.2 497L510.3 471.3L510.4 469.7L510.4 508.6L510.5 507.6L510.6 493.5L510.7 503L510.8 494.9L510.8 508.5L510.9 499L511 492.3L511.1 474.3L511.2 501.1L511.3 477.6L511.3 490.3L511.4 497.6L511.5 492.5L511.6 488.3L511.7 456.6L511.7 514.3L511.8 500.1L511.9 491.7L512 496.6L512.1 501.3L512.2 491.8L512.2 485.5L512.3 499.5L512.4 445.9L512.5 481.7L512.6 494.5L512.6 492.7L512.7 489.7L512.8 475.4L512.9 498.9L513 439.4L513.1 483.4L513.1 483.8L513.2 493L513.3 483.7L513.4 482L513.5 469.9L513.5 481.1L513.6 477.5L513.7 480.5L513.8 482.9L513.9 484.5L514 437.4L514 499L514.1 497.8L514.2 484.3L514.3 506L514.4 495.4L514.4 504.2L514.5 487.3L514.6 476.1L514.7 503.6L514.8 492L514.9 502.7L514.9 494.4L515 503.9L515.1 491.1L515.2 479.7L515.3 496.6L515.3 502.8L515.4 492.9L515.5 481.8L515.6 508.9L515.7 485.3L515.8 494.7L515.8 480.9L515.9 490.9L516 489.7L516.1 490.1L516.2 487.4L516.2 483.2L516.3 477.7L516.4 493.8L516.5 489.5L516.6 498.4L516.7 486L516.7 488.8L516.8 504.6L516.9 469.1L517 513.3L517.1 489.7L517.1 477.9L517.2 487.4L517.3 493.5L517.4 481.8L517.5 489.4L517.6 497.4L517.6 491.6L517.7 492.7L517.8 483.3L517.9 420.8L518 500.7L518 482.8L518.1 491.2L518.2 519.2L518.3 494L518.4 492L518.5 496.1L518.5 510.3L518.6 485.6L518.7 499.1L518.8 485.5L518.9 484.3L518.9 491.9L519 492.3L519.1 463.5L519.2 488.1L519.3 478.9L519.4 496.1L519.4 494.4L519.5 471.3L519.6 505.7L519.7 507.7L519.8 483.1L519.8 504.1L519.9 483.9L520 492.7L520.1 454.9L520.2 481.1L520.2 479L520.3 512.3L520.4 502.7L520.5 494.2L520.6 485.4L520.7 494.3L520.7 483.9L520.8 491.2L520.9 496.3L521 491.1L521.1 469L521.1 495.9L521.2 485.6L521.3 479.9L521.4 484.7L521.5 498.5L521.6 490.2L521.6 490.8L521.7 481.2L521.8 493.5L521.9 500.4L522 492.4L522 498.2L522.1 489L522.2 484.6L522.3 495.4L522.4 473.8L522.5 493.9L522.5 449.8L522.6 476.7L522.7 476.2L522.8 490.5L522.9 491.4L522.9 519.6L523 482.6L523.1 463.3L523.2 508.8L523.3 495.6L523.4 482.8L523.4 513.8L523.5 504.6L523.6 493.8L523.7 497.3L523.8 488.2L523.8 492.5L523.9 487.1L524 456.3L524.1 488.8L524.2 489.3L524.3 485.8L524.3 492.3L524.4 510L524.5 511.1L524.6 498.5L524.7 490.9L524.7 491.5L524.8 489.2L524.9 485.7L525 482.2L525.1 482.7L525.2 491.5L525.2 493.9L525.3 496.6L525.4 487.7L525.5 482.1L525.6 491L525.6 496.7L525.7 484.3L525.8 503L525.9 486.4L526 486.1L526.1 482.4L526.1 487.5L526.2 503.4L526.3 495L526.4 493.4L526.5 478.8L526.5 486.9L526.6 484.5L526.7 483.8L526.8 495.8L526.9 486.7L527 493.6L527 498.1L527.1 482.3L527.2 499.2L527.3 489L527.4 498.6L527.4 474.6L527.5 482.1L527.6 493.2L527.7 491.7L527.8 482.2L527.9 458.5L527.9 509.2L528 483.6L528.1 491.3L528.2 471.5L528.3 503.6L528.3 495.8L528.4 485.3L528.5 477.1L528.6 487L528.7 495.8L528.8 494.2L528.8 500.8L528.9 488.5L529 468.5L529.1 505.5L529.2 445.1L529.2 494.4L529.3 493.2L529.4 493.8L529.5 509.9L529.6 502.3L529.7 495.9L529.7 483.9L529.8 482.3L529.9 495.8L530 501.6L530.1 492.2L530.1 488.4L530.2 483.1L530.3 490.1L530.4 482.4L530.5 470.2L530.6 493.7L530.6 493.8L530.7 492.6L530.8 520.8L530.9 487.9L531 493.7L531 498L531.1 484L531.2 495.2L531.3 497.3L531.4 480.9L531.5 481.7L531.5 502.5L531.6 495.3L531.7 493.4L531.8 485.8L531.9 488L531.9 498.1L532 496.6L532.1 490.2L532.2 465.5L532.3 497.5L532.4 455.3L532.4 497.8L532.5 499.5L532.6 490.3L532.7 489L532.8 488.3L532.8 496L532.9 485.1L533 495.5L533.1 487.6L533.2 489.5L533.3 485.7L533.3 490.8L533.4 492.2L533.5 497.9L533.6 478.5L533.7 470.1L533.7 467.1L533.8 473.5L533.9 498.6L534 480.6L534.1 495.1L534.2 484.2L534.2 505.4L534.3 489L534.4 487.2L534.5 488.7L534.6 486.8L534.6 476L534.7 491.8L534.8 547.5L534.9 496.5L535 449.2L535.1 497.2L535.1 497.6L535.2 493.2L535.3 489.7L535.4 489L535.5 488.4L535.5 492.1L535.6 478.2L535.7 487.8L535.8 490.9L535.9 480.4L536 474.1L536 495.8L536.1 489.6L536.2 496.3L536.3 495.1L536.4 484.8L536.4 483L536.5 477.3L536.6 490.1L536.7 481.1L536.8 433.2L536.9 482.5L536.9 496.1L537 490.7L537.1 491.7L537.2 486.3L537.3 479.1L537.3 488.5L537.4 476.4L537.5 497.7L537.6 497.7L537.7 483.6L537.8 478.7L537.8 488.6L537.9 490.9L538 491.8L538.1 500.5L538.2 494.8L538.2 470.8L538.3 486.5L538.4 501.9L538.5 484.6L538.6 497.2L538.7 493.2L538.7 479.8L538.8 501.2L538.9 489.4L539 466.3L539.1 502.5L539.1 499.5L539.2 476.4L539.3 462L539.4 473L539.5 493.2L539.6 445.5L539.6 446.2L539.7 500.2L539.8 507.5L539.9 466L540 501.4L540 482.8L540.1 489L540.2 509.5L540.3 498.7L540.4 484.2L540.5 492.1L540.5 493.8L540.6 491.7L540.7 480.8L540.8 501.9L540.9 489.6L540.9 500.6L541 497L541.1 491.5L541.2 503.4L541.3 530.2L541.4 494.4L541.4 477.8L541.5 494.5L541.6 501.8L541.7 495.7L541.8 490.6L541.8 499.2L541.9 476.9L542 490.5L542.1 494.8L542.2 514.6L542.3 487.8L542.3 496.9L542.4 486.6L542.5 500.6L542.6 498.2L542.7 470.6L542.7 485L542.8 470.9L542.9 508.8L543 493.2L543.1 505.3L543.2 497.3L543.2 474.5L543.3 485.6L543.4 496L543.5 480.4L543.6 496.4L543.6 482.9L543.7 498.1L543.8 489.1L543.9 493L544 490.1L544.1 495.5L544.1 483.2L544.2 493.2L544.3 493.6L544.4 497L544.5 492.8L544.5 480.1L544.6 490.7L544.7 493.4L544.8 487.3L544.9 503.9L545 492.6L545 490.5L545.1 467.5L545.2 483L545.3 492.1L545.4 499.9L545.4 496.2L545.5 482.2L545.6 472.2L545.7 497.4L545.8 485.7L545.9 494.7L545.9 481.7L546 501.3L546.1 481.9L546.2 496.5L546.3 482.9L546.3 498L546.4 491.1L546.5 480.2L546.6 496.2L546.7 493.7L546.8 485.6L546.8 500.7L546.9 492L547 465.1L547.1 495.4L547.2 485.8L547.2 503.7L547.3 481.8L547.4 496.6L547.5 479.5L547.6 506.6L547.7 460.8L547.7 499.3L547.8 483.1L547.9 490.4L548 497.5L548.1 493.1L548.1 505.8L548.2 497.1L548.3 493.2L548.4 494.4L548.5 501.8L548.6 496.5L548.6 488L548.7 483.8L548.8 492.1L548.9 491.3L549 464.2L549 500.9L549.1 497.2L549.2 479.8L549.3 491.2L549.4 484.8L549.5 509.3L549.5 490.1L549.6 496.8L549.7 484.2L549.8 491.2L549.9 500.9L549.9 494.1L550 486.3L550.1 502.3L550.2 493.6L550.3 497.1L550.4 478.9L550.4 480.6L550.5 459L550.6 493.1L550.7 495.9L550.8 486.3L550.8 488.8L550.9 491.2L551 492.6L551.1 484.6L551.2 485.8L551.3 496.9L551.3 471.9L551.4 489.3L551.5 473.4L551.6 471.9L551.7 492.3L551.7 483.8L551.8 488.4L551.9 485.6L552 493.4L552.1 498.2L552.2 495.2L552.2 489L552.3 479.7L552.4 478.1L552.5 497.1L552.6 499.2L552.6 483.9L552.7 486.1L552.8 497.2L552.9 496.8L553 486L553.1 477.4L553.1 491.3L553.2 471.5L553.3 487.2L553.4 490.5L553.5 497.5L553.5 495.2L553.6 490.7L553.7 500L553.8 489.3L553.9 490.7L554 491L554 502.6L554.1 479.7L554.2 482.5L554.3 491.8L554.4 491.3L554.4 483.6L554.5 475.5L554.6 499.6L554.7 497.5L554.8 477.9L554.9 494.3L554.9 486.8L555 482.1L555.1 498.7L555.2 482.9L555.3 486.4L555.3 489.9L555.4 477.8L555.5 515.1L555.6 492.4L555.7 486.4L555.8 498.8L555.8 497.2L555.9 491.3L556 497.7L556.1 498.5L556.2 481.9L556.2 429.1L556.3 491.6L556.4 463.9L556.5 500L556.6 479.9L556.7 486.9L556.7 504.1L556.8 506.4L556.9 495.9L557 489L557.1 469.5L557.1 492.8L557.2 484.5L557.3 438.9L557.4 502.6L557.5 473.3L557.6 490.8L557.6 489.6L557.7 490.1L557.8 499.3L557.9 495.4L558 490.2L558 488.9L558.1 488.1L558.2 486L558.3 494.8L558.4 462.6L558.5 502.9L558.5 494.8L558.6 486.3L558.7 485.2L558.8 496.4L558.9 496.1L558.9 490.3L559 489.1L559.1 492.7L559.2 494L559.3 479.6L559.4 496.6L559.4 497.5L559.5 493L559.6 493.3L559.7 494.7L559.8 477.3L559.8 491.9L559.9 492.7L560 485.7L560.1 484.3L560.2 499.1L560.3 491.1L560.3 496L560.4 501.8L560.5 492.9L560.6 496.9L560.7 479.3L560.7 452.6L560.8 485.5L560.9 480.7L561 488.7L561.1 500.3L561.1 497.7L561.2 485.7L561.3 474.7L561.4 480.3L561.5 490.8L561.6 502.2L561.6 492L561.7 498.3L561.8 494.4L561.9 483.7L562 489.4L562 495L562.1 497.9L562.2 520.4L562.3 490.8L562.4 476.8L562.5 495.9L562.5 478.7L562.6 497.1L562.7 474.9L562.8 503.2L562.9 489.1L562.9 489L563 489.4L563.1 484.3L563.2 499.9L563.3 492.8L563.4 497.4L563.4 488.7L563.5 499.4L563.6 496.4L563.7 500.5L563.8 506.3L563.8 510.9L563.9 478.2L564 493.6L564.1 491.1L564.2 493.6L564.3 492.1L564.3 480.1L564.4 495.5L564.5 489.9L564.6 498.4L564.7 483L564.7 495L564.8 490.6L564.9 485.2L565 484.9L565.1 480.6L565.2 492.6L565.2 504.7L565.3 481.9L565.4 505.7L565.5 514.7L565.6 517L565.6 493.1L565.7 495L565.8 497.3L565.9 488.7L566 492.4L566.1 492.6L566.1 500.2L566.2 480.7L566.3 475.1L566.4 500.4L566.5 495.7L566.5 487.9L566.6 468.8L566.7 474.7L566.8 503L566.9 476.8L567 496.2L567 491.4L567.1 450.1L567.2 498.6L567.3 499.2L567.4 501.1L567.4 490.7L567.5 492.6L567.6 491.4L567.7 482.6L567.8 503.3L567.9 494.9L567.9 494.7L568 496.9L568.1 501.4L568.2 483.9L568.3 488.9L568.3 485.9L568.4 496.8L568.5 487.7L568.6 450.8L568.7 492.3L568.8 494.7L568.8 497.3L568.9 506.3L569 484.9L569.1 490.9L569.2 483.2L569.2 465L569.3 487.7L569.4 503.2L569.5 512.6L569.6 479.4L569.7 501.6L569.7 504.7L569.8 496.1L569.9 476.6L570 505.2L570.1 482.4L570.1 489.4L570.2 486.7L570.3 499.3L570.4 489.8L570.5 479.3L570.6 507.8L570.6 492.5L570.7 494.6L570.8 497.5L570.9 523.7L571 489.9L571 500.1L571.1 491.2L571.2 494.9L571.3 443.9L571.4 491.1L571.5 493.6L571.5 461.5L571.6 483.5L571.7 488.5L571.8 512L571.9 494.3L571.9 496.3L572 494.6L572.1 484.7L572.2 484.6L572.3 492.3L572.4 487.1L572.4 475.7L572.5 498.8L572.6 482.9L572.7 489.1L572.8 485.2L572.8 490.5L572.9 494.2L573 469.2L573.1 493.1L573.2 496.8L573.3 494.2L573.3 501.5L573.4 491.3L573.5 486.2L573.6 496.9L573.7 475.3L573.7 475.5L573.8 497.3L573.9 490.9L574 484.4L574.1 464.5L574.2 494.1L574.2 498L574.3 489.5L574.4 495.1L574.5 491.4L574.6 504.8L574.6 496.2L574.7 493.3L574.8 500.6L574.9 486.3L575 494L575.1 498.1L575.1 494.2L575.2 485.9L575.3 483.4L575.4 491L575.5 503L575.5 500.9L575.6 485L575.7 469.6L575.8 491.6L575.9 504.4L576 489.8L576 497.4L576.1 489.8L576.2 489.2L576.3 491.5L576.4 492.5L576.4 491.9L576.5 502.6L576.6 488.6L576.7 494.4L576.8 497.2L576.9 484.2L576.9 501.1L577 483L577.1 495.3L577.2 489.5L577.3 460.9L577.3 496.4L577.4 473.5L577.5 431.2L577.6 490.9L577.7 494.5L577.8 487.7L577.8 503.1L577.9 491.8L578 493.5L578.1 493.7L578.2 466.1L578.2 491.7L578.3 502.2L578.4 504.4L578.5 494L578.6 473.7L578.7 497.4L578.7 510.1L578.8 491.6L578.9 491.5L579 503.2L579.1 487.6L579.1 475.8L579.2 494.9L579.3 499.7L579.4 494.1L579.5 492.8L579.6 532.4L579.6 485.5L579.7 479.2L579.8 504.2L579.9 487.1L580 485L580 488.4L580.1 494.2L580.2 463.2L580.3 481.3L580.4 486.2L580.5 486.9L580.5 495.9L580.6 503.7L580.7 502L580.8 477.5L580.9 493.5L580.9 496L581 492.2L581.1 487.9L581.2 499.1L581.3 502.3L581.4 485.3L581.4 486.6L581.5 497.7L581.6 462.3L581.7 501L581.8 504.5L581.8 491.1L581.9 480.8L582 484.2L582.1 493.8L582.2 448.1L582.3 494.9L582.3 493.5L582.4 483.4L582.5 486.9L582.6 470.7L582.7 478.7L582.7 491.9L582.8 495.2L582.9 487.6L583 472.6L583.1 504.4L583.2 501.7L583.2 484.6L583.3 492.4L583.4 493.4L583.5 486.2L583.6 503.5L583.6 493.7L583.7 500L583.8 506.7L583.9 495.5L584 492.8L584.1 481.6L584.1 493.7L584.2 475.1L584.3 491.5L584.4 489.5L584.5 494.4L584.5 495.1L584.6 494L584.7 435.4L584.8 499.7L584.9 496.1L585 490L585 479L585.1 491.9L585.2 494.4L585.3 501L585.4 492.2L585.4 505.5L585.5 488.7L585.6 490.2L585.7 498.5L585.8 468.2L585.9 483.7L585.9 495.7L586 500L586.1 492.5L586.2 489.4L586.3 464.1L586.3 489.2L586.4 471.7L586.5 501.3L586.6 508.4L586.7 496.7L586.8 483.5L586.8 473.2L586.9 481.3L587 454.2L587.1 502.4L587.2 475.8L587.2 495.9L587.3 495.4L587.4 487.3L587.5 485.9L587.6 495.3L587.7 492.3L587.7 515.4L587.8 488.9L587.9 455.6L588 440.3L588.1 479.1L588.1 495.6L588.2 482.9L588.3 488L588.4 503.8L588.5 495.4L588.6 494.8L588.6 490.7L588.7 496.3L588.8 493L588.9 484.8L589 500.1L589 479.8L589.1 481.3L589.2 499.7L589.3 491.1L589.4 475.2L589.5 489.9L589.5 505.1L589.6 477.5L589.7 492.2L589.8 488L589.9 497.1L589.9 494.5L590 490.8L590.1 481.5L590.2 503.5L590.3 484L590.4 502.8L590.4 465.2L590.5 484.6L590.6 491.3L590.7 483.4L590.8 492.6L590.8 465.8L590.9 499.2L591 494.1L591.1 499.3L591.2 484.8L591.3 495.4L591.3 493.9L591.4 494.6L591.5 492.6L591.6 497.6L591.7 500.4L591.7 486.4L591.8 496.5L591.9 457.3L592 500.3L592.1 482.6L592.2 484.4L592.2 480L592.3 494.1L592.4 494.3L592.5 495.7L592.6 501.5L592.6 442.1L592.7 488.2L592.8 503.1L592.9 494.3L593 495.5L593.1 494.3L593.1 441.9L593.2 479L593.3 505.9L593.4 513.5L593.5 478.9L593.5 475L593.6 494.1L593.7 446.6L593.8 492.7L593.9 479.7L594 485L594 483.8L594.1 489.2L594.2 487.6L594.3 473.2L594.4 497.1L594.4 501.2L594.5 524.3L594.6 484.6L594.7 486.5L594.8 496.5L594.9 495.3L594.9 479.7L595 496.5L595.1 490L595.2 483.4L595.3 485.1L595.3 486.9L595.4 500L595.5 482.7L595.6 496.6L595.7 484.1L595.8 487.6L595.8 481.6L595.9 493.1L596 493.6L596.1 490.7L596.2 495.5L596.2 492.5L596.3 473.8L596.4 490.7L596.5 528.5L596.6 490L596.7 502.8L596.7 488.4L596.8 472L596.9 471.8L597 489.1L597.1 500.9L597.1 463.6L597.2 496.8L597.3 498L597.4 502L597.5 505L597.6 481.4L597.6 492.4L597.7 495L597.8 481.3L597.9 494.7L598 481.4L598 503.9L598.1 484.1L598.2 491.2L598.3 490.1L598.4 502.2L598.5 482.2L598.5 490.3L598.6 485L598.7 487.9L598.8 482.3L598.9 492.6L598.9 494.8L599 497.3L599.1 497.5L599.2 499.4L599.3 499.6L599.4 486.5L599.4 481L599.5 485.9L599.6 484.4L599.7 473.7L599.8 499.3L599.8 491L599.9 502L600 493.4L600.1 487.3L600.2 493L600.3 499.7L600.3 490.5L600.4 499L600.5 488.6L600.6 441.3L600.7 487.3L600.7 488.6L600.8 507.4L600.9 491.2L601 489.4L601.1 499.8L601.2 502.1L601.2 491L601.3 485.5L601.4 490L601.5 507.1L601.6 495.3L601.6 506.1L601.7 499.8L601.8 470.4L601.9 500.5L602 494.5L602 480.2L602.1 483.4L602.2 501L602.3 447.9L602.4 496.5L602.5 500.5L602.5 484.5L602.6 490.1L602.7 491.6L602.8 490L602.9 457.6L602.9 485.7L603 480.2L603.1 479.8L603.2 479.3L603.3 493.3L603.4 499.1L603.4 499.3L603.5 495.4L603.6 518.5L603.7 490.1L603.8 488.8L603.8 481.1L603.9 505.1L604 500.3L604.1 482L604.2 490.3L604.3 484.7L604.3 504.3L604.4 493.8L604.5 518.1L604.6 488.1L604.7 482.3L604.7 489.5L604.8 472.7L604.9 492.8L605 486.7L605.1 494.3L605.2 487L605.2 501.8L605.3 480.2L605.4 488.7L605.5 495.8L605.6 478.3L605.6 501.3L605.7 485.4L605.8 478.5L605.9 497.7L606 483.3L606.1 505.8L606.1 498.5L606.2 481.6L606.3 492.8L606.4 483.9L606.5 501.4L606.5 482.7L606.6 482.7L606.7 451.2L606.8 478.9L606.9 495.3L607 481.4L607 476.8L607.1 468.6L607.2 495.2L607.3 478.9L607.4 494.2L607.4 491.6L607.5 495.6L607.6 487L607.7 494.9L607.8 490.3L607.9 484.1L607.9 496.9L608 440.7L608.1 497.4L608.2 484.7L608.3 521.8L608.3 489.9L608.4 472.5L608.5 503.2L608.6 480L608.7 503.1L608.8 497.1L608.8 479.3L608.9 488.6L609 482.9L609.1 494L609.2 494.5L609.2 480.9L609.3 451L609.4 484.1L609.5 494.2L609.6 492L609.7 488.8L609.7 489.5L609.8 493.4L609.9 490.4L610 509L610.1 496.2L610.1 490.7L610.2 485.8L610.3 499.9L610.4 476.1L610.5 476.3L610.6 486.3L610.6 483L610.7 477.1L610.8 489.2L610.9 498.8L611 489.1L611 482.2L611.1 495.2L611.2 506.9L611.3 505.9L611.4 499L611.5 476.5L611.5 479.5L611.6 487.8L611.7 500.7L611.8 483.2L611.9 494.8L611.9 497.1L612 492.1L612.1 484.8L612.2 493L612.3 492.2L612.4 476.9L612.4 484.4L612.5 514.9L612.6 499.6L612.7 482.8L612.8 489.7L612.8 496L612.9 489.5L613 508.3L613.1 499.1L613.2 483.8L613.3 478.6L613.3 492.8L613.4 490.2L613.5 476.6L613.6 499.4L613.7 485.8L613.7 496.7L613.8 493L613.9 489.8L614 485.1L614.1 491L614.2 489.6L614.2 476.3L614.3 486L614.4 493.7L614.5 406.7L614.6 482L614.6 484.5L614.7 488.9L614.8 452.3L614.9 490.9L615 485.8L615.1 496L615.1 492.8L615.2 493.7L615.3 496L615.4 484.8L615.5 472.1L615.5 487.8L615.6 490.4L615.7 500.6L615.8 461.1L615.9 477.9L616 486.5L616 474.6L616.1 473.6L616.2 502.2L616.3 497.7L616.4 452L616.4 496.7L616.5 480.7L616.6 503.4L616.7 478.2L616.8 498.2L616.9 472.7L616.9 492.9L617 507.3L617.1 488.3L617.2 477.5L617.3 485.1L617.3 487.5L617.4 478.3L617.5 486.5L617.6 482.4L617.7 496.9L617.8 491.2L617.8 503.5L617.9 509.6L618 489.4L618.1 488.3L618.2 498.8L618.2 489.6L618.3 496.8L618.4 486.1L618.5 489.9L618.6 486.6L618.7 490L618.7 483.3L618.8 494.8L618.9 488.3L619 499.7L619.1 495.9L619.1 501.1L619.2 484.3L619.3 484.7L619.4 490.2L619.5 486.8L619.6 499.4L619.6 466.6L619.7 496.9L619.8 482.4L619.9 491.5L620 513.7L620 509.6L620.1 504.5L620.2 502.2L620.3 476.3L620.4 484.1L620.5 499.5L620.5 474.8L620.6 492.2L620.7 473.9L620.8 483.9L620.9 481.9L620.9 493.3L621 487.2L621.1 502.4L621.2 495L621.3 488.1L621.4 491.6L621.4 500.1L621.5 496.4L621.6 497.1L621.7 487.3L621.8 464.4L621.8 500.1L621.9 503.7L622 495.6L622.1 500.2L622.2 485.4L622.3 501.9L622.3 497.9L622.4 483.2L622.5 500.9L622.6 497.3L622.7 446.8L622.7 475.6L622.8 488.8L622.9 492.7L623 487.7L623.1 488L623.2 496.1L623.2 490.3L623.3 495.7L623.4 444.6L623.5 486.4L623.6 487.1L623.6 495.2L623.7 501.4L623.8 491L623.9 502.9L624 485.6L624.1 502.5L624.1 487.5L624.2 461.8L624.3 476.7L624.4 491.5L624.5 494.4L624.5 492.5L624.6 490L624.7 481.6L624.8 501.6L624.9 494.6L625 491.8L625 502.7L625.1 446.4L625.2 493.8L625.3 476L625.4 491.7L625.4 506.3L625.5 509.7L625.6 498.1L625.7 488.9L625.8 494.9L625.9 493.1L625.9 492L626 506.5L626.1 493.2L626.2 447.5L626.3 467.7L626.3 508.5L626.4 489.2L626.5 493.4L626.6 500.4L626.7 492.5L626.8 449.7L626.8 499.9L626.9 438.2L627 496.3L627.1 493.9L627.2 484L627.2 489L627.3 488.8L627.4 497L627.5 489.1L627.6 485.9L627.7 478L627.7 498.9L627.8 453.6L627.9 428.1L628 483.6L628.1 480.4L628.1 504.5L628.2 495.7L628.3 492.3L628.4 492.6L628.5 493.1L628.6 491.7L628.6 496.7L628.7 496L628.8 488.3L628.9 496.3L629 490.4L629 483.3L629.1 483L629.2 498.5L629.3 507L629.4 472.8L629.5 460.4L629.5 490.6L629.6 493.3L629.7 498.7L629.8 506.6L629.9 486.1L629.9 501.3L630 474.3L630.1 489.5L630.2 482.1L630.3 504.7L630.4 490.3L630.4 489.2L630.5 498.7L630.6 495L630.7 497L630.8 483.5L630.8 489.3L630.9 491.5L631 501.7L631.1 485.4L631.2 495.3L631.3 487.9L631.3 491.7L631.4 515.8L631.5 494.3L631.6 517.5L631.7 488.7L631.7 473.3L631.8 485.1L631.9 492.9L632 374.8L632.1 485.9L632.2 496.3L632.2 498.4L632.3 504.8L632.4 496.4L632.5 498.1L632.6 485.5L632.6 493.1L632.7 498.3L632.8 496.6L632.9 485.9L633 493.8L633.1 513.1L633.1 500.4L633.2 498.6L633.3 489.4L633.4 495L633.5 480.3L633.5 497.5L633.6 500.3L633.7 448.8L633.8 505L633.9 493.8L634 489.9L634 488.7L634.1 499.9L634.2 488.2L634.3 450.3L634.4 490L634.4 492.2L634.5 486.4L634.6 498.8L634.7 490L634.8 443.6L634.9 494.6L634.9 493.4L635 515L635.1 490.2L635.2 485.8L635.3 493.3L635.3 495.5L635.4 496L635.5 497.6L635.6 444.8L635.7 478.8L635.8 486.5L635.8 485.7L635.9 487.8L636 525L636.1 498L636.2 483.1L636.2 493.6L636.3 486.1L636.4 497.9L636.5 490.6L636.6 505.6L636.7 501.1L636.7 483.9L636.8 499.2L636.9 498.9L637 479.4L637.1 497.6L637.1 496.9L637.2 481.9L637.3 487.8L637.4 500.3L637.5 485.3L637.6 481.9L637.6 479.2L637.7 490.2L637.8 468L637.9 489.3L638 482.3L638 533.4L638.1 488.6L638.2 489.8L638.3 477.4L638.4 488.5L638.5 500.4L638.5 498.3L638.6 486.7L638.7 488.4L638.8 502.1L638.9 484.4L638.9 491.9L639 486.3L639.1 487L639.2 496.6L639.3 483.5L639.4 495.6L639.4 480.4L639.5 481.5L639.6 508L639.7 502.1L639.8 497.7L639.8 496.8L639.9 496.7L640 496.6L640.1 501L640.2 484.8L640.3 484.1L640.3 504.2L640.4 486.8L640.5 484.8L640.6 477.7L640.7 483.1L640.7 487.2L640.8 494.7L640.9 498.9L641 491.7L641.1 484.6L641.2 464L641.2 486L641.3 489.9L641.4 488.4L641.5 494.1L641.6 491.6L641.6 491.7L641.7 504.9L641.8 471.7L641.9 439.9L642 489.5L642.1 486.5L642.1 492.2L642.2 494.7L642.3 476.2L642.4 478.3L642.5 475.3L642.5 499.8L642.6 511.4L642.7 444.4L642.8 498.9L642.9 491.7L642.9 482.8L643 485.6L643.1 501.8L643.2 482.8L643.3 478L643.4 499.5L643.4 480.2L643.5 486.1L643.6 496.7L643.7 488.9L643.8 486.5L643.8 487.4L643.9 487.3L644 510.4L644.1 487L644.2 483.1L644.3 495.1L644.3 483.6L644.4 484.4L644.5 492.7L644.6 491L644.7 459.3L644.7 499.1L644.8 484.3L644.9 473.9L645 484.1L645.1 482L645.2 481.4L645.2 498.4L645.3 484.7L645.4 486L645.5 484.7L645.6 490.6L645.6 492.3L645.7 494.8L645.8 487.5L645.9 487.5L646 500.6L646.1 503.8L646.1 479.8L646.2 490.8L646.3 493.8L646.4 506.2L646.5 504.8L646.5 500.6L646.6 486L646.7 506.7L646.8 488.1L646.9 500.8L647 480.3L647 498.7L647.1 496.4L647.2 488.6L647.3 497.4L647.4 495.8L647.4 504.2L647.5 475L647.6 489.6L647.7 477.6L647.8 497.3L647.9 485L647.9 445.3L648 476.2L648.1 500.9L648.2 492.6L648.3 497.2L648.3 478.4L648.4 493.6L648.5 507.2L648.6 478L648.7 489.3L648.8 488.1L648.8 500.4L648.9 474.2L649 492.4L649.1 496.4L649.2 490.5L649.2 472.1L649.3 497.2L649.4 486.9L649.5 492.9L649.6 490.5L649.7 498.7L649.7 498.8L649.8 481.7L649.9 501.6L650 498L650.1 494.2L650.1 492.2L650.2 498.4L650.3 471.4L650.4 494.3L650.5 491.5L650.6 493.3L650.6 487.1L650.7 497.8L650.8 444.1L650.9 481.2L651 487.8L651 498.6L651.1 485.3L651.2 491.7L651.3 507.4L651.4 482.6L651.5 480.3L651.5 488.5L651.6 491.3L651.7 498.3L651.8 501.4L651.9 488L651.9 488.2L652 495.1L652.1 485.2L652.2 499.1L652.3 497L652.4 493L652.4 475L652.5 485.4L652.6 497.2L652.7 504.3L652.8 485.2L652.8 480.6L652.9 495.5L653 496.5L653.1 460L653.2 493.6L653.3 495.4L653.3 487.6L653.4 493.5L653.5 494.9L653.6 490L653.7 483.2L653.7 495.8L653.8 493.9L653.9 493.4L654 467L654.1 511.8L654.2 482.7L654.2 485.6L654.3 468.7L654.4 499L654.5 495.3L654.6 481.2L654.6 489.3L654.7 486.2L654.8 485.2L654.9 491.9L655 494.6L655.1 500L655.1 441L655.2 481.6L655.3 483L655.4 523L655.5 494.9L655.5 494.4L655.6 474.7L655.7 495.7L655.8 502.5L655.9 474.4L656 494.9L656 489.8L656.1 484L656.2 495.9L656.3 493L656.4 493.5L656.4 493.7L656.5 499.6L656.6 486L656.7 481.3L656.8 486L656.9 492.9L656.9 495.3L657 481.6L657.1 501.4L657.2 492.2L657.3 449.5L657.3 486.6L657.4 490.4L657.5 487.4L657.6 494.1L657.7 488.5L657.8 505L657.8 496.5L657.9 484.4L658 470.5L658.1 493.1L658.2 472.2L658.2 499.7L658.3 482.2L658.4 494.3L658.5 495.2L658.6 492.5L658.7 487.2L658.7 487.1L658.8 462.7L658.9 496.2L659 473.4L659.1 498.9L659.1 503.6L659.2 504L659.3 502.7L659.4 494.3L659.5 502.4L659.6 496.2L659.6 503.7L659.7 508.7L659.8 492.6L659.9 497.5L660 529.3L660 497.6L660.1 416.4L660.2 492.9L660.3 533.8L660.4 482.5L660.5 490.1L660.5 500.2L660.6 489.6L660.7 493.4L660.8 483.1L660.9 489.1L660.9 472.9L661 475.4L661.1 494.4L661.2 490.6L661.3 487.7L661.4 483.3L661.4 492.7L661.5 478.5L661.6 484.9L661.7 480.8L661.8 491.4L661.8 487.9L661.9 493.7L662 517.3L662.1 496.9L662.2 493.3L662.3 514L662.3 486.1L662.4 487.4L662.5 487.1L662.6 493.5L662.7 492L662.7 481L662.8 513.6L662.9 486.2L663 492.3L663.1 474.5L663.2 485.4L663.2 487.6L663.3 490.3L663.4 482.1L663.5 491L663.6 498.6L663.6 476L663.7 462.4L663.8 480.7L663.9 495.6L664 478.2L664.1 479.2L664.1 484.2L664.2 487.4L664.3 498L664.4 493.5L664.5 500.3L664.5 488.6L664.6 458.2L664.7 472.4L664.8 488.9L664.9 491.8L665 492.3L665 503.1L665.1 495.7L665.2 503.4L665.3 472.3L665.4 482L665.4 470.9L665.5 470.7L665.6 447L665.7 489.6L665.8 489.2L665.9 496.8L665.9 494.5L666 497.9L666.1 497.6L666.2 484.9L666.3 493.2L666.3 487.5L666.4 481.5L666.5 499.2L666.6 481.4L666.7 505.7L666.8 486.1L666.8 487.7L666.9 493.5L667 485.1L667.1 492.8L667.2 481L667.2 496.8L667.3 493L667.4 481.7L667.5 500.2L667.6 471.6L667.7 494.4L667.7 495.4L667.8 477.8L667.9 489.6L668 493.9L668.1 492.1L668.1 481.8L668.2 489.7L668.3 499.1L668.4 485.8L668.5 487.2L668.6 477.6L668.6 490.6L668.7 480.1L668.8 485.4L668.9 485.7L669 481.2L669 499.4L669.1 484.7L669.2 478.7L669.3 492.1L669.4 506.9L669.5 482.1L669.5 502L669.6 468.3L669.7 500.7L669.8 487.4L669.9 482.7L669.9 493.4L670 504.5L670.1 466.8L670.2 495.6L670.3 512.4L670.4 502.8L670.4 488.3L670.5 507.8L670.6 506.5L670.7 506.9L670.8 501.1L670.8 470L670.9 488.5L671 485.4L671.1 500.6L671.2 511.5L671.3 480.5L671.3 493.6L671.4 486.4L671.5 498L671.6 483.8L671.7 489.5L671.7 485.6L671.8 492L671.9 472.4L672 474.4L672.1 483.7L672.2 494.3L672.2 479.9L672.3 465.6L672.4 481.5L672.5 502.4L672.6 482L672.6 478L672.7 488.4L672.8 484L672.9 499.8L673 482.2L673.1 484.9L673.1 490.3L673.2 507.1L673.3 485.1L673.4 500.2L673.5 501.1L673.5 496.3L673.6 506.4L673.7 480.6L673.8 498.1L673.9 484.2L674 469.1L674 487.3L674.1 499L674.2 510.7L674.3 489.8L674.4 488.4L674.4 516.5L674.5 475.4L674.6 493.1L674.7 494.6L674.8 482.4L674.9 463.7L674.9 489.1L675 461.3L675.1 491.3L675.2 498.2L675.3 497.4L675.3 491.6L675.4 495.6L675.5 493.3L675.6 489.7L675.7 514.5L675.8 501.5L675.8 488.2L675.9 499.9L676 512.7L676.1 490.2L676.2 497.8L676.2 485.2L676.3 501.5L676.4 490.2L676.5 485.2L676.6 485.7L676.7 483.3L676.7 493.7L676.8 490.9L676.9 483.2L677 486.3L677.1 451.5L677.1 502L677.2 476.4L677.3 483.5L677.4 481.8L677.5 470.4L677.6 490.4L677.6 491.8L677.7 486.3L677.8 497.5L677.9 470.3L678 475.9L678 498.6L678.1 505.4L678.2 505.2L678.3 483.3L678.4 494.3L678.5 501.5L678.5 494.2L678.6 491.9L678.7 488.9L678.8 496L678.9 490.2L678.9 495.7L679 506.8L679.1 494.2L679.2 471.1L679.3 525.6L679.4 499.6L679.4 488.1L679.5 499.3L679.6 506.1L679.7 484.9L679.8 494.1L679.8 498.8L679.9 488.2L680 494L680.1 487.2L680.2 507.2L680.3 492.8L680.3 496L680.4 487.1L680.5 495.2L680.6 487.5L680.7 490.7L680.7 481.6L680.8 499.3L680.9 483.7L681 490.8L681.1 483.6L681.2 508.2L681.2 495.1L681.3 466.4L681.4 478.7L681.5 464.9L681.6 499.8L681.6 466.7L681.7 416.7L681.8 482.6L681.9 479.1L682 527.9L682.1 492.8L682.1 493.3L682.2 491L682.3 494.4L682.4 492.1L682.5 482.4L682.5 491.3L682.6 492.9L682.7 506.7L682.8 488.3L682.9 465.9L683 486.7L683 496L683.1 503.2L683.2 483.4L683.3 492.4L683.4 495.4L683.4 492.3L683.5 468.7L683.6 419.5L683.7 452.9L683.8 503.8L683.8 486.7L683.9 507.6L684 498.4L684.1 479.4L684.2 490.9L684.3 467.3L684.3 497.4L684.4 493.3L684.5 490.3L684.6 509.1L684.7 487.1L684.7 495.3L684.8 492.9L684.9 502.6L685 509.4L685.1 485.1L685.2 488.9L685.2 480L685.3 498.8L685.4 493.3L685.5 480L685.6 443.4L685.6 473L685.7 502.3L685.8 490.7L685.9 506.2L686 484L686.1 496.3L686.1 489.6L686.2 488.5L686.3 494.7L686.4 493.2L686.5 488.4L686.5 485.5L686.6 479.9L686.7 492.6L686.8 491.4L686.9 491.5L687 481.9L687 502.2L687.1 467.6L687.2 481.8L687.3 491.9L687.4 448.3L687.4 495.2L687.5 482.8L687.6 491.8L687.7 472.8L687.8 496.9L687.9 506.2L687.9 489.8L688 500L688.1 483.7L688.2 488.4L688.3 484L688.3 507.2L688.4 490.5L688.5 495L688.6 499.9L688.7 497L688.8 478.1L688.8 484.5L688.9 503.6L689 509.8L689.1 498.3L689.2 497.6L689.2 503.3L689.3 482.5L689.4 494.6L689.5 503.9L689.6 487L689.7 493.7L689.7 479.2L689.8 491.4L689.9 450.5L690 488.8L690.1 495.5L690.1 489.2L690.2 458.8L690.3 497.3L690.4 492.7L690.5 479.1L690.6 489.2L690.6 492.1L690.7 494.1L690.8 512.8L690.9 476.1L691 494.2L691 487.5L691.1 505.3L691.2 487.9L691.3 492.7L691.4 494L691.5 487L691.5 447.7L691.6 487.6L691.7 496.4L691.8 492.6L691.9 489.3L691.9 478.8L692 491.5L692.1 477.2L692.2 487.4L692.3 487.8L692.4 492.1L692.4 504.3L692.5 495.2L692.6 491.7L692.7 491.9L692.8 506.8L692.8 459.8L692.9 496.7L693 491.8L693.1 487.4L693.2 487.4L693.3 499.7L693.3 495.1L693.4 479.1L693.5 507.5L693.6 499.8L693.7 492.5L693.7 457L693.8 512.2L693.9 483.7L694 494L694.1 533L694.2 481.3L694.2 463L694.3 497L694.4 501.2L694.5 502L694.6 493.1L694.6 453.9L694.7 498.9L694.8 483.6L694.9 477.7L695 488.8L695.1 480.6L695.1 493.6L695.2 479.6L695.3 484.4L695.4 483.6L695.5 442.6L695.5 518.8L695.6 493.8L695.7 465.4L695.8 495.7L695.9 502.1L696 492.7L696 481.2L696.1 494.3L696.2 502.8L696.3 484.4L696.4 484.9L696.4 488.2L696.5 492L696.6 468.4L696.7 497.1L696.8 478.1L696.9 490L696.9 492.2L697 496.2L697.1 478.6L697.2 505.8L697.3 485.1L697.3 490.4L697.4 479.3L697.5 493.9L697.6 487L697.7 503.5L697.8 511.3L697.8 493L697.9 508.3L698 480.2L698.1 498.1L698.2 507.7L698.2 498.5L698.3 484.1L698.4 496.4L698.5 493.4L698.6 505.9L698.7 515.7L698.7 486.1L698.8 494.8L698.9 500.7L699 487.6L699.1 479.9L699.1 476.7L699.2 485.9L699.3 492.5L699.4 488.2L699.5 502.3L699.6 502.6L699.6 475.5L699.7 480.9L699.8 483.9L699.9 491.8L700 475.8L700 465.3L700.1 489.1L700.2 486.7L700.3 488.1L700.4 486.9L700.5 488.1L700.5 477.6L700.6 493.1L700.7 485.3L700.8 498.3L700.9 487L700.9 494.6L701 495.3L701.1 478.4L701.2 484.7L701.3 491.2L701.4 494.5L701.4 496.4L701.5 491.1L701.6 478.6L701.7 453.2L701.8 491.2L701.8 486.2L701.9 496.2L702 498.2L702.1 495.3L702.2 488.7L702.3 486.8L702.3 511.7L702.4 493.1L702.5 489.9L702.6 516.3L702.7 479.5L702.7 495.6L702.8 495.8L702.9 472.5L703 493L703.1 482.7L703.2 492.2L703.2 493.5L703.3 495.8L703.4 495.1L703.5 488L703.6 510.8L703.6 495.6L703.7 492.4L703.8 478.4L703.9 487.9L704 501L704.1 481L704.1 493.7L704.2 477L704.3 479.2" fill="none" stroke="#000" stroke-width="1.5" stroke-linejoin="round"/>
<path clip-path="url(#cp3)" d="M459 497.1L459.1 491.6L459.1 491.1L459.2 490.6L459.3 496.3L459.4 498L459.5 490.2L459.6 489.7L459.6 499.2L459.7 481.6L459.8 480.5L459.9 482.4L460 484.8L460 488.2L460.1 498.2L460.2 490.4L460.3 492.9L460.4 482.6L460.5 483.5L460.5 503.3L460.6 493.1L460.7 483.1L460.8 483.1L460.9 490.6L460.9 481.3L461 497.4L461.1 497.6L461.2 509.5L461.3 484.2L461.4 500.5L461.4 492.9L461.5 504.4L461.6 497.7L461.7 496.7L461.8 478.6L461.8 493.3L461.9 488.6L462 482.3L462.1 493.9L462.2 488.3L462.3 494L462.3 500.6L462.4 498.1L462.5 495L462.6 486.4L462.7 477.6L462.7 488L462.8 495.9L462.9 493.6L463 492.8L463.1 487.5L463.2 490.8L463.2 477L463.3 505.3L463.4 477.3L463.5 504L463.6 493.5L463.6 484.7L463.7 485L463.8 509.3L463.9 483.3L464 497.8L464.1 494.1L464.1 497.7L464.2 495L464.3 498.7L464.4 483.7L464.5 481.9L464.5 502.9L464.6 486L464.7 505.2L464.8 482.1L464.9 493.2L465 497.8L465 498.3L465.1 482.3L465.2 500.7L465.3 497.7L465.4 491.6L465.4 498.2L465.5 497.8L465.6 494.7L465.7 494.5L465.8 486.5L465.9 475.6L465.9 492.9L466 474.8L466.1 494.6L466.2 491.9L466.3 495.5L466.3 479.5L466.4 487.5L466.5 499.7L466.6 500.3L466.7 477.5L466.8 495.3L466.8 489.8L466.9 498.4L467 486.7L467.1 475.4L467.2 473.4L467.2 503.1L467.3 495.1L467.4 485.9L467.5 499.8L467.6 504L467.7 482.8L467.7 498.7L467.8 494.9L467.9 482L468 493.5L468.1 480.2L468.1 485.6L468.2 483.7L468.3 486.6L468.4 484L468.5 501.9L468.6 489.7L468.6 492.1L468.7 492.4L468.8 497.9L468.9 491.3L469 483L469 498.3L469.1 498.8L469.2 494.5L469.3 486.7L469.4 492.4L469.5 500.3L469.5 495.9L469.6 498.5L469.7 491.6L469.8 486.4L469.9 494L469.9 482.2L470 488.6L470.1 490.9L470.2 498.6L470.3 498.2L470.4 492.4L470.4 477.2L470.5 496.5L470.6 486.2L470.7 502L470.8 487.7L470.8 484.9L470.9 490L471 492L471.1 490.4L471.2 482L471.3 474.4L471.3 486.8L471.4 483L471.5 481.9L471.6 493.9L471.7 488.3L471.7 483L471.8 488.1L471.9 485L472 496.1L472.1 499.3L472.2 504.9L472.2 494.6L472.3 478.4L472.4 502.9L472.5 485.3L472.6 478.1L472.6 477.8L472.7 493.2L472.8 485.5L472.9 482.7L473 478.3L473.1 493.2L473.1 486.8L473.2 488.6L473.3 492.7L473.4 489.3L473.5 477.1L473.5 477.1L473.6 497.8L473.7 493.8L473.8 485.3L473.9 478.3L474 492L474 480.5L474.1 497.9L474.2 485L474.3 497.7L474.4 492.9L474.4 502.1L474.5 491.4L474.6 481L474.7 487.3L474.8 494.9L474.9 481.5L474.9 490.6L475 492.5L475.1 492L475.2 486.2L475.3 479.9L475.3 505.8L475.4 479L475.5 492.3L475.6 496.7L475.7 487.6L475.8 503.5L475.8 497.6L475.9 491.1L476 483.8L476.1 482.6L476.2 498.1L476.2 481.1L476.3 495L476.4 475.5L476.5 482.5L476.6 482.9L476.7 482.9L476.7 471.6L476.8 486.4L476.9 487.2L477 498.4L477.1 483.3L477.1 481.5L477.2 478.3L477.3 483L477.4 494.8L477.5 501.5L477.6 497.6L477.6 489.9L477.7 480.6L477.8 490.9L477.9 501.6L478 483.5L478 497L478.1 482.9L478.2 480.2L478.3 480.7L478.4 486.7L478.5 494L478.5 492L478.6 483L478.7 498.6L478.8 496.1L478.9 490.7L478.9 477.2L479 480.1L479.1 493.9L479.2 492.8L479.3 492.9L479.3 476.9L479.4 491.6L479.5 507L479.6 473.2L479.7 491L479.8 491.2L479.8 481L479.9 490.8L480 486.9L480.1 496.1L480.2 486.9L480.2 501.9L480.3 484L480.4 493.2L480.5 494.6L480.6 494.5L480.7 494.7L480.7 507L480.8 493.9L480.9 485.3L481 480.9L481.1 499.9L481.1 492.8L481.2 497.6L481.3 505.2L481.4 491.9L481.5 489.4L481.6 482.7L481.6 490.6L481.7 476.9L481.8 491.4L481.9 484.3L482 504.4L482 498.3L482.1 473.6L482.2 489.3L482.3 483.1L482.4 486.8L482.5 496.8L482.5 488.7L482.6 497.6L482.7 497.8L482.8 483.2L482.9 495.1L482.9 493.9L483 490.8L483.1 494.5L483.2 491.8L483.3 494L483.4 505.4L483.4 482.6L483.5 495.7L483.6 480.5L483.7 493.4L483.8 492.9L483.8 498.4L483.9 495.7L484 486.8L484.1 488L484.2 489.3L484.3 490.5L484.3 500.8L484.4 496.5L484.5 481.5L484.6 500.5L484.7 506.5L484.7 478.7L484.8 505.4L484.9 479.8L485 498.4L485.1 483.3L485.2 480.7L485.2 481.4L485.3 501.4L485.4 485.4L485.5 479.3L485.6 473.1L485.6 498.2L485.7 489.1L485.8 488.9L485.9 490.3L486 482.8L486.1 503.4L486.1 481.4L486.2 495.6L486.3 488L486.4 499.6L486.5 495.8L486.5 493L486.6 482.3L486.7 499.9L486.8 492L486.9 472.1L487 503.9L487 479.2L487.1 494.7L487.2 493.9L487.3 501.4L487.4 484.2L487.4 500.8L487.5 491.9L487.6 493.4L487.7 476L487.8 499L487.9 492.1L487.9 498L488 471.8L488.1 492.4L488.2 492.1L488.3 493.9L488.3 489.8L488.4 487.2L488.5 498.6L488.6 488.8L488.7 496.8L488.8 494.8L488.8 498.6L488.9 494.7L489 480.6L489.1 499.7L489.2 497.8L489.2 494.1L489.3 497.8L489.4 480.1L489.5 496.6L489.6 493.6L489.7 493.9L489.7 474.4L489.8 482L489.9 497.8L490 490.7L490.1 490.4L490.1 477L490.2 491.8L490.3 494.6L490.4 476.8L490.5 481.1L490.6 477.9L490.6 491.2L490.7 499.7L490.8 473.2L490.9 486.6L491 492.1L491 480L491.1 486.9L491.2 493.3L491.3 493.7L491.4 502.6L491.5 507.9L491.5 483L491.6 500.3L491.7 501.9L491.8 477.4L491.9 497.7L491.9 483.3L492 483L492.1 494.9L492.2 499.3L492.3 481.7L492.4 495.2L492.4 492.7L492.5 489.2L492.6 489.6L492.7 487.7L492.8 474.7L492.8 496.1L492.9 507.5L493 500.1L493.1 501.2L493.2 495.1L493.3 495.5L493.3 496.2L493.4 482.6L493.5 489.7L493.6 491.8L493.7 473.2L493.7 492.7L493.8 493.8L493.9 497.6L494 484.1L494.1 481.2L494.2 489.9L494.2 483.1L494.3 502.9L494.4 491.6L494.5 501.6L494.6 472.4L494.6 491.4L494.7 492.4L494.8 486.5L494.9 489.6L495 498.6L495.1 503L495.1 482.9L495.2 497.6L495.3 499.6L495.4 504.8L495.5 483.5L495.5 491.3L495.6 490.4L495.7 488.9L495.8 477.2L495.9 497.7L496 491.5L496 493.8L496.1 480.8L496.2 485.8L496.3 502.4L496.4 483.1L496.4 485.2L496.5 483L496.6 497.9L496.7 481.6L496.8 499.6L496.9 486.8L496.9 494.2L497 491.3L497.1 498.6L497.2 497L497.3 495.9L497.3 495.4L497.4 494L497.5 494.1L497.6 487.7L497.7 485.5L497.8 497.2L497.8 485L497.9 496.3L498 485.4L498.1 493.5L498.2 494.2L498.2 498.4L498.3 483L498.4 483.3L498.5 496.2L498.6 486.3L498.7 498.3L498.7 499.8L498.8 500.2L498.9 501.4L499 490.6L499.1 497.7L499.1 480.8L499.2 498.7L499.3 482.4L499.4 499.5L499.5 500.9L499.6 487.8L499.6 491.4L499.7 486.6L499.8 494.2L499.9 479.4L500 498.7L500 492.5L500.1 484.3L500.2 483L500.3 501.7L500.4 487.8L500.5 502.4L500.5 492.4L500.6 486.6L500.7 491.4L500.8 472.9L500.9 490.1L500.9 498.3L501 493L501.1 480.8L501.2 507.4L501.3 503.2L501.4 497.6L501.4 495.1L501.5 488.7L501.6 500.4L501.7 490.4L501.8 473.1L501.8 491.4L501.9 493L502 483L502.1 484.9L502.2 501.6L502.3 499.2L502.3 482.9L502.4 498.2L502.5 483.2L502.6 491L502.7 493.7L502.7 495L502.8 487.9L502.9 496.3L503 480.5L503.1 477.2L503.2 489.7L503.2 479.4L503.3 498.6L503.4 480.7L503.5 492.5L503.6 502.4L503.6 486.2L503.7 488.2L503.8 491.9L503.9 500.8L504 497.9L504.1 482.4L504.1 484.6L504.2 500.4L504.3 488.5L504.4 498.9L504.5 481L504.5 490.5L504.6 492.6L504.7 489L504.8 497.7L504.9 492.3L505 483.6L505 500.1L505.1 487.9L505.2 495.6L505.3 498.3L505.4 492.2L505.4 493.3L505.5 486.1L505.6 497.7L505.7 487.1L505.8 484.5L505.9 481.8L505.9 484.5L506 487.3L506.1 488.5L506.2 497.7L506.3 498L506.3 487.8L506.4 500.8L506.5 484.5L506.6 494.5L506.7 490.8L506.8 491.5L506.8 479.6L506.9 492.3L507 482.5L507.1 497.7L507.2 501.6L507.2 491.1L507.3 489.9L507.4 490.5L507.5 478.4L507.6 483.2L507.7 499.2L507.7 494.6L507.8 483.4L507.9 478.5L508 490.9L508.1 500.3L508.1 504.3L508.2 486.6L508.3 483.3L508.4 494.8L508.5 489.4L508.6 504.3L508.6 483.2L508.7 482.7L508.8 495.5L508.9 488.2L509 487.2L509 499.8L509.1 491.1L509.2 498.6L509.3 475.9L509.4 485.2L509.5 494.1L509.5 503.6L509.6 489.8L509.7 498L509.8 492.5L509.9 498.5L509.9 500.2L510 493.1L510.1 487L510.2 497L510.3 479.7L510.4 479.3L510.4 498.1L510.5 500.8L510.6 493.5L510.7 500.5L510.8 494.9L510.8 500.7L510.9 499L511 492.3L511.1 475.6L511.2 500.9L511.3 477.6L511.3 490.3L511.4 497.6L511.5 492.5L511.6 488.3L511.7 474.5L511.7 507.7L511.8 497.9L511.9 491.7L512 496.6L512.1 499.6L512.2 491.8L512.2 485.5L512.3 498.5L512.4 481.1L512.5 483.3L512.6 494.5L512.6 492.7L512.7 489.7L512.8 475.4L512.9 498.9L513 480.6L513.1 483.4L513.1 483.8L513.2 493L513.3 483.7L513.4 482.2L513.5 482.9L513.5 481.1L513.6 479.8L513.7 480.5L513.8 482.9L513.9 484.5L514 481.5L514 499L514.1 497.8L514.2 484.3L514.3 506L514.4 495.4L514.4 504.2L514.5 487.3L514.6 476.1L514.7 499.3L514.8 492L514.9 502.7L514.9 494.4L515 501.6L515.1 491.1L515.2 479.7L515.3 496.6L515.3 498.8L515.4 492.9L515.5 481.8L515.6 501.7L515.7 485.3L515.8 494.7L515.8 482.5L515.9 490.9L516 489.7L516.1 490.1L516.2 487.4L516.2 483.2L516.3 481.4L516.4 493.8L516.5 489.5L516.6 498.4L516.7 486L516.7 488.8L516.8 503.9L516.9 483.3L517 506.8L517.1 489.7L517.1 477.9L517.2 487.4L517.3 493.5L517.4 481.8L517.5 489.4L517.6 497.4L517.6 491.6L517.7 492.7L517.8 483.3L517.9 477.1L518 500.7L518 482.8L518.1 491.2L518.2 499.9L518.3 494L518.4 492L518.5 496.1L518.5 499.7L518.6 485.6L518.7 499.1L518.8 485.5L518.9 484.3L518.9 491.9L519 492.3L519.1 481.3L519.2 488.1L519.3 478.9L519.4 496.1L519.4 494.4L519.5 479.8L519.6 497.8L519.7 498.6L519.8 483.1L519.8 504.1L519.9 483.9L520 492.7L520.1 479.5L520.2 481.1L520.2 480.7L520.3 507.4L520.4 502.7L520.5 494.2L520.6 485.4L520.7 494.3L520.7 483.9L520.8 491.2L520.9 496.3L521 491.1L521.1 478.9L521.1 495.9L521.2 485.6L521.3 481.1L521.4 484.7L521.5 498.5L521.6 490.2L521.6 490.8L521.7 481.2L521.8 493.5L521.9 497.9L522 492.4L522 498.2L522.1 489L522.2 484.6L522.3 495.4L522.4 480.8L522.5 493.9L522.5 471.9L522.6 483.2L522.7 479.5L522.8 490.5L522.9 491.4L522.9 498.6L523 482.8L523.1 483L523.2 504.3L523.3 495.6L523.4 482.8L523.4 507.1L523.5 502.6L523.6 493.8L523.7 497.3L523.8 488.2L523.8 492.5L523.9 487.1L524 482.9L524.1 488.8L524.2 489.3L524.3 485.8L524.3 492.3L524.4 503.3L524.5 498.5L524.6 498.5L524.7 490.9L524.7 491.5L524.8 489.2L524.9 485.7L525 482.2L525.1 482.7L525.2 491.5L525.2 493.9L525.3 496.6L525.4 487.7L525.5 482.1L525.6 491L525.6 496.7L525.7 484.3L525.8 499.6L525.9 486.4L526 486.1L526.1 483.1L526.1 487.5L526.2 503.4L526.3 495L526.4 493.4L526.5 478.8L526.5 486.9L526.6 484.5L526.7 483.8L526.8 495.8L526.9 486.7L527 493.6L527 498.1L527.1 482.3L527.2 499.2L527.3 489L527.4 498.6L527.4 478.3L527.5 482.1L527.6 493.2L527.7 491.7L527.8 482.2L527.9 481.9L527.9 507.9L528 483.6L528.1 491.3L528.2 476L528.3 502.8L528.3 495.8L528.4 485.3L528.5 477.1L528.6 487L528.7 495.8L528.8 494.2L528.8 500.8L528.9 488.5L529 482.6L529.1 502.1L529.2 474.5L529.2 494.4L529.3 493.2L529.4 493.8L529.5 503.3L529.6 502.3L529.7 495.9L529.7 483.9L529.8 482.3L529.9 495.8L530 498.4L530.1 492.2L530.1 488.4L530.2 483.1L530.3 490.1L530.4 482.7L530.5 479.6L530.6 493.7L530.6 493.8L530.7 492.6L530.8 507.9L530.9 487.9L531 493.7L531 498L531.1 484L531.2 495.2L531.3 497.3L531.4 482.6L531.5 482.1L531.5 502.5L531.6 495.3L531.7 493.4L531.8 485.8L531.9 488L531.9 498.1L532 496.6L532.1 490.2L532.2 475.3L532.3 497.5L532.4 476.7L532.4 497.8L532.5 499.5L532.6 490.3L532.7 489L532.8 488.3L532.8 496L532.9 485.1L533 495.5L533.1 487.6L533.2 489.5L533.3 485.7L533.3 490.8L533.4 492.2L533.5 497.9L533.6 481.2L533.7 477.3L533.7 483L533.8 475.1L533.9 498.6L534 480.6L534.1 495.1L534.2 484.2L534.2 502.1L534.3 489L534.4 487.2L534.5 488.7L534.6 486.8L534.6 481.1L534.7 491.8L534.8 499.7L534.9 496.5L535 479.6L535.1 497.2L535.1 497.6L535.2 493.2L535.3 489.7L535.4 489L535.5 488.4L535.5 492.1L535.6 478.2L535.7 487.8L535.8 490.9L535.9 480.4L536 474.1L536 495.8L536.1 489.6L536.2 496.3L536.3 495.1L536.4 484.8L536.4 483L536.5 481.6L536.6 490.1L536.7 482.7L536.8 473L536.9 482.5L536.9 496.1L537 490.7L537.1 491.7L537.2 486.3L537.3 479.1L537.3 488.5L537.4 482.8L537.5 497.7L537.6 497.7L537.7 483.6L537.8 478.7L537.8 488.6L537.9 490.9L538 491.8L538.1 500.5L538.2 494.8L538.2 476.3L538.3 486.5L538.4 499.7L538.5 484.6L538.6 497.2L538.7 493.2L538.7 481L538.8 501.2L538.9 489.4L539 479.2L539.1 499.6L539.1 499.5L539.2 482.5L539.3 477.7L539.4 482.6L539.5 493.2L539.6 473.9L539.6 478.5L539.7 499.3L539.8 506.4L539.9 478.7L540 501.4L540 482.8L540.1 489L540.2 504.2L540.3 498.7L540.4 484.2L540.5 492.1L540.5 493.8L540.6 491.7L540.7 483L540.8 501.9L540.9 489.6L540.9 500.6L541 497L541.1 491.5L541.2 499.8L541.3 509.2L541.4 494.4L541.4 483.2L541.5 494.5L541.6 501.8L541.7 495.7L541.8 490.6L541.8 499.2L541.9 480.8L542 490.5L542.1 494.8L542.2 501.6L542.3 487.8L542.3 496.9L542.4 486.6L542.5 500.6L542.6 497.7L542.7 482.8L542.7 485L542.8 476.7L542.9 504.7L543 493.2L543.1 503.4L543.2 497.3L543.2 480.6L543.3 485.6L543.4 496L543.5 480.4L543.6 496.4L543.6 482.9L543.7 497.8L543.8 489.1L543.9 493L544 490.1L544.1 495.5L544.1 483.2L544.2 493.2L544.3 493.6L544.4 497L544.5 492.8L544.5 480.1L544.6 490.7L544.7 493.4L544.8 487.3L544.9 499L545 492.6L545 490.5L545.1 472.4L545.2 483L545.3 492.1L545.4 498.7L545.4 496.2L545.5 482.8L545.6 476.8L545.7 497.4L545.8 485.7L545.9 494.7L545.9 481.7L546 501.3L546.1 481.9L546.2 496.5L546.3 482.9L546.3 498L546.4 491.1L546.5 480.2L546.6 496.2L546.7 493.7L546.8 485.6L546.8 497.8L546.9 492L547 480.1L547.1 495.4L547.2 485.8L547.2 503.7L547.3 481.8L547.4 496.6L547.5 479.5L547.6 498.1L547.7 479.8L547.7 498.1L547.8 483.1L547.9 490.4L548 497.5L548.1 493.1L548.1 499.9L548.2 497.1L548.3 493.2L548.4 494.4L548.5 501.8L548.6 496.5L548.6 488L548.7 483.8L548.8 492.1L548.9 491.3L549 480.2L549 500.9L549.1 497.2L549.2 479.8L549.3 491.2L549.4 484.8L549.5 499.1L549.5 490.1L549.6 496.8L549.7 484.2L549.8 491.2L549.9 498.8L549.9 494.1L550 486.3L550.1 502.3L550.2 493.6L550.3 497.1L550.4 483.2L550.4 482.9L550.5 480.1L550.6 493.1L550.7 495.9L550.8 486.3L550.8 488.8L550.9 491.2L551 492.6L551.1 484.6L551.2 485.8L551.3 496.9L551.3 482.2L551.4 489.3L551.5 479.5L551.6 471.9L551.7 492.3L551.7 483.8L551.8 488.4L551.9 485.6L552 493.4L552.1 498.2L552.2 495.2L552.2 489L552.3 479.7L552.4 478.1L552.5 497.1L552.6 498.5L552.6 483.9L552.7 486.1L552.8 497.2L552.9 496.8L553 486L553.1 481L553.1 491.3L553.2 482.4L553.3 487.2L553.4 490.5L553.5 497.5L553.5 495.2L553.6 490.7L553.7 500L553.8 489.3L553.9 490.7L554 491L554 498.6L554.1 481.6L554.2 482.5L554.3 491.8L554.4 491.3L554.4 483.6L554.5 475.5L554.6 499.6L554.7 497.5L554.8 477.9L554.9 494.3L554.9 486.8L555 482.1L555.1 498.7L555.2 482.9L555.3 486.4L555.3 489.9L555.4 477.8L555.5 497.7L555.6 492.4L555.7 486.4L555.8 498.5L555.8 497.2L555.9 491.3L556 497.7L556.1 498.5L556.2 481.9L556.2 476.2L556.3 491.6L556.4 480.6L556.5 500L556.6 479.9L556.7 486.9L556.7 504.1L556.8 499.3L556.9 495.9L557 489L557.1 475.3L557.1 492.8L557.2 484.5L557.3 480.3L557.4 498L557.5 479.2L557.6 490.8L557.6 489.6L557.7 490.1L557.8 499.3L557.9 495.4L558 490.2L558 488.9L558.1 488.1L558.2 486L558.3 494.8L558.4 473.3L558.5 502.9L558.5 494.8L558.6 486.3L558.7 485.2L558.8 496.4L558.9 496.1L558.9 490.3L559 489.1L559.1 492.7L559.2 494L559.3 482.2L559.4 496.6L559.4 497.5L559.5 493L559.6 493.3L559.7 494.7L559.8 483.2L559.8 491.9L559.9 492.7L560 485.7L560.1 484.3L560.2 499.1L560.3 491.1L560.3 496L560.4 501.8L560.5 492.9L560.6 496.9L560.7 479.3L560.7 479.8L560.8 485.5L560.9 480.7L561 488.7L561.1 500.3L561.1 497.7L561.2 485.7L561.3 479.1L561.4 480.3L561.5 490.8L561.6 502.2L561.6 492L561.7 498.3L561.8 494.4L561.9 483.7L562 489.4L562 495L562.1 497.9L562.2 500L562.3 490.8L562.4 481.5L562.5 495.9L562.5 478.7L562.6 497.1L562.7 476.7L562.8 503.2L562.9 489.1L562.9 489L563 489.4L563.1 484.3L563.2 499.9L563.3 492.8L563.4 497.4L563.4 488.7L563.5 499.4L563.6 496.4L563.7 500.5L563.8 501.3L563.8 502.9L563.9 478.2L564 493.6L564.1 491.1L564.2 493.6L564.3 492.1L564.3 480.9L564.4 495.5L564.5 489.9L564.6 498.4L564.7 483L564.7 495L564.8 490.6L564.9 485.2L565 484.9L565.1 482.2L565.2 492.6L565.2 501L565.3 483.2L565.4 500.7L565.5 505.8L565.6 501.7L565.6 493.1L565.7 495L565.8 497.3L565.9 488.7L566 492.4L566.1 492.6L566.1 500.2L566.2 482.3L566.3 475.1L566.4 500.4L566.5 495.7L566.5 487.9L566.6 478.9L566.7 483.2L566.8 503L566.9 481.8L567 496.2L567 491.4L567.1 474L567.2 498.6L567.3 499.2L567.4 501.1L567.4 490.7L567.5 492.6L567.6 491.4L567.7 482.6L567.8 498.3L567.9 494.9L567.9 494.7L568 496.9L568.1 501.4L568.2 483.9L568.3 488.9L568.3 485.9L568.4 496.8L568.5 487.7L568.6 475.5L568.7 492.3L568.8 494.7L568.8 497.3L568.9 497.7L569 484.9L569.1 490.9L569.2 483.2L569.2 481.8L569.3 487.7L569.4 503.2L569.5 507.8L569.6 479.4L569.7 501.6L569.7 497.8L569.8 496.1L569.9 480.6L570 497.8L570.1 482.4L570.1 489.4L570.2 486.7L570.3 499.3L570.4 489.8L570.5 479.3L570.6 507.8L570.6 492.5L570.7 494.6L570.8 497.5L570.9 508.3L571 489.9L571 497.6L571.1 491.2L571.2 494.9L571.3 477.2L571.4 491.1L571.5 493.6L571.5 471.6L571.6 483.5L571.7 488.5L571.8 507.4L571.9 494.3L571.9 496.3L572 494.6L572.1 484.7L572.2 484.6L572.3 492.3L572.4 487.1L572.4 480.2L572.5 498.6L572.6 482.9L572.7 489.1L572.8 485.2L572.8 490.5L572.9 494.2L573 476.2L573.1 493.1L573.2 496.8L573.3 494.2L573.3 501.5L573.4 491.3L573.5 486.2L573.6 496.9L573.7 482.2L573.7 482.2L573.8 497.3L573.9 490.9L574 484.4L574.1 474.5L574.2 494.1L574.2 498L574.3 489.5L574.4 495.1L574.5 491.4L574.6 504.8L574.6 496.2L574.7 493.3L574.8 500.6L574.9 486.3L575 494L575.1 498.1L575.1 494.2L575.2 485.9L575.3 483.4L575.4 491L575.5 500.8L575.5 499L575.6 485L575.7 479.3L575.8 491.6L575.9 504.4L576 489.8L576 497.4L576.1 489.8L576.2 489.2L576.3 491.5L576.4 492.5L576.4 491.9L576.5 500.7L576.6 488.6L576.7 494.4L576.8 497.2L576.9 484.2L576.9 501.1L577 483L577.1 495.3L577.2 489.5L577.3 482.1L577.3 496.4L577.4 476.8L577.5 477L577.6 490.9L577.7 494.5L577.8 487.7L577.8 497.7L577.9 491.8L578 493.5L578.1 493.7L578.2 483.3L578.2 491.7L578.3 502.2L578.4 497.8L578.5 494L578.6 477.6L578.7 497.4L578.7 498.2L578.8 491.6L578.9 491.5L579 498L579.1 487.6L579.1 475.8L579.2 494.9L579.3 497.9L579.4 494.1L579.5 492.8L579.6 497.9L579.6 485.5L579.7 479.2L579.8 499.7L579.9 487.1L580 485L580 488.4L580.1 494.2L580.2 478.6L580.3 481.3L580.4 486.2L580.5 486.9L580.5 495.9L580.6 497.9L580.7 502L580.8 477.5L580.9 493.5L580.9 496L581 492.2L581.1 487.9L581.2 499.1L581.3 498.2L581.4 485.3L581.4 486.6L581.5 497.7L581.6 477.7L581.7 499.8L581.8 501.6L581.8 491.1L581.9 480.8L582 484.2L582.1 493.8L582.2 482.7L582.3 494.9L582.3 493.5L582.4 483.4L582.5 486.9L582.6 482.6L582.7 478.7L582.7 491.9L582.8 495.2L582.9 487.6L583 482.6L583.1 499.9L583.2 500L583.2 484.6L583.3 492.4L583.4 493.4L583.5 486.2L583.6 498.9L583.6 493.7L583.7 498.4L583.8 498.7L583.9 495.5L584 492.8L584.1 482.7L584.1 493.7L584.2 483.2L584.3 491.5L584.4 489.5L584.5 494.4L584.5 495.1L584.6 494L584.7 473.3L584.8 499.7L584.9 496.1L585 490L585 482.8L585.1 491.9L585.2 494.4L585.3 501L585.4 492.2L585.4 500L585.5 488.7L585.6 490.2L585.7 498.5L585.8 483.2L585.9 483.7L585.9 495.7L586 500L586.1 492.5L586.2 489.4L586.3 480.1L586.3 489.2L586.4 483L586.5 498L586.6 498.2L586.7 496.7L586.8 483.5L586.8 481.2L586.9 481.3L587 483.2L587.1 500.5L587.2 475.8L587.2 495.9L587.3 495.4L587.4 487.3L587.5 485.9L587.6 495.3L587.7 492.3L587.7 498.4L587.8 488.9L587.9 483L588 478.8L588.1 479.1L588.1 495.6L588.2 482.9L588.3 488L588.4 498L588.5 495.4L588.6 494.8L588.6 490.7L588.7 496.3L588.8 493L588.9 484.8L589 500.1L589 482.7L589.1 481.4L589.2 499.7L589.3 491.1L589.4 479.8L589.5 489.9L589.5 503.2L589.6 477.5L589.7 492.2L589.8 488L589.9 497.1L589.9 494.5L590 490.8L590.1 481.5L590.2 497.9L590.3 484L590.4 502.8L590.4 481.4L590.5 484.6L590.6 491.3L590.7 483.4L590.8 492.6L590.8 471.1L590.9 499.2L591 494.1L591.1 499.3L591.2 484.8L591.3 495.4L591.3 493.9L591.4 494.6L591.5 492.6L591.6 497.6L591.7 498.6L591.7 486.4L591.8 496.5L591.9 477L592 497.7L592.1 483.1L592.2 484.4L592.2 480L592.3 494.1L592.4 494.3L592.5 495.7L592.6 497.9L592.6 481L592.7 488.2L592.8 498.1L592.9 494.3L593 495.5L593.1 494.3L593.1 476.1L593.2 482.6L593.3 500.9L593.4 509.7L593.5 483.2L593.5 475L593.6 494.1L593.7 471.2L593.8 492.7L593.9 479.7L594 485L594 483.8L594.1 489.2L594.2 487.6L594.3 482.8L594.4 497.1L594.4 501.2L594.5 498.1L594.6 484.6L594.7 486.5L594.8 496.5L594.9 495.3L594.9 480.3L595 496.5L595.1 490L595.2 483.4L595.3 485.1L595.3 486.9L595.4 500L595.5 482.7L595.6 496.6L595.7 484.1L595.8 487.6L595.8 482.2L595.9 493.1L596 493.6L596.1 490.7L596.2 495.5L596.2 492.5L596.3 482.7L596.4 490.7L596.5 504.5L596.6 490L596.7 502.7L596.7 488.4L596.8 472L596.9 473L597 489.1L597.1 498.9L597.1 481.7L597.2 496.8L597.3 497.9L597.4 499.6L597.5 505L597.6 482.9L597.6 492.4L597.7 495L597.8 482.2L597.9 494.7L598 481.4L598 500.2L598.1 484.1L598.2 491.2L598.3 490.1L598.4 502.2L598.5 482.4L598.5 490.3L598.6 485L598.7 487.9L598.8 482.3L598.9 492.6L598.9 494.8L599 497.3L599.1 497.5L599.2 499.4L599.3 497.7L599.4 486.5L599.4 481L599.5 485.9L599.6 484.4L599.7 475.9L599.8 499.3L599.8 491L599.9 498.2L600 493.4L600.1 487.3L600.2 493L600.3 499.7L600.3 490.5L600.4 499L600.5 488.6L600.6 471.2L600.7 487.3L600.7 488.6L600.8 497.9L600.9 491.2L601 489.4L601.1 499.8L601.2 501.2L601.2 491L601.3 485.5L601.4 490L601.5 504.2L601.6 495.3L601.6 497.7L601.7 499.8L601.8 481.8L601.9 500.5L602 494.5L602 480.2L602.1 483.4L602.2 499.3L602.3 478.7L602.4 496.5L602.5 500.5L602.5 484.5L602.6 490.1L602.7 491.6L602.8 490L602.9 473.3L602.9 485.7L603 480.2L603.1 482.9L603.2 479.3L603.3 493.3L603.4 499L603.4 499.3L603.5 495.4L603.6 501.9L603.7 490.1L603.8 488.8L603.8 481.1L603.9 504.1L604 500.3L604.1 483.2L604.2 490.3L604.3 484.7L604.3 504.3L604.4 493.8L604.5 501.3L604.6 488.1L604.7 482.3L604.7 489.5L604.8 478.9L604.9 492.8L605 486.7L605.1 494.3L605.2 487L605.2 501.4L605.3 482.6L605.4 488.7L605.5 495.8L605.6 478.3L605.6 497.7L605.7 485.4L605.8 481.6L605.9 497.7L606 483.3L606.1 502.7L606.1 498.5L606.2 483L606.3 492.8L606.4 483.9L606.5 501.4L606.5 482.7L606.6 482.9L606.7 476.5L606.8 481.5L606.9 495.3L607 481.4L607 479.8L607.1 471.5L607.2 495.2L607.3 478.9L607.4 494.2L607.4 491.6L607.5 495.6L607.6 487L607.7 494.9L607.8 490.3L607.9 484.1L607.9 496.9L608 483.2L608.1 497.4L608.2 484.7L608.3 505.4L608.3 489.9L608.4 472.5L608.5 499.3L608.6 480L608.7 503.1L608.8 497.1L608.8 479.9L608.9 488.6L609 482.9L609.1 494L609.2 494.5L609.2 483.2L609.3 471.5L609.4 484.1L609.5 494.2L609.6 492L609.7 488.8L609.7 489.5L609.8 493.4L609.9 490.4L610 505.9L610.1 496.2L610.1 490.7L610.2 485.8L610.3 499.9L610.4 476.1L610.5 481.9L610.6 486.3L610.6 483L610.7 479L610.8 489.2L610.9 498.8L611 489.1L611 482.2L611.1 495.2L611.2 498.1L611.3 500.3L611.4 499L611.5 476.5L611.5 479.5L611.6 487.8L611.7 500.7L611.8 483.2L611.9 494.8L611.9 497.1L612 492.1L612.1 484.8L612.2 493L612.3 492.2L612.4 477.1L612.4 484.4L612.5 509.4L612.6 499.6L612.7 482.8L612.8 489.7L612.8 496L612.9 489.5L613 508.3L613.1 499.1L613.2 483.8L613.3 478.6L613.3 492.8L613.4 490.2L613.5 478.7L613.6 498.1L613.7 485.8L613.7 496.7L613.8 493L613.9 489.8L614 485.1L614.1 491L614.2 489.6L614.2 476.3L614.3 486L614.4 493.7L614.5 483L614.6 482L614.6 484.5L614.7 488.9L614.8 481.3L614.9 490.9L615 485.8L615.1 496L615.1 492.8L615.2 493.7L615.3 496L615.4 484.8L615.5 472.9L615.5 487.8L615.6 490.4L615.7 500.6L615.8 478.8L615.9 481L616 486.5L616 475.3L616.1 476.4L616.2 497.6L616.3 497.7L616.4 472.2L616.4 496.7L616.5 482L616.6 497.7L616.7 478.2L616.8 498.1L616.9 473.2L616.9 492.9L617 499.3L617.1 488.3L617.2 477.5L617.3 485.1L617.3 487.5L617.4 479.5L617.5 486.5L617.6 483.3L617.7 496.9L617.8 491.2L617.8 503.5L617.9 502.5L618 489.4L618.1 488.3L618.2 497.7L618.2 489.6L618.3 496.8L618.4 486.1L618.5 489.9L618.6 486.6L618.7 490L618.7 483.3L618.8 494.8L618.9 488.3L619 499.4L619.1 495.9L619.1 498.3L619.2 484.3L619.3 484.7L619.4 490.2L619.5 486.8L619.6 499.4L619.6 474.2L619.7 496.9L619.8 482.4L619.9 491.5L620 499.2L620 499.4L620.1 497.7L620.2 502.2L620.3 482.2L620.4 484.1L620.5 499.5L620.5 479.7L620.6 492.2L620.7 483.3L620.8 483.9L620.9 481.9L620.9 493.3L621 487.2L621.1 502.4L621.2 495L621.3 488.1L621.4 491.6L621.4 500.1L621.5 496.4L621.6 497.1L621.7 487.3L621.8 478.9L621.8 500.1L621.9 497.9L622 495.6L622.1 498.7L622.2 485.4L622.3 501.9L622.3 497.9L622.4 483.2L622.5 500.9L622.6 497.3L622.7 473.7L622.7 478.8L622.8 488.8L622.9 492.7L623 487.7L623.1 488L623.2 496.1L623.2 490.3L623.3 495.7L623.4 474.9L623.5 486.4L623.6 487.1L623.6 495.2L623.7 497.7L623.8 491L623.9 502.9L624 485.6L624.1 500.1L624.1 487.5L624.2 481.7L624.3 476.7L624.4 491.5L624.5 494.4L624.5 492.5L624.6 490L624.7 481.6L624.8 497.7L624.9 494.6L625 491.8L625 502.6L625.1 481.9L625.2 493.8L625.3 479.9L625.4 491.7L625.4 499.8L625.5 508.7L625.6 498.1L625.7 488.9L625.8 494.9L625.9 493.1L625.9 492L626 499L626.1 493.2L626.2 481.4L626.3 474.6L626.3 503.5L626.4 489.2L626.5 493.4L626.6 500.4L626.7 492.5L626.8 481.7L626.8 499.9L626.9 471.3L627 496.3L627.1 493.9L627.2 484L627.2 489L627.3 488.8L627.4 497L627.5 489.1L627.6 485.9L627.7 478L627.7 498.9L627.8 480.8L627.9 483.1L628 483.6L628.1 480.4L628.1 498.6L628.2 495.7L628.3 492.3L628.4 492.6L628.5 493.1L628.6 491.7L628.6 496.7L628.7 496L628.8 488.3L628.9 496.3L629 490.4L629 483.3L629.1 483L629.2 498.5L629.3 500.3L629.4 481.7L629.5 482.8L629.5 490.6L629.6 493.3L629.7 498.7L629.8 499.8L629.9 486.1L629.9 498.5L630 474.3L630.1 489.5L630.2 482.1L630.3 504.7L630.4 490.3L630.4 489.2L630.5 498.7L630.6 495L630.7 497L630.8 483.5L630.8 489.3L630.9 491.5L631 498.4L631.1 485.4L631.2 495.3L631.3 487.9L631.3 491.7L631.4 497.7L631.5 494.3L631.6 503.1L631.7 488.7L631.7 474.8L631.8 485.1L631.9 492.9L632 481.1L632.1 485.9L632.2 496.3L632.2 498.4L632.3 504.8L632.4 496.4L632.5 498.1L632.6 485.5L632.6 493.1L632.7 498.3L632.8 496.6L632.9 485.9L633 493.8L633.1 498.8L633.1 500.4L633.2 498.6L633.3 489.4L633.4 495L633.5 480.3L633.5 497.5L633.6 500.3L633.7 482.7L633.8 504.1L633.9 493.8L634 489.9L634 488.7L634.1 499.9L634.2 488.2L634.3 479.8L634.4 490L634.4 492.2L634.5 486.4L634.6 497.7L634.7 490L634.8 476.1L634.9 494.6L634.9 493.4L635 501L635.1 490.2L635.2 485.8L635.3 493.3L635.3 495.5L635.4 496L635.5 497.6L635.6 475.5L635.7 481.8L635.8 486.5L635.8 485.7L635.9 487.8L636 509.7L636.1 498L636.2 483.1L636.2 493.6L636.3 486.1L636.4 497.9L636.5 490.6L636.6 498.5L636.7 500.8L636.7 483.9L636.8 499.2L636.9 498.9L637 479.4L637.1 497.6L637.1 496.9L637.2 481.9L637.3 487.8L637.4 500.3L637.5 485.3L637.6 481.9L637.6 479.2L637.7 490.2L637.8 482.7L637.9 489.3L638 483.2L638 499.5L638.1 488.6L638.2 489.8L638.3 477.4L638.4 488.5L638.5 498.5L638.5 497.8L638.6 486.7L638.7 488.4L638.8 502.1L638.9 484.4L638.9 491.9L639 486.3L639.1 487L639.2 496.6L639.3 483.5L639.4 495.6L639.4 480.4L639.5 481.5L639.6 506.1L639.7 502.1L639.8 497.7L639.8 496.8L639.9 496.7L640 496.6L640.1 498.8L640.2 484.8L640.3 484.1L640.3 498.2L640.4 486.8L640.5 484.8L640.6 478.7L640.7 483.1L640.7 487.2L640.8 494.7L640.9 498.9L641 491.7L641.1 484.6L641.2 481.8L641.2 486L641.3 489.9L641.4 488.4L641.5 494.1L641.6 491.6L641.6 491.7L641.7 503.4L641.8 479.3L641.9 478.5L642 489.5L642.1 486.5L642.1 492.2L642.2 494.7L642.3 482.7L642.4 481.1L642.5 481L642.5 499.8L642.6 508.2L642.7 475.8L642.8 498.9L642.9 491.7L642.9 482.8L643 485.6L643.1 501.8L643.2 482.8L643.3 483.1L643.4 499.5L643.4 480.7L643.5 486.1L643.6 496.7L643.7 488.9L643.8 486.5L643.8 487.4L643.9 487.3L644 502L644.1 487L644.2 483.1L644.3 495.1L644.3 483.6L644.4 484.4L644.5 492.7L644.6 491L644.7 471.5L644.7 499.1L644.8 484.3L644.9 482.9L645 484.1L645.1 482L645.2 481.4L645.2 498.4L645.3 484.7L645.4 486L645.5 484.7L645.6 490.6L645.6 492.3L645.7 494.8L645.8 487.5L645.9 487.5L646 500.6L646.1 499.3L646.1 483.2L646.2 490.8L646.3 493.8L646.4 502.7L646.5 503.5L646.5 500.6L646.6 486L646.7 499.9L646.8 488.1L646.9 500.8L647 482.7L647 498.7L647.1 496.4L647.2 488.6L647.3 497.4L647.4 495.8L647.4 497.9L647.5 481L647.6 489.6L647.7 477.6L647.8 497.3L647.9 485L647.9 475.4L648 476.2L648.1 500.9L648.2 492.6L648.3 497.2L648.3 480.4L648.4 493.6L648.5 507.2L648.6 478L648.7 489.3L648.8 488.1L648.8 500.4L648.9 482.5L649 492.4L649.1 496.4L649.2 490.5L649.2 480.6L649.3 497.2L649.4 486.9L649.5 492.9L649.6 490.5L649.7 498.7L649.7 498.3L649.8 481.7L649.9 501.6L650 498L650.1 494.2L650.1 492.2L650.2 498.4L650.3 479.5L650.4 494.3L650.5 491.5L650.6 493.3L650.6 487.1L650.7 497.8L650.8 483L650.9 481.2L651 487.8L651 498.6L651.1 485.3L651.2 491.7L651.3 506.7L651.4 482.6L651.5 480.6L651.5 488.5L651.6 491.3L651.7 498.3L651.8 498.7L651.9 488L651.9 488.2L652 495.1L652.1 485.2L652.2 499.1L652.3 497L652.4 493L652.4 475L652.5 485.4L652.6 497.2L652.7 499.7L652.8 485.2L652.8 480.6L652.9 495.5L653 496.5L653.1 478.7L653.2 493.6L653.3 495.4L653.3 487.6L653.4 493.5L653.5 494.9L653.6 490L653.7 483.2L653.7 495.8L653.8 493.9L653.9 493.4L654 479.5L654.1 500L654.2 482.7L654.2 485.6L654.3 481.9L654.4 499L654.5 495.3L654.6 481.2L654.6 489.3L654.7 486.2L654.8 485.2L654.9 491.9L655 494.6L655.1 500L655.1 478.5L655.2 481.6L655.3 483L655.4 505.9L655.5 494.9L655.5 494.4L655.6 480.8L655.7 495.7L655.8 498.6L655.9 480.8L656 494.9L656 489.8L656.1 484L656.2 495.9L656.3 493L656.4 493.5L656.4 493.7L656.5 499.6L656.6 486L656.7 481.7L656.8 486L656.9 492.9L656.9 495.3L657 481.6L657.1 498.8L657.2 492.2L657.3 483.2L657.3 486.6L657.4 490.4L657.5 487.4L657.6 494.1L657.7 488.5L657.8 499.4L657.8 496.5L657.9 484.4L658 481.5L658.1 493.1L658.2 478L658.2 499.7L658.3 482.2L658.4 494.3L658.5 495.2L658.6 492.5L658.7 487.2L658.7 487.1L658.8 480.9L658.9 496.2L659 478.5L659.1 498.9L659.1 503.6L659.2 498.2L659.3 497.8L659.4 494.3L659.5 498.3L659.6 496.2L659.6 503.6L659.7 501.9L659.8 492.6L659.9 497.5L660 509.8L660 497.6L660.1 482.4L660.2 492.9L660.3 505.1L660.4 482.5L660.5 490.1L660.5 500.2L660.6 489.6L660.7 493.4L660.8 483.1L660.9 489.1L660.9 478.3L661 480.8L661.1 494.4L661.2 490.6L661.3 487.7L661.4 483.3L661.4 492.7L661.5 481.3L661.6 484.9L661.7 482.1L661.8 491.4L661.8 487.9L661.9 493.7L662 507.6L662.1 496.9L662.2 493.3L662.3 497.7L662.3 486.1L662.4 487.4L662.5 487.1L662.6 493.5L662.7 492L662.7 481L662.8 498.4L662.9 486.2L663 492.3L663.1 475.6L663.2 485.4L663.2 487.6L663.3 490.3L663.4 482.1L663.5 491L663.6 498.6L663.6 481.7L663.7 475.1L663.8 483.3L663.9 495.6L664 478.2L664.1 479.2L664.1 484.2L664.2 487.4L664.3 498L664.4 493.5L664.5 497.7L664.5 488.6L664.6 475.8L664.7 478.5L664.8 488.9L664.9 491.8L665 492.3L665 503.1L665.1 495.7L665.2 503.4L665.3 482.6L665.4 482L665.4 481.1L665.5 483.2L665.6 480.6L665.7 489.6L665.8 489.2L665.9 496.8L665.9 494.5L666 497.7L666.1 497.6L666.2 484.9L666.3 493.2L666.3 487.5L666.4 481.5L666.5 499.2L666.6 481.4L666.7 503.6L666.8 486.1L666.8 487.7L666.9 493.5L667 485.1L667.1 492.8L667.2 481L667.2 496.8L667.3 493L667.4 481.7L667.5 497.8L667.6 483.2L667.7 494.4L667.7 495.4L667.8 477.8L667.9 489.6L668 493.9L668.1 492.1L668.1 481.8L668.2 489.7L668.3 499.1L668.4 485.8L668.5 487.2L668.6 477.6L668.6 490.6L668.7 480.1L668.8 485.4L668.9 485.7L669 481.2L669 499.4L669.1 484.7L669.2 478.7L669.3 492.1L669.4 500.4L669.5 482.1L669.5 502L669.6 472.1L669.7 497.8L669.8 487.4L669.9 482.7L669.9 493.4L670 498.1L670.1 483.2L670.2 495.6L670.3 508.7L670.4 502.4L670.4 488.3L670.5 500.2L670.6 497.7L670.7 498.4L670.8 499.3L670.8 474.5L670.9 488.5L671 485.4L671.1 500.6L671.2 502.3L671.3 480.5L671.3 493.6L671.4 486.4L671.5 498L671.6 483.8L671.7 489.5L671.7 485.6L671.8 492L671.9 479.4L672 482.6L672.1 483.7L672.2 494.3L672.2 481.6L672.3 476.3L672.4 483.1L672.5 499.8L672.6 482L672.6 478L672.7 488.4L672.8 484L672.9 499.8L673 482.2L673.1 484.9L673.1 490.3L673.2 497.8L673.3 485.1L673.4 499.2L673.5 501.1L673.5 496.3L673.6 500.5L673.7 480.6L673.8 498.1L673.9 484.2L674 478.3L674 487.3L674.1 498.7L674.2 503.4L674.3 489.8L674.4 488.4L674.4 497.8L674.5 480.8L674.6 493.1L674.7 494.6L674.8 482.4L674.9 474.1L674.9 489.1L675 483.1L675.1 491.3L675.2 498.2L675.3 497.4L675.3 491.6L675.4 495.6L675.5 493.3L675.6 489.7L675.7 498.2L675.8 501.5L675.8 488.2L675.9 499.9L676 507.6L676.1 490.2L676.2 497.8L676.2 485.2L676.3 501.5L676.4 490.2L676.5 485.2L676.6 485.7L676.7 483.3L676.7 493.7L676.8 490.9L676.9 483.2L677 486.3L677.1 476.1L677.1 498.2L677.2 476.4L677.3 483.5L677.4 481.8L677.5 481.4L677.6 490.4L677.6 491.8L677.7 486.3L677.8 497.5L677.9 476L678 475.9L678 498L678.1 498.2L678.2 505.2L678.3 483.3L678.4 494.3L678.5 498.4L678.5 494.2L678.6 491.9L678.7 488.9L678.8 496L678.9 490.2L678.9 495.7L679 497.7L679.1 494.2L679.2 472.5L679.3 497.6L679.4 499.6L679.4 488.1L679.5 499.3L679.6 506.1L679.7 484.9L679.8 494.1L679.8 498L679.9 488.2L680 494L680.1 487.2L680.2 507L680.3 492.8L680.3 496L680.4 487.1L680.5 495.2L680.6 487.5L680.7 490.7L680.7 481.6L680.8 497.8L680.9 483.7L681 490.8L681.1 483.6L681.2 508.2L681.2 495.1L681.3 482L681.4 478.7L681.5 481.5L681.6 498.3L681.6 483.2L681.7 473.8L681.8 482.6L681.9 479.1L682 504.6L682.1 492.8L682.1 493.3L682.2 491L682.3 494.4L682.4 492.1L682.5 482.4L682.5 491.3L682.6 492.9L682.7 498.3L682.8 488.3L682.9 481.2L683 486.7L683 496L683.1 503.2L683.2 483.4L683.3 492.4L683.4 495.4L683.4 492.3L683.5 472.6L683.6 483.2L683.7 482.8L683.8 498.6L683.8 486.7L683.9 507.6L684 498.4L684.1 481L684.2 490.9L684.3 482.2L684.3 497.4L684.4 493.3L684.5 490.3L684.6 506L684.7 487.1L684.7 495.3L684.8 492.9L684.9 500.7L685 497.7L685.1 485.1L685.2 488.9L685.2 480L685.3 498.8L685.4 493.3L685.5 480.5L685.6 473.3L685.6 473L685.7 500.3L685.8 490.7L685.9 497.9L686 484L686.1 496.3L686.1 489.6L686.2 488.5L686.3 494.7L686.4 493.2L686.5 488.4L686.5 485.5L686.6 481.8L686.7 492.6L686.8 491.4L686.9 491.5L687 481.9L687 500.7L687.1 479.8L687.2 481.8L687.3 491.9L687.4 474.8L687.4 495.2L687.5 482.8L687.6 491.8L687.7 482.3L687.8 496.9L687.9 501.8L687.9 489.8L688 499L688.1 483.7L688.2 488.4L688.3 484L688.3 499.7L688.4 490.5L688.5 495L688.6 499.9L688.7 497L688.8 478.1L688.8 484.5L688.9 500.3L689 501.5L689.1 498.3L689.2 497.6L689.2 499.4L689.3 482.6L689.4 494.6L689.5 497.8L689.6 487L689.7 493.7L689.7 479.2L689.8 491.4L689.9 476.8L690 488.8L690.1 495.5L690.1 489.2L690.2 481.5L690.3 497.3L690.4 492.7L690.5 481.1L690.6 489.2L690.6 492.1L690.7 494.1L690.8 504.5L690.9 481.5L691 494.2L691 487.5L691.1 498.3L691.2 487.9L691.3 492.7L691.4 494L691.5 487L691.5 475L691.6 487.6L691.7 496.4L691.8 492.6L691.9 489.3L691.9 482.7L692 491.5L692.1 482.8L692.2 487.4L692.3 487.8L692.4 492.1L692.4 501.6L692.5 495.2L692.6 491.7L692.7 491.9L692.8 498L692.8 482.2L692.9 496.7L693 491.8L693.1 487.4L693.2 487.4L693.3 499.7L693.3 495.1L693.4 480.4L693.5 498.5L693.6 499.8L693.7 492.5L693.7 482.8L693.8 504.4L693.9 483.7L694 494L694.1 507.3L694.2 481.3L694.2 472L694.3 497L694.4 498.7L694.5 497.9L694.6 493.1L694.6 482.8L694.7 498.9L694.8 483.6L694.9 481.4L695 488.8L695.1 483.3L695.1 493.6L695.2 479.6L695.3 484.4L695.4 483.6L695.5 476.1L695.5 504.1L695.6 493.8L695.7 479L695.8 495.7L695.9 502.1L696 492.7L696 481.2L696.1 494.3L696.2 499.9L696.3 484.4L696.4 484.9L696.4 488.2L696.5 492L696.6 481.2L696.7 497.1L696.8 478.1L696.9 490L696.9 492.2L697 496.2L697.1 480.3L697.2 505.8L697.3 485.1L697.3 490.4L697.4 479.3L697.5 493.9L697.6 487L697.7 503.5L697.8 500.6L697.8 493L697.9 498.2L698 482L698.1 498.1L698.2 498.3L698.2 497.8L698.3 484.1L698.4 496.4L698.5 493.4L698.6 498.5L698.7 504.8L698.7 486.1L698.8 494.8L698.9 498.4L699 487.6L699.1 479.9L699.1 482.1L699.2 485.9L699.3 492.5L699.4 488.2L699.5 499.6L699.6 499.8L699.6 482.8L699.7 480.9L699.8 483.9L699.9 491.8L700 480.6L700 482.8L700.1 489.1L700.2 486.7L700.3 488.1L700.4 486.9L700.5 488.1L700.5 479L700.6 493.1L700.7 485.3L700.8 498.3L700.9 487L700.9 494.6L701 495.3L701.1 481L701.2 484.7L701.3 491.2L701.4 494.5L701.4 496.4L701.5 491.1L701.6 478.6L701.7 477.4L701.8 491.2L701.8 486.2L701.9 496.2L702 498.2L702.1 495.3L702.2 488.7L702.3 486.8L702.3 507.7L702.4 493.1L702.5 489.9L702.6 499.3L702.7 479.5L702.7 495.6L702.8 495.8L702.9 482L703 493L703.1 482.7L703.2 492.2L703.2 493.5L703.3 495.8L703.4 495.1L703.5 488L703.6 499.4L703.6 495.6L703.7 492.4L703.8 479.7L703.9 487.9L704 500.2L704.1 482L704.1 493.7L704.2 477L704.3 479.2" fill="none" stroke="#000" stroke-width="2.6" stroke-linejoin="round"/>
<path clip-path="url(#cp3)" d="M459 489.9H704.3" stroke="#000" stroke-width="1.4" stroke-dasharray="1.6 4.8 6.4 4.8" fill="none"/>
<g clip-path="url(#cp3)">
<path d="M459 487.4L465.3 487.6L471.6 487.8L477.9 488.1L484.1 488.3L490.4 488.5L496.7 488.8L503 489L509.3 489.2L515.6 489.4L521.9 489.6L528.2 489.7L534.5 489.7L540.8 489.8L547 489.8L553.3 489.9L559.6 489.9L565.9 489.9L572.2 490L578.5 490L584.8 490L591.1 490L597.4 490L603.7 489.9L609.9 489.9L616.2 489.9L622.5 489.9L628.8 489.8L635.1 489.8L641.4 489.7L647.7 489.3L654 489L660.3 488.7L666.6 488.4L672.8 488.1L679.1 487.7L685.4 487.3L691.7 486.9L698 486.5L704.3 486.1L704.3 488.3L698 488.7L691.7 489.1L685.4 489.5L679.1 489.9L672.8 490.3L666.6 490.6L660.3 490.9L654 491.2L647.7 491.5L641.4 491.9L635.1 492L628.8 492L622.5 492.1L616.2 492.1L609.9 492.1L603.7 492.1L597.4 492.2L591.1 492.2L584.8 492.2L578.5 492.2L572.2 492.2L565.9 492.1L559.6 492.1L553.3 492.1L547 492L540.8 492L534.5 491.9L528.2 491.9L521.9 491.8L515.6 491.6L509.3 491.4L503 491.2L496.7 491L490.4 490.7L484.1 490.5L477.9 490.3L471.6 490L465.3 489.8L459 489.6Z" fill="#999" fill-opacity="0.4" stroke="none"/>
<path d="M459 488.5L465.3 488.7L471.6 488.9L477.9 489.2L484.1 489.4L490.4 489.6L496.7 489.9L503 490.1L509.3 490.3L515.6 490.5L521.9 490.7L528.2 490.8L534.5 490.8L540.8 490.9L547 490.9L553.3 491L559.6 491L565.9 491L572.2 491.1L578.5 491.1L584.8 491.1L591.1 491.1L597.4 491.1L603.7 491L609.9 491L616.2 491L622.5 491L628.8 490.9L635.1 490.9L641.4 490.8L647.7 490.4L654 490.1L660.3 489.8L666.6 489.5L672.8 489.2L679.1 488.8L685.4 488.4L691.7 488L698 487.6L704.3 487.2" fill="none" stroke="#3366ff" stroke-width="0.9" stroke-dasharray="2.3 6.9 9.2 6.9"/>
</g>
<text x="447.1" y="355.2" font-size="18.7" fill="#000">Residuals vs Row order</text>
<path d="M458.9 556.8v3.4M540.7 556.8v3.4M622.5 556.8v3.4M704.3 556.8v3.4M447.1 545.2h-3.6M447.1 489.9h-3.6M447.1 434.6h-3.6M447.1 379.4h-3.6" stroke="#333" stroke-width="1.3" fill="none"/>
<g font-size="12" fill="#4d4d4d"><text x="458.9" y="573.3" text-anchor="middle">0</text><text x="540.7" y="573.3" text-anchor="middle">1000</text><text x="622.5" y="573.3" text-anchor="middle">2000</text><text x="704.3" y="573.3" text-anchor="middle">3000</text><text x="439.1" y="550.2" text-anchor="end">-5000</text><text x="439.1" y="494.9" text-anchor="end">0</text><text x="439.1" y="439.6" text-anchor="end">5000</text><text x="439.1" y="384.4" text-anchor="end">10000</text></g>
<text x="582" y="592" font-size="15.5" fill="#000" text-anchor="middle">Row order</text>
<text transform="translate(396.9 460.6) rotate(-90)" font-size="15.5" fill="#000" text-anchor="middle">Residuals</text>
<clipPath id="cp4"><rect x="770" y="364.4" width="293.2" height="192.4"/></clipPath>
<rect x="770" y="364.4" width="293.2" height="192.4" fill="#ebebeb"/>
<path d="M805.1 364.4V556.8M879.5 364.4V556.8M953.9 364.4V556.8M1028.3 364.4V556.8M770 519.6H1063.2M770 454.6H1063.2M770 389.6H1063.2" stroke="#fff" stroke-width="0.7" fill="none" opacity="0.85"/>
<path d="M842.3 364.4V556.8M916.7 364.4V556.8M991.1 364.4V556.8M770 552.1H1063.2M770 487.1H1063.2M770 422.1H1063.2" stroke="#fff" stroke-width="1.4" fill="none"/>
<path clip-path="url(#cp4)" d="M749.3 545.6L1084.1 428.6" stroke="#000" stroke-width="1.4" stroke-dasharray="1.6 4.8 6.4 4.8" fill="none"/>
<g clip-path="url(#cp4)" stroke="#000" stroke-opacity="0.5" stroke-width="6.2" stroke-linecap="round" fill="none">
<path d="M806.3 529.7h0M808.6 529.3h0M825 520.8h0M832.1 514.5h0M832.9 513.9h0M838.8 511.2h0M839.4 511h0M844.7 508.7h0M845.3 508.4h0M847.5 507.1h0M848.7 506.4h0M851.8 505.1h0M854.3 504.1h0M854.6 504h0M854.8 503.9h0M859.3 502.5h0M862.6 501.5h0M862.7 501.5h0M863.5 501.2h0M863.5 501.2h0M865.3 500.7h0M865.9 500.5h0M866.6 500.3h0M866.9 500.2h0M867.2 500.2h0M868.6 499.8h0M869.1 499.6h0M871.1 499.1h0M871.9 498.8h0M872.2 498.8h0M872.3 498.7h0M873.6 498.4h0M874.5 498.1h0M875.1 498h0M876.7 497.6h0M880.9 496.5h0M881.4 496.4h0M882 496.2h0M884.6 495.6h0M884.8 495.5h0M886.2 495.2h0M887.2 494.9h0M887.4 494.9h0M887.6 494.8h0M887.8 494.8h0M888 494.7h0M888.2 494.7h0M888.4 494.6h0M890 494.3h0M890.2 494.2h0M890.9 494h0M891.5 493.9h0M892.5 493.7h0M894.4 493.2h0M894.6 493.2h0M894.7 493.2h0M894.9 493.1h0M895.2 493h0M896.2 492.8h0M896.2 492.8h0M897.8 492.5h0M897.9 492.4h0M898.3 492.3h0M898.3 492.3h0M898.4 492.3h0M898.5 492.3h0M901.2 491.7h0M901.7 491.6h0M902.1 491.5h0M902.1 491.5h0M903.4 491.2h0M903.8 491.1h0M903.9 491.1h0M904.3 491.1h0M904.4 491h0M904.7 491h0M905.4 490.8h0M906.3 490.7h0M906.3 490.7h0M907 490.5h0M907.1 490.5h0M908.6 490.2h0M908.9 490.1h0M909.1 490.1h0M909.6 490h0M910.4 489.8h0M910.5 489.8h0M910.6 489.8h0M910.9 489.7h0M911.1 489.7h0M911.6 489.6h0M911.9 489.5h0M911.9 489.5h0M912.3 489.4h0M913.1 489.2h0M913.7 489.1h0M913.8 489.1h0M914.7 488.9h0M914.7 488.9h0M914.9 488.8h0M915.2 488.8h0M915.5 488.7h0M915.7 488.6h0M916.1 488.5h0M916.1 488.5h0M916.3 488.5h0M916.5 488.4h0M916.6 488.4h0M916.7 488.4h0M916.7 488.4h0M918.8 487.9h0M920.5 487.4h0M921.1 487.3h0M921.1 487.3h0M921.9 487.1h0M922 487h0M922.1 487h0M923 486.7h0M923.1 486.7h0M923.5 486.6h0M924.3 486.4h0M924.7 486.3h0M924.9 486.2h0M925 486.2h0M925.2 486.1h0M925.3 486.1h0M925.3 486.1h0M925.5 486.1h0M926.5 485.8h0M927.3 485.5h0M928.7 485.1h0M929.2 485h0M930.1 484.7h0M930.2 484.7h0M930.3 484.7h0M930.4 484.6h0M931.9 484.2h0M932.4 484.1h0M932.7 484h0M933.7 483.7h0M934.2 483.5h0M934.9 483.3h0M935.2 483.2h0M935.4 483.2h0M936.2 482.9h0M937.1 482.7h0M937.3 482.6h0M937.4 482.6h0M938.9 482.2h0M942.2 481.3h0M942.9 481h0M944 480.7h0M944.5 480.6h0M945 480.4h0M946.5 480h0M947.1 479.8h0M947.7 479.6h0M948.8 479.3h0M948.9 479.3h0M949.6 479h0M950.1 478.9h0M953.3 477.8h0M953.9 477.6h0M953.9 477.6h0M954 477.6h0M955 477.2h0M955.1 477.2h0M955.3 477.1h0M956.6 476.6h0M957.4 476.3h0M958.1 476.1h0M959.1 475.7h0M959.5 475.5h0M960.7 475h0M962.2 474.3h0M962.6 474.2h0M962.7 474.1h0M963.4 473.8h0M963.8 473.6h0M964.1 473.5h0M964.9 473.1h0M965.7 472.7h0M965.9 472.6h0M966.3 472.3h0M967 472h0M967.2 471.9h0M968.4 471.1h0M969.2 470.6h0M969.9 470.2h0M972.6 468.3h0M973.9 467.4h0M981.8 460.9h0M982.5 460.2h0M983.7 458.9h0M985 457.3h0M985.7 456.3h0M990.1 449.2h0M1004.4 440.3h0"/>
<path d="M827.9 517.9h0M835.5 512.5h0M844.1 509h0M845.9 508h0M849.7 506h0M851.9 505h0M855 503.9h0M856.2 503.5h0M857.6 503h0M858 502.9h0M858.2 502.8h0M860 502.3h0M862.8 501.5h0M863.1 501.4h0M865.2 500.7h0M865.7 500.6h0M866 500.5h0M866.2 500.4h0M868.8 499.7h0M869.8 499.4h0M870.2 499.3h0M870.9 499.1h0M871.5 498.9h0M872.4 498.7h0M872.8 498.6h0M874 498.3h0M874.3 498.2h0M874.9 498h0M875.9 497.8h0M876 497.8h0M876 497.7h0M876.1 497.7h0M876.1 497.7h0M877.6 497.3h0M877.7 497.3h0M877.8 497.3h0M877.9 497.3h0M877.9 497.3h0M878.7 497.1h0M879.2 496.9h0M880 496.7h0M880.1 496.7h0M880.6 496.6h0M880.8 496.5h0M881.2 496.4h0M881.5 496.3h0M882.6 496.1h0M882.7 496h0M883 496h0M883.8 495.8h0M885 495.5h0M885.1 495.4h0M885.5 495.4h0M885.8 495.3h0M886.5 495.1h0M889.6 494.3h0M890.5 494.1h0M891 494h0M892.1 493.8h0M893.8 493.4h0M894.3 493.3h0M894.5 493.2h0M895.7 492.9h0M896.5 492.8h0M897.2 492.6h0M897.3 492.6h0M897.8 492.4h0M897.9 492.4h0M898.1 492.4h0M898.6 492.3h0M898.8 492.2h0M899.3 492.1h0M899.4 492.1h0M899.4 492.1h0M899.8 492h0M899.9 492h0M899.9 492h0M900.5 491.8h0M900.9 491.8h0M901.3 491.7h0M901.5 491.6h0M902.1 491.5h0M902.4 491.4h0M902.6 491.4h0M903.8 491.2h0M904.7 491h0M904.7 491h0M905.3 490.9h0M905.9 490.7h0M906.2 490.7h0M907.4 490.4h0M907.7 490.4h0M907.8 490.3h0M907.8 490.3h0M908.8 490.1h0M909.1 490.1h0M909.7 490h0M909.8 489.9h0M910.3 489.8h0M911 489.7h0M911.3 489.6h0M911.5 489.6h0M913.4 489.2h0M914 489h0M914.3 489h0M914.4 488.9h0M914.8 488.9h0M915 488.8h0M915.3 488.7h0M917 488.3h0M917.6 488.2h0M918.1 488.1h0M918.7 487.9h0M919.7 487.6h0M920.2 487.5h0M920.4 487.5h0M920.8 487.4h0M922.2 487h0M922.3 487h0M922.4 486.9h0M922.5 486.9h0M922.7 486.8h0M922.8 486.8h0M922.9 486.8h0M923.4 486.7h0M923.5 486.6h0M923.8 486.5h0M926.5 485.8h0M926.7 485.7h0M926.9 485.6h0M927.6 485.5h0M927.8 485.4h0M928 485.3h0M928 485.3h0M929.6 484.9h0M930 484.8h0M930.1 484.7h0M930.7 484.5h0M930.8 484.5h0M931.1 484.4h0M931.5 484.3h0M932 484.2h0M932.2 484.1h0M933.7 483.7h0M934.5 483.4h0M934.7 483.4h0M935 483.3h0M936 483h0M936.4 482.9h0M936.7 482.8h0M936.9 482.7h0M937.3 482.6h0M937.5 482.6h0M937.7 482.5h0M938.3 482.4h0M939 482.1h0M939.1 482.1h0M940.2 481.8h0M941.4 481.5h0M941.7 481.4h0M942 481.3h0M942.9 481h0M943.1 481h0M943.5 480.9h0M944.1 480.7h0M945.3 480.4h0M945.4 480.3h0M945.5 480.3h0M946.6 480h0M947.4 479.7h0M949.2 479.2h0M949.7 479h0M950.5 478.8h0M952.4 478.1h0M952.5 478.1h0M952.9 478h0M953.8 477.6h0M954.1 477.5h0M954.8 477.3h0M955.8 476.9h0M956.5 476.7h0M957.6 476.2h0M957.8 476.2h0M957.8 476.2h0M958.2 476h0M959.3 475.6h0M961.4 474.7h0M961.7 474.6h0M962.1 474.4h0M962.4 474.2h0M962.5 474.2h0M962.8 474.1h0M962.9 474h0M965.5 472.8h0M966 472.5h0M966.7 472.1h0M968.5 471.1h0M970.7 469.6h0M972.4 468.5h0M973 468h0M975.9 465.9h0M977.1 464.9h0M979.4 463h0M985.2 457.1h0M987.3 453.5h0M989.9 449.4h0M993.8 446.7h0M995.1 445.8h0M996.3 445h0M999.3 443.2h0M1001.7 441.8h0M1008.4 438.1h0"/>
<path d="M821.3 523.7h0M831.3 515.1h0M838 511.5h0M843 509.6h0M845.5 508.2h0M846.5 507.7h0M849.2 506.2h0M850.2 505.7h0M851.2 505.3h0M853 504.6h0M853.3 504.5h0M857.7 503h0M859.4 502.4h0M862.3 501.6h0M863.8 501.1h0M867.9 499.9h0M868.7 499.7h0M873.9 498.3h0M874.6 498.1h0M874.7 498.1h0M875.9 497.8h0M876.5 497.6h0M876.9 497.5h0M877.4 497.4h0M879.8 496.8h0M880.2 496.7h0M880.7 496.5h0M881 496.5h0M882.2 496.2h0M882.4 496.1h0M882.9 496h0M883 496h0M883.6 495.8h0M884.4 495.6h0M884.7 495.5h0M886.2 495.2h0M886.4 495.1h0M886.6 495.1h0M887.2 494.9h0M888.6 494.6h0M889.4 494.4h0M890 494.3h0M890.6 494.1h0M890.8 494.1h0M890.8 494.1h0M890.9 494.1h0M891.9 493.8h0M892.2 493.7h0M893.3 493.5h0M894.5 493.2h0M894.6 493.2h0M895 493.1h0M896.3 492.8h0M897.3 492.6h0M899 492.2h0M899.3 492.1h0M899.5 492.1h0M900.2 491.9h0M901.2 491.7h0M902.7 491.4h0M903 491.3h0M903.1 491.3h0M904.5 491h0M904.6 491h0M905.1 490.9h0M905.5 490.8h0M905.7 490.8h0M906 490.7h0M906.6 490.6h0M907.7 490.4h0M908.5 490.2h0M908.9 490.1h0M909.3 490h0M909.4 490h0M909.7 489.9h0M909.9 489.9h0M910.2 489.9h0M910.8 489.7h0M911.6 489.6h0M912.6 489.3h0M915.6 488.7h0M916.4 488.5h0M916.4 488.5h0M916.8 488.4h0M917.1 488.3h0M917.4 488.2h0M917.5 488.2h0M918.1 488.1h0M918.3 488h0M919.3 487.7h0M919.5 487.7h0M919.5 487.7h0M919.6 487.7h0M919.8 487.6h0M920.3 487.5h0M920.5 487.4h0M921 487.3h0M921.2 487.2h0M921.5 487.2h0M921.9 487.1h0M922.2 487h0M922.3 486.9h0M922.3 486.9h0M922.8 486.8h0M923.1 486.7h0M923.3 486.7h0M923.4 486.6h0M923.6 486.6h0M924.2 486.4h0M924.2 486.4h0M924.3 486.4h0M924.6 486.3h0M925.1 486.2h0M925.3 486.1h0M926.8 485.7h0M927.1 485.6h0M927.2 485.6h0M927.5 485.5h0M927.9 485.3h0M930 484.8h0M930.3 484.7h0M931.4 484.4h0M931.6 484.3h0M932.2 484.1h0M932.6 484h0M933.6 483.7h0M934.6 483.4h0M935.1 483.3h0M935.2 483.2h0M935.5 483.1h0M936.4 482.9h0M936.5 482.9h0M936.7 482.8h0M938.7 482.2h0M938.8 482.2h0M939.1 482.1h0M939.2 482.1h0M939.3 482.1h0M939.5 482h0M940.4 481.7h0M940.8 481.6h0M941.8 481.3h0M942 481.3h0M942.5 481.2h0M944.3 480.6h0M944.8 480.5h0M945.7 480.2h0M947.8 479.6h0M948.5 479.4h0M949 479.2h0M951.2 478.5h0M951.5 478.4h0M952.3 478.2h0M952.6 478.1h0M952.8 478h0M953.5 477.7h0M954 477.6h0M955 477.2h0M957 476.5h0M958.2 476h0M959 475.7h0M959.2 475.6h0M962.3 474.3h0M963.2 473.9h0M964.8 473.1h0M967.1 471.9h0M967.5 471.6h0M969.9 470.1h0M970.2 470h0M970.4 469.8h0M970.6 469.7h0M972.2 468.6h0M974.3 467.1h0M974.6 466.8h0M976 465.8h0M980.6 462h0M981 461.6h0M983.5 459.1h0M996.9 444.6h0M1004 440.5h0M1014.8 431.5h0M1018.3 428.6h0"/>
<path d="M817.5 524.9h0M823.6 522.1h0M832.5 514.2h0M836.5 512.1h0M838.6 511.3h0M842.1 510h0M843.5 509.3h0M845.1 508.5h0M849.9 505.9h0M852.2 504.9h0M854.2 504.1h0M855.6 503.7h0M857.5 503h0M859.1 502.5h0M860.9 502h0M864.7 500.9h0M865.5 500.7h0M866.7 500.3h0M867.2 500.1h0M869.3 499.6h0M869.7 499.4h0M870.1 499.3h0M870.3 499.3h0M871.4 499h0M872.1 498.8h0M872.8 498.6h0M873.1 498.5h0M873.3 498.5h0M873.8 498.3h0M875.7 497.8h0M876.7 497.6h0M877.1 497.5h0M877.3 497.4h0M879.2 496.9h0M879.6 496.8h0M880.3 496.6h0M881.1 496.4h0M881.2 496.4h0M881.6 496.3h0M881.8 496.3h0M883.1 495.9h0M884.8 495.5h0M885.5 495.3h0M885.9 495.3h0M887 495h0M887.1 495h0M887.7 494.8h0M888.7 494.6h0M888.8 494.5h0M889 494.5h0M889.1 494.5h0M889.2 494.4h0M890.7 494.1h0M892.5 493.7h0M892.6 493.7h0M893.1 493.5h0M893.9 493.3h0M894.7 493.2h0M895.1 493.1h0M895.7 492.9h0M895.9 492.9h0M896.3 492.8h0M896.6 492.7h0M896.9 492.7h0M897 492.6h0M897.5 492.5h0M897.6 492.5h0M898.2 492.4h0M898.7 492.2h0M900 492h0M900.1 491.9h0M901.6 491.6h0M901.9 491.6h0M902.7 491.4h0M902.9 491.3h0M903 491.3h0M903.1 491.3h0M903.5 491.2h0M903.7 491.2h0M904.3 491h0M905.3 490.8h0M905.4 490.8h0M907.4 490.4h0M907.9 490.3h0M908.2 490.3h0M908.7 490.2h0M910 489.9h0M910.2 489.8h0M910.4 489.8h0M910.5 489.8h0M912.5 489.4h0M912.7 489.3h0M913.5 489.1h0M915.2 488.8h0M915.3 488.7h0M916.1 488.6h0M916.2 488.5h0M916.3 488.5h0M917.2 488.3h0M917.6 488.2h0M918.4 488h0M919.1 487.8h0M919.8 487.6h0M919.9 487.6h0M920.3 487.5h0M921.4 487.2h0M921.7 487.1h0M923.5 486.6h0M923.8 486.5h0M924 486.5h0M924.5 486.3h0M926.4 485.8h0M927.2 485.6h0M928.6 485.1h0M929.9 484.8h0M930.4 484.6h0M930.7 484.5h0M931.8 484.2h0M932.3 484.1h0M932.8 483.9h0M933.9 483.6h0M934.5 483.4h0M934.6 483.4h0M934.8 483.3h0M935 483.3h0M935.1 483.2h0M935.5 483.1h0M935.9 483h0M937 482.7h0M937.4 482.6h0M937.6 482.5h0M938.4 482.3h0M939.1 482.1h0M939.4 482h0M939.7 481.9h0M939.9 481.9h0M940.3 481.8h0M940.4 481.8h0M940.5 481.7h0M940.9 481.6h0M941.1 481.6h0M942 481.3h0M942.6 481.1h0M945.2 480.4h0M946.6 480h0M946.8 479.9h0M947.7 479.6h0M950.7 478.7h0M951.5 478.4h0M952.2 478.2h0M952.5 478.1h0M952.9 478h0M953.7 477.7h0M954.2 477.5h0M955.6 477h0M955.7 477h0M956.5 476.7h0M956.6 476.6h0M958 476.1h0M959.6 475.5h0M959.9 475.3h0M960.1 475.2h0M961.1 474.8h0M961.8 474.5h0M963.2 473.9h0M963.5 473.8h0M964.2 473.4h0M965.1 473h0M965.1 473h0M965.6 472.7h0M966.2 472.4h0M967.9 471.4h0M972.5 468.4h0M972.9 468.1h0M976.4 465.4h0M976.5 465.3h0M978.7 463.6h0M979.2 463.2h0M983.4 459.2h0M984 458.5h0M984.2 458.4h0M987.7 452.8h0M991.3 448.3h0M991.7 448h0M994.8 446h0M1015.9 430.5h0M1019.6 427.5h0"/>
<path d="M803.5 530.1h0M818.6 524.6h0M828.4 517.4h0M835.1 512.6h0M837.7 511.6h0M841.9 510.1h0M843.3 509.4h0M850.3 505.7h0M850.6 505.5h0M851.4 505.2h0M857 503.2h0M857.9 502.9h0M859.2 502.5h0M860.2 502.2h0M860.6 502.1h0M861 502h0M862.4 501.6h0M864.3 501h0M868.3 499.8h0M871.6 498.9h0M871.8 498.9h0M873 498.5h0M873.1 498.5h0M874.1 498.2h0M874.8 498.1h0M876.9 497.5h0M879.8 496.8h0M880.6 496.6h0M881 496.5h0M881.3 496.4h0M881.8 496.3h0M882.1 496.2h0M882.3 496.1h0M882.3 496.1h0M882.9 496h0M883.1 495.9h0M884.2 495.7h0M885.2 495.4h0M886.4 495.1h0M887 495h0M887.7 494.8h0M887.9 494.8h0M888.7 494.6h0M889.7 494.3h0M889.8 494.3h0M891.2 494h0M892.3 493.7h0M892.3 493.7h0M892.4 493.7h0M893 493.6h0M893.7 493.4h0M894.1 493.3h0M894.9 493.1h0M895.4 493h0M897.1 492.6h0M897.1 492.6h0M897.2 492.6h0M898 492.4h0M898.1 492.4h0M899.5 492.1h0M899.8 492h0M900.1 491.9h0M900.1 491.9h0M900.2 491.9h0M900.5 491.9h0M900.6 491.8h0M902.4 491.4h0M902.8 491.4h0M903.7 491.2h0M903.9 491.1h0M904.4 491h0M905.5 490.8h0M905.8 490.7h0M905.9 490.7h0M905.9 490.7h0M906 490.7h0M908.3 490.2h0M908.7 490.2h0M909.3 490h0M911.4 489.6h0M912.1 489.5h0M912.5 489.4h0M913.1 489.2h0M913.4 489.2h0M913.6 489.1h0M913.7 489.1h0M913.9 489.1h0M914.1 489h0M914.2 489h0M914.2 489h0M914.5 488.9h0M916.2 488.5h0M916.5 488.5h0M917.3 488.3h0M917.5 488.2h0M918.3 488h0M918.8 487.9h0M919.3 487.7h0M919.5 487.7h0M920.1 487.5h0M920.3 487.5h0M920.4 487.5h0M920.4 487.5h0M920.5 487.4h0M920.6 487.4h0M920.8 487.4h0M922.4 486.9h0M922.6 486.9h0M923.4 486.6h0M923.7 486.6h0M924.4 486.4h0M924.7 486.3h0M925.6 486h0M925.7 486h0M925.7 486h0M926 485.9h0M926.7 485.7h0M927.1 485.6h0M929.3 484.9h0M930.3 484.7h0M930.4 484.6h0M931.2 484.4h0M932.3 484.1h0M932.6 484h0M932.8 483.9h0M932.9 483.9h0M933.3 483.8h0M933.3 483.8h0M933.4 483.7h0M933.5 483.7h0M936.4 482.9h0M936.9 482.7h0M937.5 482.6h0M938.5 482.3h0M939.3 482.1h0M939.4 482h0M940.5 481.7h0M940.5 481.7h0M940.7 481.7h0M941.5 481.4h0M941.6 481.4h0M941.8 481.4h0M943.6 480.9h0M943.6 480.8h0M943.8 480.8h0M944.9 480.5h0M946.2 480.1h0M946.3 480.1h0M947 479.8h0M947.5 479.7h0M947.5 479.7h0M948.2 479.5h0M949 479.2h0M950.4 478.8h0M951 478.6h0M951.7 478.4h0M952.7 478h0M953.1 477.9h0M956 476.8h0M957.5 476.3h0M958.4 475.9h0M958.6 475.9h0M959.4 475.5h0M959.6 475.4h0M960.1 475.3h0M960.3 475.2h0M961.2 474.8h0M964 473.5h0M968.1 471.3h0M968.3 471.2h0M968.7 470.9h0M971.2 469.3h0M971.3 469.2h0M971.5 469.1h0M971.9 468.8h0M973.5 467.7h0M974.5 466.9h0M974.8 466.7h0M978.9 463.4h0M988.1 452.2h0M992 447.8h0M996 445.2h0M997.3 444.4h0M1001.3 442h0M1007.2 438.8h0"/>
<path d="M822.1 523.3h0M826.8 519h0M847 507.4h0M849.4 506.1h0M851.1 505.3h0M853.4 504.4h0M855.3 503.8h0M858.9 502.6h0M859 502.6h0M859.8 502.3h0M859.9 502.3h0M860.7 502.1h0M861.6 501.8h0M862.2 501.6h0M863 501.4h0M863.4 501.3h0M866.1 500.5h0M866.2 500.4h0M866.6 500.3h0M867.4 500.1h0M868.1 499.9h0M870.6 499.2h0M870.6 499.2h0M872 498.8h0M872.6 498.6h0M872.7 498.6h0M873.5 498.4h0M875.1 498h0M875.2 498h0M877.5 497.4h0M878.3 497.2h0M879 497h0M882.1 496.2h0M882.8 496h0M886 495.2h0M886.6 495.1h0M887.4 494.9h0M887.5 494.9h0M887.5 494.9h0M887.8 494.8h0M888.9 494.5h0M889.2 494.5h0M891 494h0M891.3 494h0M891.4 493.9h0M891.7 493.9h0M892.1 493.8h0M892.6 493.6h0M892.7 493.6h0M892.7 493.6h0M893.2 493.5h0M893.5 493.4h0M893.6 493.4h0M894 493.3h0M894.2 493.3h0M895.4 493h0M895.5 493h0M896 492.9h0M897.6 492.5h0M898 492.4h0M898.8 492.2h0M899 492.2h0M899.4 492.1h0M899.7 492h0M901.4 491.7h0M901.9 491.6h0M903.4 491.2h0M903.5 491.2h0M903.9 491.1h0M904.1 491.1h0M904.1 491.1h0M907.2 490.5h0M907.6 490.4h0M908 490.3h0M908.3 490.2h0M908.8 490.1h0M909.8 489.9h0M909.8 489.9h0M910.4 489.8h0M910.6 489.8h0M912.7 489.3h0M912.8 489.3h0M913 489.3h0M914.3 489h0M914.4 488.9h0M914.5 488.9h0M915.7 488.6h0M915.8 488.6h0M915.9 488.6h0M916 488.6h0M916.8 488.4h0M918.2 488h0M918.8 487.9h0M918.9 487.9h0M918.9 487.9h0M919 487.8h0M919 487.8h0M919.4 487.7h0M919.7 487.6h0M920.1 487.5h0M921 487.3h0M921.6 487.1h0M922 487h0M922.5 486.9h0M922.6 486.9h0M922.9 486.8h0M925.4 486.1h0M925.6 486h0M925.9 485.9h0M926 485.9h0M926.2 485.9h0M926.3 485.8h0M926.9 485.6h0M927.3 485.5h0M928.8 485.1h0M928.9 485.1h0M929 485h0M929.2 485h0M929.8 484.8h0M929.9 484.8h0M930.6 484.6h0M930.6 484.6h0M931 484.5h0M931.1 484.4h0M931.3 484.4h0M931.4 484.3h0M931.6 484.3h0M931.7 484.2h0M933.1 483.8h0M934.5 483.4h0M934.6 483.4h0M935.7 483.1h0M935.8 483.1h0M935.9 483h0M936.3 482.9h0M937.2 482.7h0M938.3 482.3h0M938.8 482.2h0M938.9 482.2h0M939.6 482h0M939.8 481.9h0M941.9 481.3h0M942.4 481.2h0M944.2 480.7h0M944.7 480.5h0M945.1 480.4h0M947.2 479.8h0M949.2 479.2h0M949.6 479.1h0M949.9 478.9h0M951.1 478.6h0M951.6 478.4h0M951.8 478.3h0M951.9 478.3h0M953.1 477.9h0M953.2 477.9h0M956.4 476.7h0M957.2 476.4h0M959.8 475.4h0M960.3 475.2h0M960.8 475h0M962 474.4h0M963.6 473.7h0M965 473h0M967.9 471.4h0M969.4 470.5h0M970.6 469.7h0M971 469.4h0M971.6 469h0M976.3 465.5h0M977.5 464.6h0M977.6 464.5h0M977.8 464.3h0M978.4 463.8h0M980.5 462.1h0M981.5 461.2h0M981.9 460.8h0M989.3 450.3h0M990.4 449h0M992.5 447.5h0M999 443.4h0M1002.1 441.5h0M1033.7 415.1h0"/>
<path d="M822.9 522.7h0M835.8 512.3h0M840.4 510.6h0M850.9 505.4h0M852.8 504.7h0M853.8 504.3h0M857.4 503.1h0M862.5 501.5h0M862.9 501.4h0M864.1 501h0M867.8 500h0M868.1 499.9h0M868.8 499.7h0M869.4 499.5h0M869.6 499.5h0M869.8 499.4h0M870 499.3h0M871.2 499h0M875 498h0M875.8 497.8h0M879.1 497h0M880.9 496.5h0M882 496.2h0M882.5 496.1h0M883 496h0M883.7 495.8h0M883.9 495.7h0M884.1 495.7h0M884.2 495.7h0M884.5 495.6h0M884.7 495.6h0M885.3 495.4h0M885.4 495.4h0M885.9 495.2h0M887.2 494.9h0M888.3 494.7h0M888.6 494.6h0M888.9 494.5h0M888.9 494.5h0M890.2 494.2h0M890.3 494.2h0M890.4 494.2h0M890.8 494.1h0M891.1 494h0M891.2 494h0M891.9 493.8h0M892 493.8h0M892.9 493.6h0M893.1 493.5h0M894.1 493.3h0M894.4 493.2h0M894.6 493.2h0M895 493.1h0M895.6 493h0M896.2 492.8h0M896.4 492.8h0M898 492.4h0M898.8 492.2h0M899 492.2h0M899.6 492.1h0M899.9 492h0M900.9 491.8h0M901.6 491.6h0M902.8 491.4h0M903.3 491.3h0M904.2 491.1h0M904.8 491h0M905.4 490.8h0M905.5 490.8h0M905.8 490.8h0M906 490.7h0M906.2 490.7h0M908 490.3h0M908.6 490.2h0M909 490.1h0M909.3 490h0M909.6 490h0M909.6 490h0M911.1 489.7h0M911.3 489.6h0M911.5 489.6h0M911.7 489.5h0M911.8 489.5h0M912.6 489.3h0M913.4 489.2h0M913.5 489.1h0M913.6 489.1h0M913.9 489h0M914.6 488.9h0M915.3 488.7h0M916.5 488.4h0M916.6 488.4h0M917.3 488.3h0M917.3 488.2h0M917.6 488.2h0M917.9 488.1h0M918 488.1h0M918.4 488h0M918.6 487.9h0M919.9 487.6h0M921.2 487.2h0M921.7 487.1h0M922.6 486.9h0M922.9 486.8h0M923.2 486.7h0M924.1 486.4h0M924.2 486.4h0M924.8 486.3h0M924.9 486.2h0M925 486.2h0M925.9 485.9h0M926.2 485.8h0M926.6 485.7h0M926.7 485.7h0M927 485.6h0M927.4 485.5h0M928.1 485.3h0M929.1 485h0M929.2 485h0M929.3 485h0M929.6 484.9h0M933.8 483.6h0M933.9 483.6h0M934.1 483.5h0M934.4 483.5h0M935.2 483.2h0M935.3 483.2h0M935.4 483.2h0M937.4 482.6h0M938.1 482.4h0M938.6 482.3h0M938.7 482.2h0M939.7 482h0M940.8 481.6h0M941.2 481.5h0M941.3 481.5h0M942.1 481.3h0M943.8 480.8h0M944 480.7h0M944.1 480.7h0M945.2 480.4h0M945.6 480.3h0M947.5 479.7h0M947.6 479.7h0M948.3 479.4h0M948.4 479.4h0M948.8 479.3h0M949.7 479h0M950.2 478.9h0M950.4 478.8h0M950.6 478.7h0M951 478.6h0M952 478.3h0M952.2 478.2h0M953.6 477.7h0M954.1 477.5h0M954.4 477.4h0M958.6 475.9h0M958.7 475.8h0M958.8 475.8h0M961.3 474.8h0M961.4 474.7h0M961.6 474.6h0M963.1 473.9h0M965.3 472.8h0M967.6 471.6h0M969.1 470.7h0M969.5 470.4h0M969.7 470.3h0M969.8 470.3h0M970 470.1h0M973.6 467.6h0M973.7 467.5h0M976.9 465.1h0M977 465h0M977.7 464.4h0M978.1 464.1h0M981.6 461h0M982.3 460.3h0M983.1 459.6h0M985.3 456.8h0M986.6 454.8h0M986.9 454.2h0M988.9 450.9h0M998.3 443.8h0M1006.6 439.2h0"/>
<path d="M824.3 521.5h0M831.7 514.8h0M836.1 512.2h0M846.1 507.9h0M854.1 504.2h0M854.5 504.1h0M854.7 504h0M856.7 503.3h0M858.8 502.6h0M860.3 502.2h0M861.4 501.9h0M861.5 501.8h0M866.8 500.3h0M867.1 500.2h0M867.3 500.1h0M867.5 500h0M869.5 499.5h0M870.8 499.1h0M871.2 499h0M872.6 498.7h0M875.3 497.9h0M876.2 497.7h0M876.4 497.6h0M876.6 497.6h0M876.8 497.6h0M877 497.5h0M877.7 497.3h0M878.1 497.2h0M878.2 497.2h0M879.1 496.9h0M879.4 496.9h0M880.5 496.6h0M880.5 496.6h0M881.7 496.3h0M881.9 496.2h0M883.4 495.9h0M884.3 495.6h0M885 495.5h0M886.3 495.2h0M888 494.7h0M889.8 494.3h0M890.1 494.2h0M890.4 494.2h0M890.6 494.1h0M891.2 494h0M891.4 493.9h0M891.6 493.9h0M893 493.6h0M893.4 493.5h0M895.9 492.9h0M896.9 492.7h0M897 492.6h0M897.5 492.5h0M897.7 492.5h0M898.2 492.4h0M898.3 492.3h0M898.6 492.3h0M899.6 492h0M899.7 492h0M900.2 491.9h0M900.3 491.9h0M900.4 491.9h0M900.5 491.9h0M900.7 491.8h0M901 491.8h0M901.1 491.7h0M901.5 491.6h0M901.6 491.6h0M902.5 491.4h0M902.9 491.3h0M904 491.1h0M904.2 491.1h0M905.2 490.9h0M906.3 490.6h0M907.5 490.4h0M907.5 490.4h0M908.2 490.3h0M908.3 490.2h0M910.7 489.7h0M911.3 489.6h0M911.4 489.6h0M911.4 489.6h0M912.3 489.4h0M913.2 489.2h0M913.8 489.1h0M914.1 489h0M914.9 488.8h0M915 488.8h0M915.1 488.8h0M915.8 488.6h0M915.9 488.6h0M916.2 488.5h0M916.3 488.5h0M916.9 488.3h0M917.1 488.3h0M918.7 487.9h0M918.9 487.8h0M919.2 487.8h0M919.6 487.7h0M922.6 486.9h0M922.8 486.8h0M924 486.5h0M924.5 486.3h0M926.3 485.8h0M927.5 485.5h0M927.6 485.4h0M927.8 485.4h0M928.4 485.2h0M928.4 485.2h0M930.5 484.6h0M931 484.5h0M932.2 484.1h0M932.9 483.9h0M933 483.9h0M933.5 483.7h0M934.4 483.5h0M935.6 483.1h0M936.1 483h0M936.5 482.8h0M936.6 482.8h0M936.8 482.8h0M937.2 482.6h0M937.9 482.5h0M938.6 482.3h0M939.7 481.9h0M941.2 481.5h0M942.6 481.1h0M942.7 481.1h0M943 481h0M943.4 480.9h0M944.5 480.6h0M945.7 480.2h0M946 480.1h0M946 480.1h0M946.8 479.9h0M946.9 479.9h0M948.3 479.5h0M948.6 479.4h0M950.4 478.8h0M950.5 478.7h0M951.8 478.3h0M952.3 478.2h0M953.4 477.8h0M953.4 477.8h0M954.3 477.5h0M954.8 477.3h0M956.9 476.5h0M957 476.5h0M957.4 476.3h0M957.5 476.3h0M958.3 476h0M960.6 475.1h0M963.6 473.7h0M963.9 473.6h0M964.3 473.4h0M964.6 473.2h0M964.7 473.2h0M967.2 471.8h0M968.2 471.3h0M973.3 467.8h0M973.8 467.5h0M976.1 465.7h0M979.1 463.3h0M979.3 463.1h0M980.1 462.4h0M986.2 455.4h0M988.3 451.8h0M1007.8 438.5h0"/>
<path d="M825.6 520.2h0M834.1 513.2h0M839.1 511.1h0M841.2 510.3h0M846.8 507.5h0M852.5 504.8h0M853.2 504.5h0M854 504.2h0M855.8 503.6h0M856.5 503.4h0M857.1 503.2h0M860.5 502.1h0M861.2 501.9h0M861.8 501.7h0M862.8 501.4h0M863.6 501.2h0M864.1 501.1h0M864.5 500.9h0M865.4 500.7h0M867 500.2h0M867.6 500h0M868.2 499.9h0M870.4 499.2h0M871.6 498.9h0M872.1 498.8h0M873.2 498.5h0M874.2 498.2h0M874.4 498.2h0M875.4 497.9h0M875.4 497.9h0M875.5 497.9h0M877.5 497.4h0M879.3 496.9h0M879.5 496.8h0M880.7 496.5h0M880.8 496.5h0M883.5 495.8h0M884 495.7h0M884.9 495.5h0M885.2 495.4h0M885.3 495.4h0M886 495.2h0M886.1 495.2h0M886.6 495.1h0M887.9 494.8h0M888.2 494.7h0M888.5 494.6h0M889.9 494.3h0M890.6 494.1h0M891.8 493.8h0M892 493.8h0M892.2 493.7h0M892.2 493.7h0M892.6 493.7h0M892.9 493.6h0M893.3 493.5h0M893.4 493.5h0M893.5 493.4h0M894.2 493.3h0M895.1 493.1h0M895.2 493.1h0M895.3 493h0M895.8 492.9h0M897.8 492.4h0M898.7 492.3h0M899.5 492.1h0M900.3 491.9h0M900.4 491.9h0M901.1 491.7h0M901.1 491.7h0M901.2 491.7h0M901.8 491.6h0M901.8 491.6h0M902.2 491.5h0M903 491.3h0M904.6 491h0M905 490.9h0M905 490.9h0M905.7 490.8h0M906.6 490.6h0M907.6 490.4h0M907.7 490.4h0M908.3 490.3h0M909.2 490.1h0M909.4 490h0M911.5 489.6h0M911.7 489.5h0M912.3 489.4h0M913.9 489.1h0M914.2 489h0M914.8 488.9h0M914.8 488.8h0M915.5 488.7h0M915.6 488.7h0M917.2 488.3h0M917.5 488.2h0M917.9 488.1h0M918 488.1h0M918.1 488.1h0M919.1 487.8h0M919.4 487.7h0M919.6 487.7h0M920 487.6h0M922.1 487h0M922.7 486.8h0M923.3 486.7h0M923.6 486.6h0M923.7 486.6h0M923.9 486.5h0M924.3 486.4h0M925.1 486.2h0M925.1 486.2h0M925.5 486h0M925.7 486h0M926 485.9h0M926.1 485.9h0M926.1 485.9h0M926.4 485.8h0M926.6 485.7h0M926.8 485.7h0M927.3 485.5h0M927.9 485.4h0M928.7 485.1h0M929.1 485h0M929.4 484.9h0M929.5 484.9h0M929.7 484.9h0M931.1 484.4h0M931.3 484.4h0M932.5 484h0M932.7 484h0M934.7 483.4h0M934.9 483.3h0M935.7 483.1h0M935.9 483h0M936.8 482.8h0M937 482.7h0M937.6 482.6h0M940 481.9h0M940.2 481.8h0M940.3 481.8h0M940.6 481.7h0M940.7 481.7h0M941 481.6h0M942.2 481.2h0M942.7 481.1h0M942.8 481.1h0M943.1 481h0M943.2 481h0M943.4 480.9h0M944.3 480.6h0M945 480.4h0M945.4 480.3h0M946 480.2h0M946.2 480.1h0M947 479.9h0M948.5 479.4h0M949.9 479h0M950.1 478.9h0M950.3 478.8h0M951.1 478.6h0M951.4 478.5h0M952.7 478h0M953.2 477.9h0M953.3 477.8h0M954.7 477.3h0M955.2 477.2h0M955.3 477.1h0M955.4 477.1h0M955.4 477.1h0M957.9 476.1h0M959.3 475.6h0M961.5 474.7h0M961.6 474.6h0M962.4 474.3h0M965.2 472.9h0M965.9 472.5h0M966.2 472.4h0M966.5 472.3h0M967.3 471.8h0M967.5 471.7h0M968.8 470.8h0M972 468.7h0M975.7 466h0M975.8 465.9h0M976.8 465.2h0M982 460.6h0M984.8 457.6h0M989.5 450h0M990.6 448.8h0M993.2 447h0M995.7 445.4h0M997.9 444h0M1000.1 442.7h0M1029.9 415.4h0"/>
<path d="M794.3 535.8h0M819.5 524.3h0M834.8 512.8h0M840.2 510.7h0M846.6 507.6h0M847.2 507.3h0M847.4 507.2h0M855.2 503.8h0M859.5 502.4h0M862.1 501.6h0M864 501.1h0M864.6 500.9h0M864.9 500.8h0M865.9 500.5h0M866.4 500.4h0M868.4 499.8h0M868.5 499.8h0M869.1 499.6h0M869.3 499.5h0M870.2 499.3h0M871.8 498.9h0M872 498.8h0M873.5 498.4h0M875.2 498h0M875.6 497.9h0M878.8 497h0M879 497h0M880.1 496.7h0M883.2 495.9h0M883.4 495.9h0M883.9 495.7h0M884.3 495.6h0M884.7 495.5h0M885.4 495.4h0M885.8 495.3h0M886.1 495.2h0M887.1 495h0M887.3 494.9h0M888.2 494.7h0M888.4 494.7h0M889.5 494.4h0M889.6 494.4h0M890.4 494.2h0M891.1 494h0M891.7 493.9h0M893.5 493.4h0M893.8 493.4h0M895.6 492.9h0M896 492.9h0M898.7 492.3h0M899.1 492.1h0M899.2 492.1h0M900.8 491.8h0M901.3 491.7h0M902.2 491.5h0M902.4 491.5h0M903.2 491.3h0M903.4 491.2h0M904.2 491.1h0M904.4 491h0M906.5 490.6h0M907.1 490.5h0M907.3 490.4h0M907.4 490.4h0M907.5 490.4h0M907.6 490.4h0M908.2 490.3h0M908.5 490.2h0M909.6 490h0M910.6 489.8h0M911 489.7h0M911.2 489.6h0M911.4 489.6h0M911.6 489.5h0M911.8 489.5h0M911.8 489.5h0M911.9 489.5h0M912.4 489.4h0M912.9 489.3h0M913.3 489.2h0M915.6 488.7h0M917 488.3h0M917.2 488.3h0M917.2 488.3h0M917.4 488.2h0M917.4 488.2h0M917.8 488.1h0M917.8 488.1h0M918.5 488h0M919.9 487.6h0M920.7 487.4h0M920.7 487.4h0M920.8 487.3h0M921.3 487.2h0M921.6 487.1h0M922 487h0M922.5 486.9h0M923.2 486.7h0M923.3 486.7h0M923.8 486.5h0M924.1 486.4h0M924.9 486.2h0M925 486.2h0M925.4 486.1h0M925.5 486.1h0M925.9 486h0M926.4 485.8h0M927.9 485.4h0M928.1 485.3h0M928.8 485.1h0M929 485h0M929.3 485h0M930.6 484.6h0M931.5 484.3h0M931.7 484.3h0M932 484.2h0M932.4 484h0M932.5 484h0M933.2 483.8h0M935.3 483.2h0M935.8 483.1h0M937.1 482.7h0M937.7 482.5h0M937.8 482.5h0M938 482.4h0M938.1 482.4h0M939.3 482.1h0M940.1 481.8h0M941.3 481.5h0M941.6 481.4h0M941.9 481.3h0M942.4 481.2h0M942.6 481.1h0M943 481h0M943.3 480.9h0M943.4 480.9h0M943.6 480.8h0M943.7 480.8h0M944.2 480.7h0M944.4 480.6h0M944.7 480.5h0M945.2 480.4h0M945.8 480.2h0M945.9 480.2h0M946.1 480.1h0M946.8 479.9h0M947.2 479.8h0M947.9 479.6h0M949.7 479h0M950 478.9h0M951.6 478.4h0M951.9 478.3h0M953.5 477.8h0M955.9 476.9h0M956.1 476.8h0M956.7 476.6h0M956.8 476.6h0M957.6 476.3h0M957.7 476.2h0M960.6 475h0M961.1 474.8h0M961.8 474.5h0M964.1 473.5h0M964.8 473.1h0M965.6 472.7h0M966.4 472.3h0M967.4 471.7h0M968.6 471h0M968.9 470.8h0M969 470.7h0M970.5 469.8h0M972.8 468.2h0M974 467.3h0M975.2 466.4h0M975.3 466.3h0M977.2 464.8h0M977.4 464.7h0M980.2 462.3h0M980.8 461.8h0M983.2 459.4h0M984.3 458.2h0M986.4 455.1h0M986.8 454.5h0M992.2 447.7h0M994.6 446.1h0M1024.8 419.4h0"/>
<path d="M799.7 530.9h0M820.4 524.1h0M830.4 515.8h0M834.4 513h0M845.7 508.1h0M849.1 506.3h0M852.9 504.6h0M855.9 503.6h0M856.9 503.3h0M857.3 503.1h0M858.1 502.9h0M859.6 502.4h0M865.6 500.6h0M867.5 500.1h0M869 499.6h0M869.2 499.6h0M869.9 499.4h0M871 499.1h0M872.3 498.7h0M872.5 498.7h0M873.8 498.3h0M874.1 498.3h0M875.5 497.9h0M876.8 497.5h0M877.1 497.5h0M878.4 497.1h0M878.6 497.1h0M879.3 496.9h0M883.7 495.8h0M884.5 495.6h0M884.9 495.5h0M886.3 495.1h0M886.7 495.1h0M887.6 494.8h0M888.7 494.6h0M889.1 494.5h0M889.6 494.4h0M889.7 494.3h0M891.4 493.9h0M893.2 493.5h0M894.1 493.3h0M894.3 493.2h0M894.7 493.2h0M894.8 493.1h0M896 492.9h0M896.1 492.8h0M896.7 492.7h0M897 492.6h0M898.6 492.3h0M900 492h0M900.7 491.8h0M901 491.7h0M901.3 491.7h0M901.8 491.6h0M902.3 491.5h0M902.5 491.4h0M902.9 491.4h0M903.2 491.3h0M903.6 491.2h0M904 491.1h0M905 490.9h0M905.2 490.9h0M906.7 490.6h0M907.3 490.4h0M907.5 490.4h0M908.1 490.3h0M908.9 490.1h0M909 490.1h0M909 490.1h0M909.2 490.1h0M910 489.9h0M910.8 489.7h0M911.7 489.5h0M912.2 489.4h0M912.4 489.4h0M912.6 489.3h0M913.9 489h0M914 489h0M914 489h0M914.6 488.9h0M914.9 488.8h0M915.7 488.6h0M916.4 488.5h0M917.1 488.3h0M917.6 488.2h0M917.7 488.1h0M917.9 488.1h0M918.4 488h0M918.5 487.9h0M918.7 487.9h0M919.1 487.8h0M919.2 487.8h0M919.8 487.6h0M920 487.6h0M920.9 487.3h0M921.7 487.1h0M922 487h0M922.7 486.8h0M923 486.8h0M923.2 486.7h0M923.8 486.5h0M924.4 486.4h0M926.3 485.8h0M927.4 485.5h0M927.4 485.5h0M927.7 485.4h0M928.9 485.1h0M929.8 484.8h0M930.1 484.7h0M930.2 484.7h0M930.5 484.6h0M931.2 484.4h0M931.3 484.4h0M932.1 484.1h0M932.4 484h0M932.5 484h0M933.1 483.8h0M933.4 483.8h0M933.9 483.6h0M934.2 483.5h0M934.2 483.5h0M934.3 483.5h0M934.7 483.4h0M935 483.3h0M935.3 483.2h0M935.4 483.2h0M935.8 483h0M936 483h0M937.7 482.5h0M938.7 482.2h0M939.2 482.1h0M939.6 482h0M939.6 482h0M940.8 481.6h0M941 481.6h0M941.1 481.5h0M941.2 481.5h0M941.5 481.5h0M942.3 481.2h0M942.8 481.1h0M943 481h0M944.4 480.6h0M945.9 480.2h0M946.7 479.9h0M947.1 479.8h0M947.3 479.8h0M947.9 479.6h0M948.3 479.5h0M948.4 479.4h0M948.6 479.4h0M949.3 479.1h0M949.8 479h0M949.8 479h0M950.3 478.8h0M950.6 478.7h0M952 478.3h0M952.6 478.1h0M954.2 477.5h0M954.5 477.4h0M954.9 477.3h0M955.1 477.2h0M955.7 477h0M956 476.9h0M956.3 476.8h0M958.7 475.8h0M959.9 475.3h0M960.4 475.1h0M962.8 474.1h0M963.8 473.6h0M964.6 473.2h0M969.3 470.5h0M971.8 468.9h0M973.4 467.7h0M974.7 466.8h0M974.9 466.6h0M975.4 466.2h0M978.6 463.7h0M980 462.6h0M980.9 461.7h0M982.9 459.7h0M983.9 458.7h0M984.5 458h0M991 448.4h0M993 447.2h0M993.5 446.8h0M994 446.5h0M1000.5 442.5h0M1002.6 441.3h0M1003 441h0M1012.1 434.7h0M1013.9 432.6h0M1022.8 424.8h0M1039.1 405.6h0"/>
<path d="M830.8 515.5h0M836.8 511.9h0M837.1 511.8h0M837.4 511.7h0M839.6 510.9h0M842.6 509.8h0M850 505.8h0M850.8 505.5h0M852.1 504.9h0M852.4 504.8h0M852.6 504.7h0M853.6 504.4h0M855.1 503.8h0M855.7 503.6h0M856.4 503.4h0M860.4 502.1h0M864.2 501h0M864.6 500.9h0M865.5 500.6h0M866.9 500.2h0M873.4 498.4h0M874.4 498.2h0M874.7 498.1h0M877.6 497.3h0M878 497.2h0M878.4 497.1h0M878.9 497h0M879.7 496.8h0M880.2 496.7h0M880.3 496.6h0M880.4 496.6h0M880.4 496.6h0M882.1 496.2h0M882.2 496.2h0M882.5 496.1h0M883.8 495.8h0M884 495.7h0M885.5 495.3h0M885.7 495.3h0M885.7 495.3h0M886.9 495h0M888.8 494.6h0M889.3 494.4h0M890.1 494.2h0M890.2 494.2h0M891.8 493.8h0M891.9 493.8h0M893.2 493.5h0M893.4 493.5h0M895.3 493h0M896.7 492.7h0M897.1 492.6h0M897.2 492.6h0M900.8 491.8h0M901 491.7h0M902 491.5h0M902.2 491.5h0M902.3 491.5h0M903.2 491.3h0M905.8 490.7h0M906.1 490.7h0M906.2 490.7h0M906.4 490.6h0M906.6 490.6h0M906.7 490.6h0M906.8 490.6h0M906.8 490.5h0M906.8 490.5h0M907.2 490.5h0M908.1 490.3h0M908.1 490.3h0M909 490.1h0M909.5 490h0M909.9 489.9h0M910.1 489.9h0M910.2 489.8h0M911.2 489.6h0M912 489.5h0M912.1 489.4h0M913 489.2h0M913.2 489.2h0M913.4 489.2h0M913.6 489.1h0M914.1 489h0M914.5 488.9h0M914.6 488.9h0M914.7 488.9h0M915.4 488.7h0M915.5 488.7h0M916.2 488.5h0M916.7 488.4h0M918.1 488h0M918.2 488h0M918.6 487.9h0M919.4 487.7h0M920 487.6h0M920.9 487.3h0M921 487.3h0M921.2 487.3h0M921.5 487.2h0M923 486.8h0M923.1 486.7h0M924.6 486.3h0M924.6 486.3h0M924.8 486.2h0M925.8 486h0M926.8 485.7h0M928.2 485.3h0M928.3 485.2h0M928.4 485.2h0M928.6 485.2h0M928.6 485.2h0M929 485.1h0M929.1 485h0M929.5 484.9h0M930.9 484.5h0M930.9 484.5h0M932.1 484.1h0M932.6 484h0M932.8 483.9h0M933.4 483.8h0M933.7 483.7h0M933.8 483.6h0M934.3 483.5h0M935.1 483.3h0M936.6 482.8h0M937.8 482.5h0M938.2 482.4h0M938.3 482.3h0M938.4 482.3h0M938.5 482.3h0M939 482.1h0M939.9 481.9h0M940 481.9h0M940.9 481.6h0M941.5 481.4h0M941.8 481.4h0M942.2 481.2h0M942.8 481.1h0M943.2 480.9h0M943.5 480.9h0M944.9 480.5h0M945.3 480.3h0M945.5 480.3h0M946.4 480h0M946.9 479.9h0M947.6 479.7h0M948 479.5h0M948 479.5h0M948.9 479.3h0M949.1 479.2h0M949.1 479.2h0M949.4 479.1h0M949.5 479.1h0M950 478.9h0M950.7 478.7h0M951.2 478.5h0M951.3 478.5h0M952.1 478.2h0M953.6 477.7h0M955.9 476.9h0M956.2 476.8h0M958.5 475.9h0M958.5 475.9h0M958.9 475.8h0M959.2 475.6h0M959.7 475.4h0M961.3 474.7h0M963 474h0M963.4 473.8h0M965.4 472.8h0M965.8 472.6h0M966.1 472.5h0M968.8 470.9h0M969.3 470.6h0M970.3 469.9h0M973.2 467.9h0M975 466.5h0M977.9 464.2h0M978.2 464h0M978.3 463.9h0M978.8 463.5h0M979.6 462.9h0M981.2 461.4h0M982.2 460.5h0M989.7 449.7h0M991.5 448.1h0M996.6 444.8h0M998.6 443.6h0M1011.3 435.7h0"/>
<path d="M826.2 519.6h0M827.4 518.4h0M833.3 513.7h0M833.7 513.4h0M842.4 509.9h0M843.7 509.2h0M844.5 508.8h0M848.1 506.8h0M848.4 506.6h0M849.5 506h0M856 503.5h0M857.2 503.1h0M860.1 502.2h0M860.8 502h0M863.7 501.2h0M868.9 499.7h0M870 499.4h0M871.7 498.9h0M873.6 498.4h0M875.8 497.8h0M876.4 497.7h0M876.5 497.6h0M879.9 496.8h0M879.9 496.7h0M881.3 496.4h0M881.4 496.4h0M883.3 495.9h0M885.1 495.5h0M885.6 495.3h0M885.9 495.3h0M886.5 495.1h0M886.9 495h0M886.9 495h0M888.1 494.7h0M888.5 494.6h0M889.4 494.4h0M889.4 494.4h0M889.5 494.4h0M890.3 494.2h0M892.4 493.7h0M892.8 493.6h0M893.6 493.4h0M893.7 493.4h0M893.8 493.4h0M894 493.3h0M895.5 493h0M895.7 492.9h0M896.3 492.8h0M896.5 492.7h0M896.6 492.7h0M897.4 492.6h0M897.7 492.5h0M900 492h0M901.7 491.6h0M901.7 491.6h0M902 491.5h0M902.6 491.4h0M902.6 491.4h0M902.7 491.4h0M903.7 491.2h0M904.6 491h0M905.5 490.8h0M905.6 490.8h0M906.1 490.7h0M906.5 490.6h0M906.7 490.6h0M906.9 490.5h0M907 490.5h0M907.1 490.5h0M907.9 490.3h0M908 490.3h0M908.4 490.2h0M908.6 490.2h0M910 489.9h0M910.5 489.8h0M910.7 489.8h0M910.8 489.7h0M910.9 489.7h0M912.4 489.4h0M912.5 489.4h0M912.8 489.3h0M912.9 489.3h0M913.3 489.2h0M915.1 488.8h0M915.4 488.7h0M916 488.6h0M916.6 488.4h0M917.7 488.2h0M919.5 487.7h0M921 487.3h0M921.3 487.2h0M923.9 486.5h0M924 486.5h0M924.1 486.5h0M924.5 486.3h0M925.1 486.2h0M925.2 486.1h0M925.4 486.1h0M926.2 485.9h0M926.5 485.8h0M926.6 485.7h0M926.8 485.7h0M927 485.6h0M927.1 485.6h0M927.5 485.5h0M927.7 485.4h0M928.3 485.2h0M928.9 485.1h0M929.4 484.9h0M929.4 484.9h0M929.7 484.8h0M929.7 484.8h0M930.2 484.7h0M930.5 484.6h0M930.8 484.5h0M931.2 484.4h0M931.6 484.3h0M931.7 484.3h0M931.8 484.2h0M931.9 484.2h0M932 484.2h0M933.2 483.8h0M933.3 483.8h0M933.6 483.7h0M933.8 483.6h0M934 483.6h0M934 483.6h0M934.1 483.6h0M934.4 483.5h0M935.6 483.1h0M936.1 483h0M936.2 483h0M936.2 482.9h0M936.3 482.9h0M936.8 482.8h0M937.1 482.7h0M937.8 482.5h0M938.1 482.4h0M938.5 482.3h0M938.8 482.2h0M939.5 482h0M939.8 481.9h0M941 481.6h0M942.1 481.3h0M943.3 480.9h0M943.8 480.8h0M943.9 480.8h0M943.9 480.8h0M944.7 480.5h0M945.7 480.2h0M945.8 480.2h0M946.1 480.1h0M946.3 480h0M947.2 479.8h0M947.8 479.6h0M948.1 479.5h0M950.8 478.7h0M951.3 478.5h0M952.1 478.2h0M952.8 478h0M953.8 477.7h0M954.6 477.4h0M955.2 477.1h0M955.5 477h0M957.1 476.4h0M957.3 476.4h0M958.9 475.7h0M960.4 475.1h0M960.9 474.9h0M961 474.9h0M962.2 474.4h0M964.5 473.3h0M967.8 471.5h0M968 471.3h0M971.4 469.2h0M973.1 468h0M975.5 466.1h0M976.2 465.6h0M976.7 465.3h0M979.7 462.8h0M981.3 461.3h0M982.6 460h0M985.9 456h0M986 455.7h0M987.9 452.5h0M988.7 451.2h0M989.1 450.5h0M1021.1 426.5h0"/>
<path d="M810.6 528.7h0M829 517h0M839.9 510.8h0M841.4 510.2h0M844.3 508.9h0M850.5 505.6h0M856.3 503.4h0M856.6 503.3h0M858.4 502.8h0M858.6 502.7h0M861.1 501.9h0M861.3 501.9h0M861.8 501.8h0M862 501.7h0M863.3 501.3h0M865.1 500.7h0M866.3 500.4h0M866.5 500.4h0M867.7 500h0M867.8 500h0M868 499.9h0M868.6 499.7h0M869.6 499.5h0M870.5 499.2h0M870.7 499.2h0M870.8 499.1h0M871 499.1h0M872.9 498.6h0M873 498.6h0M873.3 498.5h0M873.7 498.4h0M874.2 498.2h0M874.5 498.2h0M877 497.5h0M877.2 497.4h0M878.3 497.1h0M878.5 497.1h0M878.5 497.1h0M878.6 497.1h0M878.8 497h0M878.9 497h0M879.4 496.9h0M881.7 496.3h0M881.9 496.3h0M883.2 495.9h0M884.2 495.7h0M887.7 494.8h0M888 494.8h0M888.3 494.7h0M888.5 494.6h0M889.2 494.5h0M890 494.3h0M890.5 494.1h0M891 494h0M891.5 493.9h0M892.8 493.6h0M893.7 493.4h0M894.8 493.1h0M894.9 493.1h0M895.8 492.9h0M896.1 492.8h0M897.5 492.5h0M897.6 492.5h0M898.1 492.4h0M898.2 492.4h0M898.4 492.3h0M898.9 492.2h0M899.2 492.1h0M899.6 492h0M899.8 492h0M901.4 491.7h0M902 491.5h0M902.3 491.5h0M904.3 491.1h0M905.1 490.9h0M905.2 490.9h0M905.3 490.9h0M905.7 490.8h0M906.1 490.7h0M906.4 490.6h0M906.9 490.5h0M907 490.5h0M907.2 490.5h0M907.3 490.5h0M908.4 490.2h0M908.8 490.1h0M909.9 489.9h0M910.1 489.9h0M910.2 489.9h0M910.8 489.7h0M911.9 489.5h0M912 489.5h0M912 489.5h0M912.2 489.4h0M913.7 489.1h0M914.4 488.9h0M914.8 488.8h0M915 488.8h0M916.9 488.4h0M917 488.3h0M917.7 488.2h0M918 488.1h0M918.3 488h0M919 487.8h0M919 487.8h0M920.9 487.3h0M921.5 487.2h0M922.1 487h0M922.2 487h0M923.2 486.7h0M923.9 486.5h0M924.8 486.3h0M925.2 486.1h0M925.8 486h0M928.2 485.3h0M928.5 485.2h0M928.5 485.2h0M928.8 485.1h0M929.6 484.9h0M929.8 484.8h0M929.9 484.8h0M930.4 484.6h0M931.5 484.3h0M931.8 484.2h0M933 483.9h0M934.3 483.5h0M934.8 483.3h0M936.5 482.9h0M936.7 482.8h0M937.2 482.7h0M937.9 482.4h0M938 482.4h0M938.4 482.3h0M939 482.2h0M940.1 481.8h0M940.2 481.8h0M941.4 481.5h0M944.6 480.6h0M944.8 480.5h0M945.4 480.3h0M945.6 480.3h0M946.5 480h0M946.7 479.9h0M948.1 479.5h0M949.5 479.1h0M951.4 478.5h0M951.7 478.4h0M953.7 477.7h0M954.9 477.2h0M956.3 476.7h0M956.4 476.7h0M956.7 476.6h0M957.9 476.1h0M960.9 474.9h0M964.3 473.3h0M966.5 472.2h0M966.8 472h0M968.4 471.2h0M970.8 469.5h0M970.9 469.5h0M972.3 468.5h0M979.8 462.7h0M992.7 447.3h0M1006 439.5h0M1009.1 437.6h0M1010.5 436.5h0M1013 433.7h0M1017 429.6h0M1027.1 418.1h0"/>
<path d="M816.4 525.3h0M829.4 516.6h0M840.9 510.4h0M842.8 509.7h0M843.9 509.1h0M846.3 507.8h0M848.2 506.7h0M848.9 506.4h0M851.5 505.2h0M853.7 504.3h0M855.5 503.7h0M858.5 502.7h0M858.7 502.7h0M859.7 502.4h0M861.7 501.8h0M861.9 501.7h0M863.2 501.3h0M863.9 501.1h0M864.4 501h0M864.8 500.8h0M865 500.8h0M868.3 499.8h0M871.4 499h0M872.5 498.7h0M874.9 498h0M876.3 497.7h0M877.3 497.4h0M877.4 497.4h0M878 497.2h0M879.6 496.8h0M881.5 496.3h0M881.6 496.3h0M882.7 496h0M883.3 495.9h0M883.5 495.8h0M884.4 495.6h0M886.8 495h0M888.1 494.7h0M889.3 494.4h0M890.7 494.1h0M891.3 494h0M891.7 493.9h0M892.9 493.6h0M893.1 493.5h0M893.9 493.4h0M894 493.3h0M895.1 493.1h0M896.1 492.8h0M896.5 492.7h0M896.6 492.7h0M896.9 492.7h0M897.4 492.5h0M898.4 492.3h0M898.5 492.3h0M898.9 492.2h0M898.9 492.2h0M899.1 492.2h0M900.4 491.9h0M900.7 491.8h0M901.5 491.6h0M901.9 491.5h0M902.8 491.4h0M903 491.3h0M903.1 491.3h0M903.3 491.3h0M903.5 491.2h0M903.6 491.2h0M903.8 491.2h0M904.8 491h0M904.8 490.9h0M905.1 490.9h0M905.6 490.8h0M906.6 490.6h0M906.9 490.5h0M908.4 490.2h0M908.5 490.2h0M909.1 490.1h0M909.2 490h0M909.5 490h0M909.5 490h0M910.1 489.9h0M910.9 489.7h0M911 489.7h0M911.1 489.7h0M911.2 489.6h0M912.2 489.4h0M912.9 489.3h0M913.2 489.2h0M913.3 489.2h0M913.5 489.1h0M913.8 489.1h0M914.4 488.9h0M915.1 488.8h0M915.2 488.7h0M915.3 488.7h0M916 488.6h0M916.8 488.4h0M916.9 488.4h0M918.6 487.9h0M919.3 487.8h0M920.1 487.5h0M920.2 487.5h0M920.2 487.5h0M920.7 487.4h0M921.1 487.3h0M921.4 487.2h0M921.4 487.2h0M921.5 487.2h0M921.6 487.1h0M921.8 487.1h0M921.8 487.1h0M921.9 487.1h0M922.4 486.9h0M923.7 486.6h0M924.4 486.4h0M925.6 486h0M925.8 486h0M925.9 485.9h0M926.1 485.9h0M926.9 485.7h0M927.2 485.6h0M927.6 485.5h0M927.7 485.4h0M927.9 485.4h0M928.2 485.3h0M928.3 485.3h0M928.5 485.2h0M928.7 485.1h0M930 484.7h0M930.7 484.5h0M930.8 484.5h0M931.4 484.3h0M931.9 484.2h0M932.7 483.9h0M933.5 483.7h0M934 483.6h0M935.6 483.1h0M936 483h0M936.3 482.9h0M936.9 482.7h0M937.3 482.6h0M937.6 482.5h0M938.2 482.4h0M940 481.9h0M940.3 481.8h0M940.7 481.7h0M941.3 481.5h0M942.4 481.2h0M942.5 481.2h0M944.9 480.5h0M947.3 479.7h0M948.7 479.3h0M948.7 479.3h0M948.7 479.3h0M950.8 478.7h0M950.9 478.6h0M951.3 478.5h0M954.5 477.4h0M954.6 477.3h0M955.8 476.9h0M956.9 476.5h0M957.1 476.4h0M958 476.1h0M959.5 475.5h0M959.8 475.4h0M960 475.3h0M960.2 475.2h0M960.5 475.1h0M960.8 475h0M962.6 474.2h0M963.3 473.8h0M966.6 472.2h0M966.9 472h0M967.7 471.5h0M970.1 470h0M971.6 469h0M971.7 468.9h0M974.1 467.2h0M974.2 467.2h0M975.1 466.4h0M984.7 457.8h0M987.5 453.2h0M990.8 448.6h0M994.3 446.3h0M995.4 445.6h0M997.6 444.2h0M1003.5 440.8h0"/>
<path d="M783.2 543.5h0M812.3 527.7h0M813.8 526.6h0M815.1 525.8h0M829.9 516.2h0M838.3 511.4h0M840.7 510.5h0M841.7 510.2h0M844.9 508.6h0M847.7 507h0M847.9 506.9h0M848.6 506.5h0M851.6 505.1h0M858.3 502.8h0M865 500.8h0M865.8 500.6h0M870.4 499.3h0M871.3 499h0M873.9 498.3h0M874.8 498.1h0M875.6 497.8h0M876.3 497.7h0M878.1 497.2h0M878.2 497.2h0M879.5 496.9h0M879.7 496.8h0M880 496.7h0M881.1 496.4h0M882.4 496.1h0M882.6 496.1h0M882.8 496h0M883.6 495.8h0M883.7 495.8h0M884.1 495.7h0M884.6 495.6h0M885.1 495.4h0M885.6 495.3h0M886.2 495.2h0M886.7 495.1h0M886.8 495h0M887.3 494.9h0M887.4 494.9h0M889 494.5h0M889.8 494.3h0M889.9 494.3h0M891.6 493.9h0M891.6 493.9h0M892.1 493.8h0M892.4 493.7h0M892.7 493.6h0M894.3 493.3h0M894.4 493.2h0M895 493.1h0M895.3 493h0M895.4 493h0M895.6 493h0M895.8 492.9h0M896.4 492.8h0M896.7 492.7h0M896.8 492.7h0M896.8 492.7h0M897.4 492.5h0M897.7 492.5h0M899.1 492.2h0M899.2 492.1h0M899.7 492h0M900.6 491.8h0M900.6 491.8h0M900.8 491.8h0M900.9 491.8h0M901.4 491.7h0M903.3 491.3h0M903.6 491.2h0M904 491.1h0M904.1 491.1h0M904.5 491h0M904.5 491h0M904.9 490.9h0M904.9 490.9h0M904.9 490.9h0M905.6 490.8h0M906.4 490.6h0M906.5 490.6h0M907.8 490.3h0M907.9 490.3h0M908.7 490.2h0M909.4 490h0M909.7 490h0M910.3 489.8h0M910.3 489.8h0M910.7 489.7h0M912.1 489.4h0M912.4 489.4h0M912.7 489.3h0M912.8 489.3h0M912.9 489.3h0M913 489.2h0M913.1 489.2h0M914.3 489h0M915.4 488.7h0M915.8 488.6h0M915.8 488.6h0M915.9 488.6h0M916.7 488.4h0M917.8 488.1h0M918.2 488h0M918.5 488h0M918.6 487.9h0M919.2 487.8h0M919.7 487.7h0M920 487.6h0M920.5 487.4h0M920.6 487.4h0M920.6 487.4h0M921.3 487.2h0M921.8 487.1h0M923.6 486.6h0M924.4 486.4h0M924.7 486.3h0M927 485.6h0M927.8 485.4h0M928 485.3h0M928.1 485.3h0M929.5 484.9h0M931 484.5h0M932.1 484.1h0M932.3 484.1h0M932.9 483.9h0M933 483.9h0M933.2 483.8h0M933.6 483.7h0M934.8 483.4h0M935.7 483.1h0M938 482.4h0M939.4 482h0M939.9 481.9h0M940.6 481.7h0M941.7 481.4h0M941.7 481.4h0M942.3 481.2h0M943.2 481h0M943.7 480.8h0M944 480.7h0M944.2 480.7h0M944.5 480.6h0M944.6 480.5h0M945.1 480.4h0M946.2 480.1h0M946.4 480h0M946.5 480h0M947.4 479.7h0M947.9 479.6h0M948.2 479.5h0M949.2 479.2h0M949.3 479.1h0M949.4 479.1h0M950.2 478.9h0M950.9 478.6h0M952.4 478.1h0M953 477.9h0M953 477.9h0M954.3 477.5h0M954.4 477.4h0M955.5 477h0M956.1 476.8h0M957.3 476.4h0M958.3 476h0M959 475.7h0M961.9 474.5h0M962 474.5h0M963 474h0M963.7 473.7h0M964.4 473.3h0M965.3 472.9h0M966.8 472.1h0M969.6 470.4h0M971.1 469.4h0M972.1 468.7h0M972.7 468.2h0M974.4 467h0M980.4 462.2h0M982.8 459.9h0M985.5 456.6h0M987.1 453.8h0M988.5 451.5h0M999.7 442.9h0M1000.9 442.2h0M1005 440h0M1005.5 439.8h0M1009.8 437.1h0M1050.2 374.3h0"/>
</g>
<text x="770" y="355.2" font-size="18.7" fill="#000">Normal Q-Q</text>
<path d="M842.3 556.8v3.4M916.7 556.8v3.4M991.1 556.8v3.4M770 552.1h-3.6M770 487.1h-3.6M770 422.1h-3.6" stroke="#333" stroke-width="1.3" fill="none"/>
<g font-size="12" fill="#4d4d4d"><text x="842.3" y="573.3" text-anchor="middle">-2</text><text x="916.7" y="573.3" text-anchor="middle">0</text><text x="991.1" y="573.3" text-anchor="middle">2</text><text x="762" y="557.1" text-anchor="end">-5</text><text x="762" y="492.1" text-anchor="end">0</text><text x="762" y="427.1" text-anchor="end">5</text></g>
<text x="916.6" y="592" font-size="15.5" fill="#000" text-anchor="middle">Theoretical quantiles</text>
<text transform="translate(743.9 460.6) rotate(-90)" font-size="15.5" fill="#000" text-anchor="middle">Standardized residuals</text>
<clipPath id="cp5"><rect x="440.2" y="634.7" width="276.6" height="188.7"/></clipPath>
<rect x="440.2" y="634.7" width="276.6" height="188.7" fill="#ebebeb"/>
<path d="M505.1 634.7V823.4M576.3 634.7V823.4M647.5 634.7V823.4M440.2 794H716.8M440.2 751.4H716.8M440.2 708.6H716.8M440.2 665.9H716.8" stroke="#fff" stroke-width="0.7" fill="none" opacity="0.85"/>
<path d="M469.5 634.7V823.4M540.7 634.7V823.4M611.9 634.7V823.4M683.1 634.7V823.4M440.2 815.4H716.8M440.2 772.7H716.8M440.2 730H716.8M440.2 687.3H716.8M440.2 644.6H716.8" stroke="#fff" stroke-width="1.4" fill="none"/>
<path clip-path="url(#cp5)" d="M453.4 815.4V815.2H478.3V815.4ZM478.3 815.4V811.9H503.2V815.4ZM503.2 815.4V775H528.1V815.4ZM528.1 815.4V643H553V815.4ZM553 815.4V785.5H577.9V815.4ZM577.9 815.4V809H602.8V815.4ZM602.8 815.4V813.7H627.7V815.4ZM627.7 815.4V815.1H652.6V815.4ZM652.6 815.4V815.3H677.5V815.4ZM677.5 815.4V815.3H702.4V815.4Z" fill="#212ff7" fill-opacity="0.5"/>
<text x="440.2" y="622.1" font-size="18.7" fill="#000">Histogram of residuals</text>
<path d="M469.5 823.4v3.4M540.7 823.4v3.4M611.9 823.4v3.4M683.1 823.4v3.4M440.2 815.4h-3.6M440.2 772.7h-3.6M440.2 730h-3.6M440.2 687.3h-3.6M440.2 644.6h-3.6" stroke="#333" stroke-width="1.3" fill="none"/>
<g font-size="12" fill="#4d4d4d"><text x="469.5" y="839.9" text-anchor="middle">-5000</text><text x="540.7" y="839.9" text-anchor="middle">0</text><text x="611.9" y="839.9" text-anchor="middle">5000</text><text x="683.1" y="839.9" text-anchor="middle">10000</text><text x="432.2" y="820.4" text-anchor="end">0</text><text x="432.2" y="777.7" text-anchor="end">500</text><text x="432.2" y="735" text-anchor="end">1000</text><text x="432.2" y="692.3" text-anchor="end">1500</text><text x="432.2" y="649.6" text-anchor="end">2000</text></g>
<text x="578.5" y="858.6" font-size="15.5" fill="#000" text-anchor="middle">Residuals</text>
<text transform="translate(396.9 729) rotate(-90)" font-size="15.5" fill="#000" text-anchor="middle">count</text>
<clipPath id="cp6"><rect x="755.3" y="634.7" width="307.9" height="188.7"/></clipPath>
<rect x="755.3" y="634.7" width="307.9" height="188.7" fill="#ebebeb"/>
<path d="M819.2 634.7V823.4M907.4 634.7V823.4M995.6 634.7V823.4M755.3 798.6H1063.2M755.3 765.1H1063.2M755.3 731.6H1063.2M755.3 698.1H1063.2M755.3 664.6H1063.2" stroke="#fff" stroke-width="0.7" fill="none" opacity="0.85"/>
<path d="M775.1 634.7V823.4M863.3 634.7V823.4M951.5 634.7V823.4M1039.7 634.7V823.4M755.3 815.4H1063.2M755.3 781.9H1063.2M755.3 748.4H1063.2M755.3 714.9H1063.2M755.3 681.4H1063.2M755.3 647.9H1063.2" stroke="#fff" stroke-width="1.4" fill="none"/>
<path clip-path="url(#cp6)" d="M769.9 815.4L770.8 815.4L771.6 815.3L772.5 815.3L773.3 815.2L774.2 815.2L775 815.1L775.9 815.1L776.7 815.1L777.6 815L778.4 815L779.3 814.9L780.1 814.9L781 814.9L781.8 814.8L782.7 814.8L783.5 814.7L784.4 814.7L785.2 814.7L786.1 814.6L787 814.6L787.8 814.5L788.7 814.4L789.5 814.3L790.4 814.1L791.2 814L792.1 813.9L792.9 813.9L793.8 813.8L794.6 813.8L795.5 813.8L796.3 813.8L797.2 813.8L798 813.8L798.9 813.7L799.7 812.8L800.6 812.3L801.4 812.1L802.3 811.9L803.2 811.8L804 811.7L804.9 811.6L805.7 811.5L806.6 811.4L807.4 811.3L808.3 811.1L809.1 810.9L810 810.7L810.8 810.4L811.7 810L812.5 809.6L813.4 809.3L814.2 808.8L815.1 808.4L815.9 808L816.8 807.5L817.6 807L818.5 806.4L819.3 805.8L820.2 805.2L821.1 804.7L821.9 804.4L822.8 804.3L823.6 804.2L824.5 804.1L825.3 804L826.2 803.8L827 803.4L827.9 802.6L828.7 801.4L829.6 800.1L830.4 798.5L831.3 796.2L832.1 793.7L833 791.1L833.8 788.4L834.7 785.6L835.5 782.7L836.4 779.7L837.3 776.6L838.1 773.5L839 770.3L839.8 767.2L840.7 764.2L841.5 761.3L842.4 758.1L843.2 754.2L844.1 749.6L844.9 744.6L845.8 739.7L846.6 734.5L847.5 729.1L848.3 723.3L849.2 717.2L850 710.6L850.9 703.7L851.7 696.8L852.6 690L853.5 683.2L854.3 676.4L855.2 669.5L856 662.7L856.9 655.6L857.7 649.7L858.6 645.6L859.4 643.7L860.3 643L861.1 644L862 646.3L862.8 650.7L863.7 655.6L864.5 661.1L865.4 666.4L866.2 671.5L867.1 676.6L867.9 681.6L868.8 686.7L869.7 692.2L870.5 698.3L871.4 704.3L872.2 709.9L873.1 715.4L873.9 720.9L874.8 726.4L875.6 732L876.5 738.1L877.3 744.4L878.2 749.5L879 753.6L879.9 757.2L880.7 760.4L881.6 763.3L882.4 766.3L883.3 769.1L884.1 772.1L885 775.5L885.9 779.5L886.7 783.3L887.6 786.7L888.4 789.7L889.3 792L890.1 793.9L891 795.4L891.8 796.4L892.7 797.2L893.5 797.8L894.4 798.4L895.2 799L896.1 799.5L896.9 800.1L897.8 800.7L898.6 801.6L899.5 802.6L900.3 803.6L901.2 804.6L902.1 805.6L902.9 806.7L903.8 807.4L904.6 807.8L905.5 807.9L906.3 808.1L907.2 808.1L908 808.1L908.9 808L909.7 807.8L910.6 807.7L911.4 807.8L912.3 808.3L913.1 809L914 809.8L914.8 810.3L915.7 811L916.5 811.7L917.4 812.2L918.2 812.5L919.1 812.5L920 812.4L920.8 812.3L921.7 812.1L922.5 811.8L923.4 811.5L924.2 810.9L925.1 810.2L925.9 809.6L926.8 809.3L927.6 809.1L928.5 808.9L929.3 808.8L930.2 808.8L931 809.4L931.9 810.1L932.7 810.5L933.6 810.8L934.4 811L935.3 811.2L936.2 811.4L937 811.7L937.9 812L938.7 812.2L939.6 812.5L940.4 812.7L941.3 812.9L942.1 813.1L943 813.3L943.8 813.5L944.7 813.7L945.5 813.9L946.4 814.1L947.2 814.4L948.1 814.6L948.9 814.7L949.8 814.8L950.6 814.8L951.5 814.8L952.4 814.8L953.2 814.8L954.1 814.7L954.9 814.7L955.8 814.7L956.6 814.7L957.5 814.7L958.3 814.7L959.2 814.6L960 814.6L960.9 814.6L961.7 814.6L962.6 814.6L963.4 814.7L964.3 814.7L965.1 814.8L966 814.9L966.8 815L967.7 815L968.6 815L969.4 815L970.3 815L971.1 815L972 815L972.8 815L973.7 815L974.5 815L975.4 815L976.2 815L977.1 815L977.9 815L978.8 815L979.6 814.9L980.5 814.9L981.3 814.9L982.2 814.9L983 814.9L983.9 814.9L984.8 815L985.6 815L986.5 815L987.3 815.1L988.2 815.1L989 815.1L989.9 815.1L990.7 815.2L991.6 815.2L992.4 815.2L993.3 815.2L994.1 815.2L995 815.2L995.8 815.2L996.7 815.2L997.5 815.2L998.4 815.2L999.2 815.2L1000.1 815.2L1001 815.2L1001.8 815.2L1002.7 815.2L1003.5 815.2L1004.4 815.2L1005.2 815.2L1006.1 815.2L1006.9 815.2L1007.8 815.2L1008.6 815.2L1009.5 815.2L1010.3 815.3L1011.2 815.3L1012 815.3L1012.9 815.3L1013.7 815.3L1014.6 815.3L1015.4 815.3L1016.3 815.3L1017.1 815.3L1018 815.3L1018.9 815.3L1019.7 815.3L1020.6 815.3L1021.4 815.3L1022.3 815.3L1023.1 815.3L1024 815.3L1024.8 815.3L1025.7 815.3L1026.5 815.3L1027.4 815.3L1028.2 815.3L1029.1 815.3L1029.9 815.3L1030.8 815.3L1031.6 815.3L1032.5 815.3L1033.3 815.3L1034.2 815.3L1035.1 815.3L1035.9 815.3L1036.8 815.3L1037.6 815.3L1038.5 815.3L1039.3 815.3L1040.2 815.2L1041 815.2L1041.9 815.2L1042.7 815.2L1043.6 815.2L1044.4 815.2L1045.3 815.2L1046.1 815.2L1047 815.2L1047.8 815.2L1048.7 815.3L1049.5 815.3L1050.4 815.4L1050.3 815.4L769.8 815.4Z" fill="#41f22d" fill-opacity="0.3" stroke="#000" stroke-width="1.5" stroke-linejoin="round"/>
<path clip-path="url(#cp6)" d="M769.8 815.4L770.7 815.4L771.5 815.4L772.4 815.4L773.2 815.4L774.1 815.4L774.9 815.4L775.8 815.4L776.6 815.4L777.5 815.4L778.3 815.4L779.2 815.4L780 815.3L780.9 815.3L781.7 815.3L782.6 815.3L783.4 815.3L784.3 815.3L785.1 815.3L786 815.2L786.9 815.2L787.7 815.2L788.6 815.1L789.4 815.1L790.3 815.1L791.1 815L792 815L792.8 814.9L793.7 814.8L794.5 814.8L795.4 814.7L796.2 814.6L797.1 814.5L797.9 814.3L798.8 814.2L799.6 814.1L800.5 813.9L801.3 813.7L802.2 813.5L803.1 813.3L803.9 813L804.8 812.8L805.6 812.5L806.5 812.1L807.3 811.8L808.2 811.4L809 810.9L809.9 810.5L810.7 810L811.6 809.4L812.4 808.8L813.3 808.2L814.1 807.5L815 806.7L815.8 805.9L816.7 805.1L817.5 804.1L818.4 803.1L819.2 802.1L820.1 801L821 799.8L821.8 798.5L822.7 797.2L823.5 795.8L824.4 794.3L825.2 792.7L826.1 791.1L826.9 789.3L827.8 787.6L828.6 785.7L829.5 783.7L830.3 781.7L831.2 779.6L832 777.4L832.9 775.2L833.7 772.9L834.6 770.5L835.4 768.1L836.3 765.6L837.2 763.1L838 760.6L838.9 758L839.7 755.4L840.6 752.7L841.4 750.1L842.3 747.4L843.1 744.8L844 742.1L844.8 739.5L845.7 736.9L846.5 734.4L847.4 731.9L848.2 729.5L849.1 727.1L849.9 724.8L850.8 722.6L851.6 720.5L852.5 718.5L853.4 716.6L854.2 714.9L855.1 713.2L855.9 711.8L856.8 710.4L857.6 709.2L858.5 708.2L859.3 707.3L860.2 706.6L861 706L861.9 705.6L862.7 705.4L863.6 705.4L864.4 705.6L865.3 705.9L866.1 706.4L867 707L867.8 707.9L868.7 708.8L869.6 710L870.4 711.3L871.3 712.7L872.1 714.3L873 716L873.8 717.9L874.7 719.8L875.5 721.9L876.4 724.1L877.2 726.3L878.1 728.7L878.9 731.1L879.8 733.6L880.6 736.1L881.5 738.7L882.3 741.3L883.2 743.9L884 746.5L884.9 749.2L885.8 751.9L886.6 754.5L887.5 757.1L888.3 759.7L889.2 762.3L890 764.8L890.9 767.3L891.7 769.7L892.6 772.1L893.4 774.4L894.3 776.7L895.1 778.9L896 781L896.8 783.1L897.7 785L898.5 786.9L899.4 788.8L900.2 790.5L901.1 792.2L902 793.8L902.8 795.3L903.7 796.7L904.5 798.1L905.4 799.4L906.2 800.6L907.1 801.7L907.9 802.8L908.8 803.8L909.6 804.8L910.5 805.6L911.3 806.5L912.2 807.2L913 808L913.9 808.6L914.7 809.2L915.6 809.8L916.4 810.3L917.3 810.8L918.1 811.2L919 811.6L919.9 812L920.7 812.4L921.6 812.7L922.4 812.9L923.3 813.2L924.1 813.4L925 813.6L925.8 813.8L926.7 814L927.5 814.2L928.4 814.3L929.2 814.4L930.1 814.5L930.9 814.6L931.8 814.7L932.6 814.8L933.5 814.9L934.3 814.9L935.2 815L936.1 815.1L936.9 815.1L937.8 815.1L938.6 815.2L939.5 815.2L940.3 815.2L941.2 815.3L942 815.3L942.9 815.3L943.7 815.3L944.6 815.3L945.4 815.3L946.3 815.3L947.1 815.3L948 815.4L948.8 815.4L949.7 815.4L950.5 815.4L951.4 815.4L952.3 815.4L953.1 815.4L954 815.4L954.8 815.4L955.7 815.4L956.5 815.4L957.4 815.4L958.2 815.4L959.1 815.4L959.9 815.4L960.8 815.4L961.6 815.4L962.5 815.4L963.3 815.4L964.2 815.4L965 815.4L965.9 815.4L966.7 815.4L967.6 815.4L968.5 815.4L969.3 815.4L970.2 815.4L971 815.4L971.9 815.4L972.7 815.4L973.6 815.4L974.4 815.4L975.3 815.4L976.1 815.4L977 815.4L977.8 815.4L978.7 815.4L979.5 815.4L980.4 815.4L981.2 815.4L982.1 815.4L982.9 815.4L983.8 815.4L984.7 815.4L985.5 815.4L986.4 815.4L987.2 815.4L988.1 815.4L988.9 815.4L989.8 815.4L990.6 815.4L991.5 815.4L992.3 815.4L993.2 815.4L994 815.4L994.9 815.4L995.7 815.4L996.6 815.4L997.4 815.4L998.3 815.4L999.1 815.4L1000 815.4L1000.9 815.4L1001.7 815.4L1002.6 815.4L1003.4 815.4L1004.3 815.4L1005.1 815.4L1006 815.4L1006.8 815.4L1007.7 815.4L1008.5 815.4L1009.4 815.4L1010.2 815.4L1011.1 815.4L1011.9 815.4L1012.8 815.4L1013.6 815.4L1014.5 815.4L1015.3 815.4L1016.2 815.4L1017 815.4L1017.9 815.4L1018.8 815.4L1019.6 815.4L1020.5 815.4L1021.3 815.4L1022.2 815.4L1023 815.4L1023.9 815.4L1024.7 815.4L1025.6 815.4L1026.4 815.4L1027.3 815.4L1028.1 815.4L1029 815.4L1029.8 815.4L1030.7 815.4L1031.5 815.4L1032.4 815.4L1033.2 815.4L1034.1 815.4L1035 815.4L1035.8 815.4L1036.7 815.4L1037.5 815.4L1038.4 815.4L1039.2 815.4L1040.1 815.4L1040.9 815.4L1041.8 815.4L1042.6 815.4L1043.5 815.4L1044.3 815.4L1045.2 815.4L1046 815.4L1046.9 815.4L1047.7 815.4L1048.6 815.4L1049.4 815.4L1050.3 815.4" fill="none" stroke="#2141f5" stroke-width="1.6"/>
<text x="755.3" y="622.1" font-size="18.7" fill="#000">Residuals vs Normal density</text>
<path d="M775.1 823.4v3.4M863.3 823.4v3.4M951.5 823.4v3.4M1039.7 823.4v3.4M755.3 815.4h-3.6M755.3 781.9h-3.6M755.3 748.4h-3.6M755.3 714.9h-3.6M755.3 681.4h-3.6M755.3 647.9h-3.6" stroke="#333" stroke-width="1.3" fill="none"/>
<g font-size="12" fill="#4d4d4d"><text x="775.1" y="839.9" text-anchor="middle">-5000</text><text x="863.3" y="839.9" text-anchor="middle">0</text><text x="951.5" y="839.9" text-anchor="middle">5000</text><text x="1039.7" y="839.9" text-anchor="middle">10000</text></g>
<text x="909.2" y="858.6" font-size="15.5" fill="#000" text-anchor="middle">Residuals</text>
</svg>
</body>
</html>
